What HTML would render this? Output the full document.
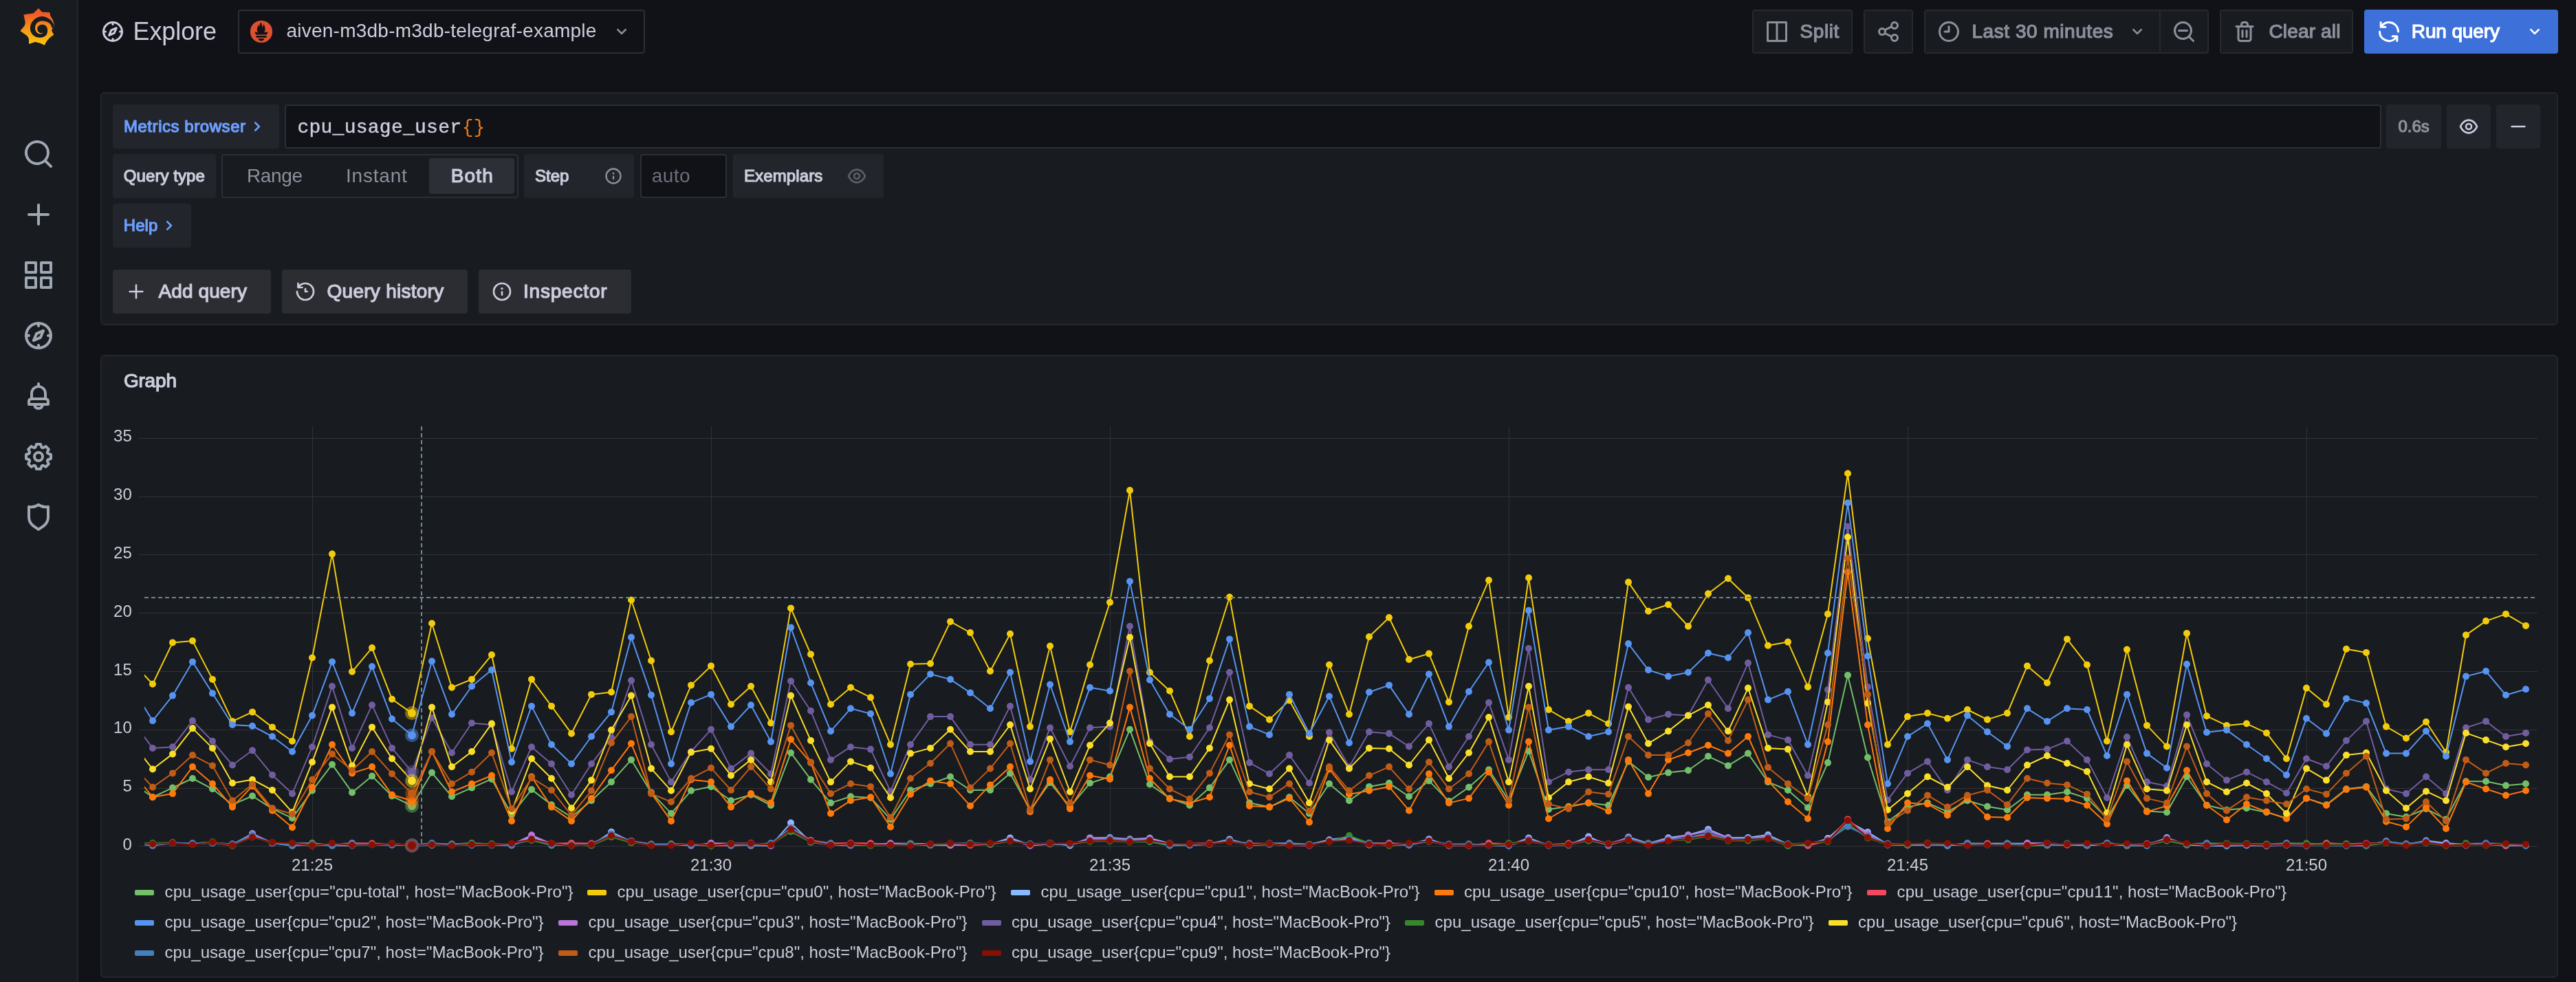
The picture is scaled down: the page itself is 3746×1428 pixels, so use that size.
<!DOCTYPE html>
<html><head><meta charset="utf-8"><title>Explore - Grafana</title><style>
html,body{margin:0;padding:0;background:#111217;}
body{width:3746px;height:1428px;position:relative;overflow:hidden;font-family:"Liberation Sans",sans-serif;}
.b{position:absolute;box-sizing:border-box;}
.ic{position:absolute;display:block;}
.t{position:absolute;white-space:pre;line-height:1;font-kerning:none;}
.m{font-family:"Liberation Mono",monospace;}
.w5{-webkit-text-stroke:1.2px currentColor;}
.w4{-webkit-text-stroke:0.45px currentColor;}

</style></head><body>
<div class="b" style="left:0;top:0;width:114px;height:1428px;background:#181b1f;border-right:2px solid #24262c"></div>
<svg class="ic" style="left:16px;top:0px" width="80" height="80" viewBox="0 0 982 982">
<defs><linearGradient id="lg" x1="0" y1="0" x2="0" y2="1"><stop offset="0.15" stop-color="#f05a28"/><stop offset="0.6" stop-color="#f59b17"/><stop offset="1" stop-color="#fcc60c"/></linearGradient></defs>
<path fill="url(#lg)" d="M492,148 L553,215 L690,222 L705,285 C745,340 768,400 772,465 L742,505 L725,545 L765,620 L700,665 L640,730 L598,808 L520,770 L430,750 L320,785 L318,690 L290,640 L165,553 L245,455 L255,400 L225,262 L400,235 Z"/>
<path fill="#181b1f" d="M772,465 C760,420 730,370 700,350 C660,315 610,292 560,290 C480,290 400,340 360,420 C335,480 340,540 360,580 C390,640 450,672 520,672 C570,670 610,650 635,620 C650,590 655,550 650,520 C645,475 610,440 560,440 C510,440 472,470 470,510 C468,550 490,580 520,588 C545,594 565,590 578,578 C565,598 545,608 525,607 C470,605 432,560 430,500 C430,430 480,378 545,375 C620,372 690,400 715,450 C722,465 725,480 725,492 L748,500 Z"/>
</svg>
<svg class="ic" style="left:32px;top:200px" width="48" height="48" viewBox="0 0 24 24"><path fill="#9fa7b3" d="M21.71,20.29,18,16.61A9,9,0,1,0,16.61,18l3.68,3.68a1,1,0,0,0,1.42,0A1,1,0,0,0,21.71,20.29ZM11,18a7,7,0,1,1,7-7A7,7,0,0,1,11,18Z"/></svg>
<svg class="ic" style="left:32px;top:288px" width="48" height="48" viewBox="0 0 24 24"><path fill="#9fa7b3" d="M19,11H13V5a1,1,0,0,0-2,0v6H5a1,1,0,0,0,0,2h6v6a1,1,0,0,0,2,0V13h6a1,1,0,0,0,0-2Z"/></svg>
<svg class="ic" style="left:32px;top:376px" width="48" height="48" viewBox="0 0 24 24"><path fill="#9fa7b3" d="M10,13H3a1,1,0,0,0-1,1v7a1,1,0,0,0,1,1h7a1,1,0,0,0,1-1V14A1,1,0,0,0,10,13ZM9,20H4V15H9ZM21,2H14a1,1,0,0,0-1,1v7a1,1,0,0,0,1,1h7a1,1,0,0,0,1-1V3A1,1,0,0,0,21,2ZM20,9H15V4h5Zm1,4H14a1,1,0,0,0-1,1v7a1,1,0,0,0,1,1h7a1,1,0,0,0,1-1V14A1,1,0,0,0,21,13Zm-1,7H15V15h5ZM10,2H3A1,1,0,0,0,2,3v7a1,1,0,0,0,1,1h7a1,1,0,0,0,1-1V3A1,1,0,0,0,10,2ZM9,9H4V4H9Z"/></svg>
<svg class="ic" style="left:32px;top:464px" width="48" height="48" viewBox="0 0 24 24"><path fill="#9fa7b3" d="M12,2A10,10,0,1,0,22,12,10,10,0,0,0,12,2Zm1,17.93V19a1,1,0,0,0-2,0v.93A8,8,0,0,1,4.07,13H5a1,1,0,0,0,0-2H4.07A8,8,0,0,1,11,4.07V5a1,1,0,0,0,2,0V4.07A8,8,0,0,1,19.93,11H19a1,1,0,0,0,0,2h.93A8,8,0,0,1,13,19.93ZM15.14,7.55l-5,2.12a1,1,0,0,0-.53.53l-2.12,5a1,1,0,0,0,.21,1.1,1,1,0,0,0,.7.29.93.93,0,0,0,.39-.08l5-2.12a1,1,0,0,0,.53-.53l2.12-5a1,1,0,0,0-1.31-1.31Zm-2.49,5.1-2.28,1,1-2.28,2.28-1Z"/></svg>
<svg class="ic" style="left:32px;top:552px" width="48" height="48" viewBox="0 0 24 24"><path fill="#9fa7b3" d="M18,13.18V10a6,6,0,0,0-5-5.91V3a1,1,0,0,0-2,0V4.09A6,6,0,0,0,6,10v3.18A3,3,0,0,0,4,16v2a1,1,0,0,0,1,1H8.14a4,4,0,0,0,7.72,0H19a1,1,0,0,0,1-1V16A3,3,0,0,0,18,13.18ZM8,10a4,4,0,0,1,8,0v3H8Zm4,10a2,2,0,0,1-1.72-1h3.44A2,2,0,0,1,12,20Zm6-3H6V16a1,1,0,0,1,1-1H17a1,1,0,0,1,1,1Z"/></svg>
<svg class="ic" style="left:32px;top:640px" width="48" height="48" viewBox="0 0 24 24"><path fill="#9fa7b3" d="M21.32,9.55l-1.89-.63.89-1.78A1,1,0,0,0,20.13,6L18,3.87a1,1,0,0,0-1.15-.19l-1.78.89-.63-1.89A1,1,0,0,0,13.5,2h-3a1,1,0,0,0-.95.68L8.92,4.57,7.14,3.68A1,1,0,0,0,6,3.87L3.87,6a1,1,0,0,0-.19,1.15l.89,1.78-1.89.63A1,1,0,0,0,2,10.5v3a1,1,0,0,0,.68.95l1.89.63-.89,1.78A1,1,0,0,0,3.87,18L6,20.13a1,1,0,0,0,1.15.19l1.78-.89.63,1.89a1,1,0,0,0,.95.68h3a1,1,0,0,0,.95-.68l.63-1.89,1.78.89A1,1,0,0,0,18,20.13L20.13,18a1,1,0,0,0,.19-1.15l-.89-1.78,1.89-.63A1,1,0,0,0,22,13.5v-3A1,1,0,0,0,21.32,9.55ZM20,12.78l-1.2.4A2,2,0,0,0,17.64,16l.57,1.14-1.1,1.1L16,17.64a2,2,0,0,0-2.79,1.16l-.4,1.2H11.22l-.4-1.2A2,2,0,0,0,8,17.64l-1.14.57-1.1-1.1L6.36,16A2,2,0,0,0,5.2,13.18L4,12.78V11.22l1.2-.4A2,2,0,0,0,6.36,8L5.79,6.89l1.1-1.1L8,6.36A2,2,0,0,0,10.82,5.2l.4-1.2h1.56l.4,1.2A2,2,0,0,0,16,6.36l1.14-.57,1.1,1.1L17.64,8a2,2,0,0,0,1.16,2.79l1.2.4ZM12,8a4,4,0,1,0,4,4A4,4,0,0,0,12,8Zm0,6a2,2,0,1,1,2-2A2,2,0,0,1,12,14Z"/></svg>
<svg class="ic" style="left:32px;top:728px" width="48" height="48" viewBox="0 0 24 24"><path fill="#9fa7b3" d="M19.63,3.65a1,1,0,0,0-.84-.2,8,8,0,0,1-6.22-1.27,1,1,0,0,0-1.14,0A8,8,0,0,1,5.21,3.45a1,1,0,0,0-.84.2A1,1,0,0,0,4,4.43v7.45a9,9,0,0,0,3.77,7.33l3.65,2.6a1,1,0,0,0,1.16,0l3.65-2.6A9,9,0,0,0,20,11.88V4.43A1,1,0,0,0,19.63,3.65ZM18,11.88a7,7,0,0,1-2.93,5.7L12,19.77,8.93,17.58A7,7,0,0,1,6,11.88V5.58a10,10,0,0,0,6-1.39,10,10,0,0,0,6,1.39Z"/></svg>
<svg class="ic" style="left:146px;top:28px" width="36" height="36" viewBox="0 0 24 24"><path fill="#ccccdc" d="M12,2A10,10,0,1,0,22,12,10,10,0,0,0,12,2Zm1,17.93V19a1,1,0,0,0-2,0v.93A8,8,0,0,1,4.07,13H5a1,1,0,0,0,0-2H4.07A8,8,0,0,1,11,4.07V5a1,1,0,0,0,2,0V4.07A8,8,0,0,1,19.93,11H19a1,1,0,0,0,0,2h.93A8,8,0,0,1,13,19.93ZM15.14,7.55l-5,2.12a1,1,0,0,0-.53.53l-2.12,5a1,1,0,0,0,.21,1.1,1,1,0,0,0,.7.29.93.93,0,0,0,.39-.08l5-2.12a1,1,0,0,0,.53-.53l2.12-5a1,1,0,0,0-1.31-1.31Zm-2.49,5.1-2.28,1,1-2.28,2.28-1Z"/></svg>
<div class="b" style="left:346px;top:14px;width:592px;height:64px;background:#111217;border-radius:4px;border:2px solid #2c2e36;"></div>
<svg class="ic" style="left:364px;top:30px" width="32" height="32" viewBox="0 0 32 32"><circle cx="16" cy="16" r="16.1" fill="#de502f"/>
<path fill="#141217" d="M15.4,2 C16.5,4.5 17.3,6.8 17.7,10 C18.5,8.4 19.2,6.6 19.5,4.8 C20.5,7.5 21.8,10 21.6,13.3 C21.5,15 20.9,16 20.3,16.9 L25.6,16.5 L23.9,20.4 L8.2,20.4 L6.3,16.5 L11.3,16.9 C10.2,15.6 9.6,14.6 9.8,13.3 C9.9,10.5 11,8 11.4,5.6 C11.9,7 12.3,8 12.4,9.3 C13.2,7 14.2,4.5 15.4,2 Z"/>
<rect x="8.500" y="22" width="15.200" height="2.600" fill="#141217"/>
<path fill="#141217" d="M11.300,26 H20.500 C19.900,28.200 18.100,29.500 15.900,29.500 C13.700,29.500 11.900,28.200 11.300,26 Z"/></svg>
<svg class="ic" style="left:888px;top:30px" width="32" height="32" viewBox="0 0 24 24"><path fill="#8e8f9c" d="M17,9.17a1,1,0,0,0-1.41,0L12,12.71,8.46,9.17a1,1,0,0,0-1.41,0,1,1,0,0,0,0,1.42l4.24,4.24a1,1,0,0,0,1.42,0L17,10.59A1,1,0,0,0,17,9.17Z"/></svg>
<div class="b" style="left:2548px;top:14px;width:146px;height:64px;background:#181b1f;border-radius:4px;border:2px solid #27292f;"></div>
<svg class="ic" style="left:2566px;top:28px" width="36" height="36" viewBox="0 0 24 24"><path fill="#8e8f9c" d="M21,2H3A1,1,0,0,0,2,3V21a1,1,0,0,0,1,1H21a1,1,0,0,0,1-1V3A1,1,0,0,0,21,2ZM11,20H4V4h7Zm9,0H13V4h7Z"/></svg>
<div class="b" style="left:2710px;top:14px;width:72px;height:64px;background:#181b1f;border-radius:4px;border:2px solid #27292f;"></div>
<svg class="ic" style="left:2728px;top:28px" width="36" height="36" viewBox="0 0 24 24"><path fill="#8e8f9c" d="M18,14a4,4,0,0,0-3.08,1.48l-5.1-2.35a3.64,3.64,0,0,0,0-2.26l5.1-2.35A4,4,0,1,0,14,6a4.17,4.17,0,0,0,.07.71L8.79,9.14a4,4,0,1,0,0,5.72l5.28,2.43A4.17,4.17,0,0,0,14,18a4,4,0,1,0,4-4ZM18,4a2,2,0,1,1-2,2A2,2,0,0,1,18,4ZM6,14a2,2,0,1,1,2-2A2,2,0,0,1,6,14Zm12,6a2,2,0,1,1,2-2A2,2,0,0,1,18,20Z"/></svg>
<div class="b" style="left:2798px;top:14px;width:414px;height:64px;background:#181b1f;border-radius:4px;border:2px solid #27292f;"></div>
<div class="b" style="left:3140px;top:16px;width:2px;height:60px;background:#27292f"></div>
<svg class="ic" style="left:2816px;top:28px" width="36" height="36" viewBox="0 0 24 24"><path fill="#8e8f9c" d="M12,2A10,10,0,1,0,22,12,10.01,10.01,0,0,0,12,2Zm0,18a8,8,0,1,1,8-8A8.01,8.01,0,0,1,12,20ZM12,6a1,1,0,0,0-1,1v4H8a1,1,0,0,0,0,2h4a1,1,0,0,0,1-1V7A1,1,0,0,0,12,6Z"/></svg>
<svg class="ic" style="left:3092px;top:30px" width="32" height="32" viewBox="0 0 24 24"><path fill="#8e8f9c" d="M17,9.17a1,1,0,0,0-1.41,0L12,12.71,8.46,9.17a1,1,0,0,0-1.41,0,1,1,0,0,0,0,1.42l4.24,4.24a1,1,0,0,0,1.42,0L17,10.59A1,1,0,0,0,17,9.17Z"/></svg>
<svg class="ic" style="left:3158px;top:28px" width="36" height="36" viewBox="0 0 24 24"><path fill="#8e8f9c" d="M21.71,20.29,18,16.61A9,9,0,1,0,16.61,18l3.68,3.68a1,1,0,0,0,1.42,0A1,1,0,0,0,21.71,20.29ZM11,18a7,7,0,1,1,7-7A7,7,0,0,1,11,18Zm4-8H7a1,1,0,0,0,0,2h8a1,1,0,0,0,0-2Z"/></svg>
<div class="b" style="left:3228px;top:14px;width:194px;height:64px;background:#181b1f;border-radius:4px;border:2px solid #27292f;"></div>
<svg class="ic" style="left:3246px;top:28px" width="36" height="36" viewBox="0 0 24 24"><path fill="#8e8f9c" d="M10,18a1,1,0,0,0,1-1V11a1,1,0,0,0-2,0v6A1,1,0,0,0,10,18ZM20,6H16V5a3,3,0,0,0-3-3H11A3,3,0,0,0,8,5V6H4A1,1,0,0,0,4,8H5V19a3,3,0,0,0,3,3h8a3,3,0,0,0,3-3V8h1a1,1,0,0,0,0-2ZM10,5a1,1,0,0,1,1-1h2a1,1,0,0,1,1,1V6H10Zm7,14a1,1,0,0,1-1,1H8a1,1,0,0,1-1-1V8H17Zm-3-1a1,1,0,0,0,1-1V11a1,1,0,0,0-2,0v6A1,1,0,0,0,14,18Z"/></svg>
<div class="b" style="left:3438px;top:14px;width:282px;height:64px;background:#3d71d9;border-radius:4px;"></div>
<svg class="ic" style="left:3456px;top:28px" width="36" height="36" viewBox="0 0 24 24"><path fill="#ffffff" d="M19.91,15.51H15.38a1,1,0,0,0,0,2h2.4A8,8,0,0,1,4,12a1,1,0,0,0-2,0,10,10,0,0,0,16.88,7.23V21a1,1,0,0,0,2,0V16.5A1,1,0,0,0,19.91,15.51ZM12,2A10,10,0,0,0,5.12,4.77V3a1,1,0,0,0-2,0V7.5a1,1,0,0,0,1,1h4.5a1,1,0,0,0,0-2H6.22A8,8,0,0,1,20,12a1,1,0,0,0,2,0A10,10,0,0,0,12,2Z"/></svg>
<svg class="ic" style="left:3670px;top:30px" width="32" height="32" viewBox="0 0 24 24"><path fill="#ffffff" d="M17,9.17a1,1,0,0,0-1.41,0L12,12.71,8.46,9.17a1,1,0,0,0-1.41,0,1,1,0,0,0,0,1.42l4.24,4.24a1,1,0,0,0,1.42,0L17,10.59A1,1,0,0,0,17,9.17Z"/></svg>
<div class="b" style="left:146px;top:134px;width:3574px;height:339px;background:#181b1f;border-radius:6px;border:2px solid #24262c;"></div>
<div class="b" style="left:164px;top:152px;width:242px;height:64px;background:#22252b;border-radius:4px;"></div>
<svg class="ic" style="left:358px;top:168px" width="32" height="32" viewBox="0 0 24 24"><path fill="#6e9fff" d="M14.83,11.29,10.59,7.05a1,1,0,0,0-1.42,0,1,1,0,0,0,0,1.41L12.71,12,9.17,15.54a1,1,0,0,0,0,1.41,1,1,0,0,0,.71.29,1,1,0,0,0,.71-.29l4.24-4.24A1,1,0,0,0,14.83,11.29Z"/></svg>
<div class="b" style="left:414px;top:152px;width:3049px;height:64px;background:#111217;border-radius:4px;border:2px solid #2c2e36;"></div>
<div class="b" style="left:3470px;top:152px;width:80px;height:64px;background:#22252b;border-radius:4px;"></div>
<div class="b" style="left:3558px;top:152px;width:64px;height:64px;background:#22252b;border-radius:4px;"></div>
<svg class="ic" style="left:3574px;top:168px" width="32" height="32" viewBox="0 0 24 24"><path fill="#ccccdc" d="M21.92,11.6C19.9,6.91,16.1,4,12,4S4.1,6.91,2.08,11.6a1,1,0,0,0,0,.8C4.1,17.09,7.9,20,12,20s7.9-2.91,9.92-7.6A1,1,0,0,0,21.92,11.6ZM12,18c-3.17,0-6.17-2.29-7.9-6C5.83,8.29,8.83,6,12,6s6.17,2.29,7.9,6C18.17,15.71,15.17,18,12,18ZM12,8a4,4,0,1,0,4,4A4,4,0,0,0,12,8Zm0,6a2,2,0,1,1,2-2A2,2,0,0,1,12,14Z"/></svg>
<div class="b" style="left:3630px;top:152px;width:64px;height:64px;background:#22252b;border-radius:4px;"></div>
<svg class="ic" style="left:3646px;top:168px" width="32" height="32" viewBox="0 0 24 24"><path fill="#ccccdc" d="M19,11H5a1,1,0,0,0,0,2H19a1,1,0,0,0,0-2Z"/></svg>
<div class="b" style="left:164px;top:224px;width:150px;height:64px;background:#22252b;border-radius:4px;"></div>
<div class="b" style="left:322px;top:224px;width:432px;height:64px;background:#181b1f;border-radius:4px;border:2px solid #2c2e36;"></div>
<div class="b" style="left:624px;top:230px;width:124px;height:52px;background:#2d2f36;border-radius:4px;"></div>
<div class="b" style="left:762px;top:224px;width:160px;height:64px;background:#22252b;border-radius:4px;"></div>
<svg class="ic" style="left:878px;top:242px" width="28" height="28" viewBox="0 0 24 24"><path fill="#8e8f9c" d="M12,2A10,10,0,1,0,22,12,10.01,10.01,0,0,0,12,2Zm0,18a8,8,0,1,1,8-8A8.01,8.01,0,0,1,12,20Zm0-8.5a1,1,0,0,0-1,1v3a1,1,0,0,0,2,0v-3A1,1,0,0,0,12,11.5Zm0-4a1.25,1.25,0,1,0,1.25,1.25A1.25,1.25,0,0,0,12,7.5Z"/></svg>
<div class="b" style="left:931px;top:224px;width:126px;height:64px;background:#111217;border-radius:4px;border:2px solid #2c2e36;"></div>
<div class="b" style="left:1066px;top:224px;width:219px;height:64px;background:#22252b;border-radius:4px;"></div>
<svg class="ic" style="left:1230px;top:240px" width="32" height="32" viewBox="0 0 24 24"><path fill="#5c5e6a" d="M21.92,11.6C19.9,6.91,16.1,4,12,4S4.1,6.91,2.08,11.6a1,1,0,0,0,0,.8C4.1,17.09,7.9,20,12,20s7.9-2.91,9.92-7.6A1,1,0,0,0,21.92,11.6ZM12,18c-3.17,0-6.17-2.29-7.9-6C5.83,8.29,8.83,6,12,6s6.17,2.29,7.9,6C18.17,15.71,15.17,18,12,18ZM12,8a4,4,0,1,0,4,4A4,4,0,0,0,12,8Zm0,6a2,2,0,1,1,2-2A2,2,0,0,1,12,14Z"/></svg>
<div class="b" style="left:164px;top:296px;width:114px;height:64px;background:#22252b;border-radius:4px;"></div>
<svg class="ic" style="left:230px;top:312px" width="32" height="32" viewBox="0 0 24 24"><path fill="#6e9fff" d="M14.83,11.29,10.59,7.05a1,1,0,0,0-1.42,0,1,1,0,0,0,0,1.41L12.71,12,9.17,15.54a1,1,0,0,0,0,1.41,1,1,0,0,0,.71.29,1,1,0,0,0,.71-.29l4.24-4.24A1,1,0,0,0,14.83,11.29Z"/></svg>
<div class="b" style="left:164px;top:392px;width:230px;height:64px;background:#2b2d33;border-radius:4px;"></div>
<svg class="ic" style="left:182px;top:408px" width="32" height="32" viewBox="0 0 24 24"><path fill="#ccccdc" d="M19,11H13V5a1,1,0,0,0-2,0v6H5a1,1,0,0,0,0,2h6v6a1,1,0,0,0,2,0V13h6a1,1,0,0,0,0-2Z"/></svg>
<div class="b" style="left:410px;top:392px;width:270px;height:64px;background:#2b2d33;border-radius:4px;"></div>
<svg class="ic" style="left:428px;top:408px" width="32" height="32" viewBox="0 0 24 24"><path fill="#ccccdc" d="M12,2A10,10,0,0,0,5.12,4.77V3a1,1,0,0,0-2,0V7.5a1,1,0,0,0,1,1H8.62a1,1,0,0,0,0-2H6.22A8,8,0,1,1,4,12a1,1,0,0,0-2,0A10,10,0,1,0,12,2Zm0,6a1,1,0,0,0-1,1v3a1,1,0,0,0,1,1h2a1,1,0,0,0,0-2H13V9A1,1,0,0,0,12,8Z"/></svg>
<div class="b" style="left:696px;top:392px;width:222px;height:64px;background:#2b2d33;border-radius:4px;"></div>
<svg class="ic" style="left:714px;top:408px" width="32" height="32" viewBox="0 0 24 24"><path fill="#ccccdc" d="M12,2A10,10,0,1,0,22,12,10.01,10.01,0,0,0,12,2Zm0,18a8,8,0,1,1,8-8A8.01,8.01,0,0,1,12,20Zm0-8.5a1,1,0,0,0-1,1v3a1,1,0,0,0,2,0v-3A1,1,0,0,0,12,11.5Zm0-4a1.25,1.25,0,1,0,1.25,1.25A1.25,1.25,0,0,0,12,7.5Z"/></svg>
<div class="b" style="left:146px;top:516px;width:3574px;height:906px;background:#181b1f;border-radius:6px;border:2px solid #24262c;"></div>
<svg class="chart" width="3746" height="1428" viewBox="0 0 3746 1428" style="position:absolute;left:0;top:0">
<defs><clipPath id="cp"><rect x="210" y="612" width="3480" height="634"/></clipPath></defs>
<path d="M202 1230.5H3690 M202 1146.5H3690 M202 1061.5H3690 M202 976.5H3690 M202 891.5H3690 M202 806.5H3690 M202 722.5H3690 M202 637.5H3690 M454.5 620V1238 M1034.5 620V1238 M1614.5 620V1238 M2194.5 620V1238 M2774.5 620V1238 M3354.5 620V1238" stroke="#2f3338" stroke-width="1" fill="none"/>
<g clip-path="url(#cp)">
<path d="M193 1138.8 L222 1159.2 L251 1145.6 L280 1132.0 L309 1147.3 L338 1170.2 L367 1157.5 L396 1176.1 L425 1189.7 L454 1149.8 L483 1111.7 L512 1152.4 L541 1128.6 L570 1157.5 L599 1171.9 L628 1123.6 L657 1158.3 L686 1145.6 L715 1132.9 L744 1184.6 L773 1148.1 L802 1170.2 L831 1188.0 L860 1164.3 L889 1137.1 L918 1104.9 L947 1152.4 L976 1182.9 L1005 1149.8 L1034 1143.9 L1063 1164.3 L1092 1155.8 L1121 1171.0 L1150 1094.7 L1179 1133.7 L1208 1167.6 L1237 1158.3 L1266 1160.0 L1295 1191.4 L1324 1149.0 L1353 1139.7 L1382 1129.5 L1411 1149.0 L1440 1149.0 L1469 1124.4 L1498 1177.8 L1527 1138.0 L1556 1173.6 L1585 1138.8 L1614 1129.5 L1643 1060.8 L1672 1140.5 L1701 1160.9 L1730 1171.0 L1759 1145.6 L1788 1104.9 L1817 1167.6 L1846 1173.6 L1875 1159.2 L1904 1182.9 L1933 1139.7 L1962 1164.3 L1991 1143.9 L2020 1138.8 L2049 1158.3 L2078 1135.4 L2107 1165.1 L2136 1144.8 L2165 1119.3 L2194 1164.3 L2223 1092.2 L2252 1177.0 L2281 1172.7 L2310 1167.6 L2339 1171.0 L2368 1107.4 L2397 1130.3 L2426 1123.6 L2455 1120.2 L2484 1099.8 L2513 1113.4 L2542 1095.6 L2571 1137.1 L2600 1149.0 L2629 1174.4 L2658 1109.1 L2687 981.9 L2716 1101.5 L2745 1194.8 L2774 1173.6 L2803 1167.6 L2832 1180.4 L2861 1164.3 L2890 1172.7 L2919 1177.8 L2948 1155.8 L2977 1155.8 L3006 1151.5 L3035 1160.9 L3064 1189.7 L3093 1142.2 L3122 1179.5 L3151 1181.2 L3180 1129.5 L3209 1171.0 L3238 1177.8 L3267 1175.3 L3296 1181.2 L3325 1189.7 L3354 1160.9 L3383 1170.2 L3412 1147.3 L3441 1143.9 L3470 1182.9 L3499 1188.0 L3528 1176.1 L3557 1191.4 L3586 1136.3 L3615 1136.3 L3644 1142.2 L3673 1139.7" stroke="#73BF69" stroke-width="2" fill="none" stroke-linejoin="round"/>
<path d="M222 1159.2m-5 0a5 5 0 1 0 10 0a5 5 0 1 0-10 0M251 1145.6m-5 0a5 5 0 1 0 10 0a5 5 0 1 0-10 0M280 1132.0m-5 0a5 5 0 1 0 10 0a5 5 0 1 0-10 0M309 1147.3m-5 0a5 5 0 1 0 10 0a5 5 0 1 0-10 0M338 1170.2m-5 0a5 5 0 1 0 10 0a5 5 0 1 0-10 0M367 1157.5m-5 0a5 5 0 1 0 10 0a5 5 0 1 0-10 0M396 1176.1m-5 0a5 5 0 1 0 10 0a5 5 0 1 0-10 0M425 1189.7m-5 0a5 5 0 1 0 10 0a5 5 0 1 0-10 0M454 1149.8m-5 0a5 5 0 1 0 10 0a5 5 0 1 0-10 0M483 1111.7m-5 0a5 5 0 1 0 10 0a5 5 0 1 0-10 0M512 1152.4m-5 0a5 5 0 1 0 10 0a5 5 0 1 0-10 0M541 1128.6m-5 0a5 5 0 1 0 10 0a5 5 0 1 0-10 0M570 1157.5m-5 0a5 5 0 1 0 10 0a5 5 0 1 0-10 0M599 1171.9m-5 0a5 5 0 1 0 10 0a5 5 0 1 0-10 0M628 1123.6m-5 0a5 5 0 1 0 10 0a5 5 0 1 0-10 0M657 1158.3m-5 0a5 5 0 1 0 10 0a5 5 0 1 0-10 0M686 1145.6m-5 0a5 5 0 1 0 10 0a5 5 0 1 0-10 0M715 1132.9m-5 0a5 5 0 1 0 10 0a5 5 0 1 0-10 0M744 1184.6m-5 0a5 5 0 1 0 10 0a5 5 0 1 0-10 0M773 1148.1m-5 0a5 5 0 1 0 10 0a5 5 0 1 0-10 0M802 1170.2m-5 0a5 5 0 1 0 10 0a5 5 0 1 0-10 0M831 1188.0m-5 0a5 5 0 1 0 10 0a5 5 0 1 0-10 0M860 1164.3m-5 0a5 5 0 1 0 10 0a5 5 0 1 0-10 0M889 1137.1m-5 0a5 5 0 1 0 10 0a5 5 0 1 0-10 0M918 1104.9m-5 0a5 5 0 1 0 10 0a5 5 0 1 0-10 0M947 1152.4m-5 0a5 5 0 1 0 10 0a5 5 0 1 0-10 0M976 1182.9m-5 0a5 5 0 1 0 10 0a5 5 0 1 0-10 0M1005 1149.8m-5 0a5 5 0 1 0 10 0a5 5 0 1 0-10 0M1034 1143.9m-5 0a5 5 0 1 0 10 0a5 5 0 1 0-10 0M1063 1164.3m-5 0a5 5 0 1 0 10 0a5 5 0 1 0-10 0M1092 1155.8m-5 0a5 5 0 1 0 10 0a5 5 0 1 0-10 0M1121 1171.0m-5 0a5 5 0 1 0 10 0a5 5 0 1 0-10 0M1150 1094.7m-5 0a5 5 0 1 0 10 0a5 5 0 1 0-10 0M1179 1133.7m-5 0a5 5 0 1 0 10 0a5 5 0 1 0-10 0M1208 1167.6m-5 0a5 5 0 1 0 10 0a5 5 0 1 0-10 0M1237 1158.3m-5 0a5 5 0 1 0 10 0a5 5 0 1 0-10 0M1266 1160.0m-5 0a5 5 0 1 0 10 0a5 5 0 1 0-10 0M1295 1191.4m-5 0a5 5 0 1 0 10 0a5 5 0 1 0-10 0M1324 1149.0m-5 0a5 5 0 1 0 10 0a5 5 0 1 0-10 0M1353 1139.7m-5 0a5 5 0 1 0 10 0a5 5 0 1 0-10 0M1382 1129.5m-5 0a5 5 0 1 0 10 0a5 5 0 1 0-10 0M1411 1149.0m-5 0a5 5 0 1 0 10 0a5 5 0 1 0-10 0M1440 1149.0m-5 0a5 5 0 1 0 10 0a5 5 0 1 0-10 0M1469 1124.4m-5 0a5 5 0 1 0 10 0a5 5 0 1 0-10 0M1498 1177.8m-5 0a5 5 0 1 0 10 0a5 5 0 1 0-10 0M1527 1138.0m-5 0a5 5 0 1 0 10 0a5 5 0 1 0-10 0M1556 1173.6m-5 0a5 5 0 1 0 10 0a5 5 0 1 0-10 0M1585 1138.8m-5 0a5 5 0 1 0 10 0a5 5 0 1 0-10 0M1614 1129.5m-5 0a5 5 0 1 0 10 0a5 5 0 1 0-10 0M1643 1060.8m-5 0a5 5 0 1 0 10 0a5 5 0 1 0-10 0M1672 1140.5m-5 0a5 5 0 1 0 10 0a5 5 0 1 0-10 0M1701 1160.9m-5 0a5 5 0 1 0 10 0a5 5 0 1 0-10 0M1730 1171.0m-5 0a5 5 0 1 0 10 0a5 5 0 1 0-10 0M1759 1145.6m-5 0a5 5 0 1 0 10 0a5 5 0 1 0-10 0M1788 1104.9m-5 0a5 5 0 1 0 10 0a5 5 0 1 0-10 0M1817 1167.6m-5 0a5 5 0 1 0 10 0a5 5 0 1 0-10 0M1846 1173.6m-5 0a5 5 0 1 0 10 0a5 5 0 1 0-10 0M1875 1159.2m-5 0a5 5 0 1 0 10 0a5 5 0 1 0-10 0M1904 1182.9m-5 0a5 5 0 1 0 10 0a5 5 0 1 0-10 0M1933 1139.7m-5 0a5 5 0 1 0 10 0a5 5 0 1 0-10 0M1962 1164.3m-5 0a5 5 0 1 0 10 0a5 5 0 1 0-10 0M1991 1143.9m-5 0a5 5 0 1 0 10 0a5 5 0 1 0-10 0M2020 1138.8m-5 0a5 5 0 1 0 10 0a5 5 0 1 0-10 0M2049 1158.3m-5 0a5 5 0 1 0 10 0a5 5 0 1 0-10 0M2078 1135.4m-5 0a5 5 0 1 0 10 0a5 5 0 1 0-10 0M2107 1165.1m-5 0a5 5 0 1 0 10 0a5 5 0 1 0-10 0M2136 1144.8m-5 0a5 5 0 1 0 10 0a5 5 0 1 0-10 0M2165 1119.3m-5 0a5 5 0 1 0 10 0a5 5 0 1 0-10 0M2194 1164.3m-5 0a5 5 0 1 0 10 0a5 5 0 1 0-10 0M2223 1092.2m-5 0a5 5 0 1 0 10 0a5 5 0 1 0-10 0M2252 1177.0m-5 0a5 5 0 1 0 10 0a5 5 0 1 0-10 0M2281 1172.7m-5 0a5 5 0 1 0 10 0a5 5 0 1 0-10 0M2310 1167.6m-5 0a5 5 0 1 0 10 0a5 5 0 1 0-10 0M2339 1171.0m-5 0a5 5 0 1 0 10 0a5 5 0 1 0-10 0M2368 1107.4m-5 0a5 5 0 1 0 10 0a5 5 0 1 0-10 0M2397 1130.3m-5 0a5 5 0 1 0 10 0a5 5 0 1 0-10 0M2426 1123.6m-5 0a5 5 0 1 0 10 0a5 5 0 1 0-10 0M2455 1120.2m-5 0a5 5 0 1 0 10 0a5 5 0 1 0-10 0M2484 1099.8m-5 0a5 5 0 1 0 10 0a5 5 0 1 0-10 0M2513 1113.4m-5 0a5 5 0 1 0 10 0a5 5 0 1 0-10 0M2542 1095.6m-5 0a5 5 0 1 0 10 0a5 5 0 1 0-10 0M2571 1137.1m-5 0a5 5 0 1 0 10 0a5 5 0 1 0-10 0M2600 1149.0m-5 0a5 5 0 1 0 10 0a5 5 0 1 0-10 0M2629 1174.4m-5 0a5 5 0 1 0 10 0a5 5 0 1 0-10 0M2658 1109.1m-5 0a5 5 0 1 0 10 0a5 5 0 1 0-10 0M2687 981.9m-5 0a5 5 0 1 0 10 0a5 5 0 1 0-10 0M2716 1101.5m-5 0a5 5 0 1 0 10 0a5 5 0 1 0-10 0M2745 1194.8m-5 0a5 5 0 1 0 10 0a5 5 0 1 0-10 0M2774 1173.6m-5 0a5 5 0 1 0 10 0a5 5 0 1 0-10 0M2803 1167.6m-5 0a5 5 0 1 0 10 0a5 5 0 1 0-10 0M2832 1180.4m-5 0a5 5 0 1 0 10 0a5 5 0 1 0-10 0M2861 1164.3m-5 0a5 5 0 1 0 10 0a5 5 0 1 0-10 0M2890 1172.7m-5 0a5 5 0 1 0 10 0a5 5 0 1 0-10 0M2919 1177.8m-5 0a5 5 0 1 0 10 0a5 5 0 1 0-10 0M2948 1155.8m-5 0a5 5 0 1 0 10 0a5 5 0 1 0-10 0M2977 1155.8m-5 0a5 5 0 1 0 10 0a5 5 0 1 0-10 0M3006 1151.5m-5 0a5 5 0 1 0 10 0a5 5 0 1 0-10 0M3035 1160.9m-5 0a5 5 0 1 0 10 0a5 5 0 1 0-10 0M3064 1189.7m-5 0a5 5 0 1 0 10 0a5 5 0 1 0-10 0M3093 1142.2m-5 0a5 5 0 1 0 10 0a5 5 0 1 0-10 0M3122 1179.5m-5 0a5 5 0 1 0 10 0a5 5 0 1 0-10 0M3151 1181.2m-5 0a5 5 0 1 0 10 0a5 5 0 1 0-10 0M3180 1129.5m-5 0a5 5 0 1 0 10 0a5 5 0 1 0-10 0M3209 1171.0m-5 0a5 5 0 1 0 10 0a5 5 0 1 0-10 0M3238 1177.8m-5 0a5 5 0 1 0 10 0a5 5 0 1 0-10 0M3267 1175.3m-5 0a5 5 0 1 0 10 0a5 5 0 1 0-10 0M3296 1181.2m-5 0a5 5 0 1 0 10 0a5 5 0 1 0-10 0M3325 1189.7m-5 0a5 5 0 1 0 10 0a5 5 0 1 0-10 0M3354 1160.9m-5 0a5 5 0 1 0 10 0a5 5 0 1 0-10 0M3383 1170.2m-5 0a5 5 0 1 0 10 0a5 5 0 1 0-10 0M3412 1147.3m-5 0a5 5 0 1 0 10 0a5 5 0 1 0-10 0M3441 1143.9m-5 0a5 5 0 1 0 10 0a5 5 0 1 0-10 0M3470 1182.9m-5 0a5 5 0 1 0 10 0a5 5 0 1 0-10 0M3499 1188.0m-5 0a5 5 0 1 0 10 0a5 5 0 1 0-10 0M3528 1176.1m-5 0a5 5 0 1 0 10 0a5 5 0 1 0-10 0M3557 1191.4m-5 0a5 5 0 1 0 10 0a5 5 0 1 0-10 0M3586 1136.3m-5 0a5 5 0 1 0 10 0a5 5 0 1 0-10 0M3615 1136.3m-5 0a5 5 0 1 0 10 0a5 5 0 1 0-10 0M3644 1142.2m-5 0a5 5 0 1 0 10 0a5 5 0 1 0-10 0M3673 1139.7m-5 0a5 5 0 1 0 10 0a5 5 0 1 0-10 0" fill="#73BF69"/>
<path d="M193 964.1 L222 994.7 L251 934.4 L280 931.9 L309 987.9 L338 1048.9 L367 1035.4 L396 1057.4 L425 1077.8 L454 956.5 L483 805.6 L512 976.8 L541 942.1 L570 1016.7 L599 1037.1 L628 906.5 L657 999.7 L686 987.9 L715 952.3 L744 1088.8 L773 987.9 L802 1026.9 L831 1066.7 L860 1009.9 L889 1006.5 L918 872.5 L947 960.7 L976 1064.2 L1005 996.4 L1034 968.4 L1063 1024.3 L1092 998.0 L1121 1051.5 L1150 884.4 L1179 951.4 L1208 1024.3 L1237 999.7 L1266 1014.2 L1295 1082.8 L1324 965.8 L1353 965.0 L1382 903.9 L1411 920.0 L1440 976.0 L1469 921.7 L1498 1056.6 L1527 939.5 L1556 1064.2 L1585 966.7 L1614 875.9 L1643 713.1 L1672 977.7 L1701 1004.8 L1730 1071.0 L1759 960.7 L1788 868.3 L1817 1026.9 L1846 1046.4 L1875 1018.4 L1904 1071.0 L1933 966.7 L1962 1038.8 L1991 926.0 L2020 898.0 L2049 959.0 L2078 950.6 L2107 1020.9 L2136 910.7 L2165 843.7 L2194 1043.0 L2223 840.3 L2252 1032.0 L2281 1048.9 L2310 1037.1 L2339 1052.3 L2368 846.6 L2397 888.7 L2426 879.3 L2455 910.7 L2484 863.2 L2513 841.2 L2542 869.2 L2571 938.7 L2600 933.6 L2629 998.9 L2658 892.9 L2687 688.5 L2716 928.5 L2745 1082.8 L2774 1042.1 L2803 1037.1 L2832 1044.7 L2861 1032.0 L2890 1046.4 L2919 1037.1 L2948 968.4 L2977 993.0 L3006 929.4 L3035 966.7 L3064 1077.8 L3093 944.6 L3122 1054.9 L3151 1085.4 L3180 920.9 L3209 1041.3 L3238 1054.9 L3267 1052.3 L3296 1065.9 L3325 1103.2 L3354 1000.6 L3383 1024.3 L3412 943.8 L3441 948.9 L3470 1056.6 L3499 1073.5 L3528 1049.8 L3557 1093.9 L3586 923.4 L3615 903.1 L3644 892.9 L3673 909.9" stroke="#F2CC0C" stroke-width="2" fill="none" stroke-linejoin="round"/>
<path d="M222 994.7m-5 0a5 5 0 1 0 10 0a5 5 0 1 0-10 0M251 934.4m-5 0a5 5 0 1 0 10 0a5 5 0 1 0-10 0M280 931.9m-5 0a5 5 0 1 0 10 0a5 5 0 1 0-10 0M309 987.9m-5 0a5 5 0 1 0 10 0a5 5 0 1 0-10 0M338 1048.9m-5 0a5 5 0 1 0 10 0a5 5 0 1 0-10 0M367 1035.4m-5 0a5 5 0 1 0 10 0a5 5 0 1 0-10 0M396 1057.4m-5 0a5 5 0 1 0 10 0a5 5 0 1 0-10 0M425 1077.8m-5 0a5 5 0 1 0 10 0a5 5 0 1 0-10 0M454 956.5m-5 0a5 5 0 1 0 10 0a5 5 0 1 0-10 0M483 805.6m-5 0a5 5 0 1 0 10 0a5 5 0 1 0-10 0M512 976.8m-5 0a5 5 0 1 0 10 0a5 5 0 1 0-10 0M541 942.1m-5 0a5 5 0 1 0 10 0a5 5 0 1 0-10 0M570 1016.7m-5 0a5 5 0 1 0 10 0a5 5 0 1 0-10 0M599 1037.1m-5 0a5 5 0 1 0 10 0a5 5 0 1 0-10 0M628 906.5m-5 0a5 5 0 1 0 10 0a5 5 0 1 0-10 0M657 999.7m-5 0a5 5 0 1 0 10 0a5 5 0 1 0-10 0M686 987.9m-5 0a5 5 0 1 0 10 0a5 5 0 1 0-10 0M715 952.3m-5 0a5 5 0 1 0 10 0a5 5 0 1 0-10 0M744 1088.8m-5 0a5 5 0 1 0 10 0a5 5 0 1 0-10 0M773 987.9m-5 0a5 5 0 1 0 10 0a5 5 0 1 0-10 0M802 1026.9m-5 0a5 5 0 1 0 10 0a5 5 0 1 0-10 0M831 1066.7m-5 0a5 5 0 1 0 10 0a5 5 0 1 0-10 0M860 1009.9m-5 0a5 5 0 1 0 10 0a5 5 0 1 0-10 0M889 1006.5m-5 0a5 5 0 1 0 10 0a5 5 0 1 0-10 0M918 872.5m-5 0a5 5 0 1 0 10 0a5 5 0 1 0-10 0M947 960.7m-5 0a5 5 0 1 0 10 0a5 5 0 1 0-10 0M976 1064.2m-5 0a5 5 0 1 0 10 0a5 5 0 1 0-10 0M1005 996.4m-5 0a5 5 0 1 0 10 0a5 5 0 1 0-10 0M1034 968.4m-5 0a5 5 0 1 0 10 0a5 5 0 1 0-10 0M1063 1024.3m-5 0a5 5 0 1 0 10 0a5 5 0 1 0-10 0M1092 998.0m-5 0a5 5 0 1 0 10 0a5 5 0 1 0-10 0M1121 1051.5m-5 0a5 5 0 1 0 10 0a5 5 0 1 0-10 0M1150 884.4m-5 0a5 5 0 1 0 10 0a5 5 0 1 0-10 0M1179 951.4m-5 0a5 5 0 1 0 10 0a5 5 0 1 0-10 0M1208 1024.3m-5 0a5 5 0 1 0 10 0a5 5 0 1 0-10 0M1237 999.7m-5 0a5 5 0 1 0 10 0a5 5 0 1 0-10 0M1266 1014.2m-5 0a5 5 0 1 0 10 0a5 5 0 1 0-10 0M1295 1082.8m-5 0a5 5 0 1 0 10 0a5 5 0 1 0-10 0M1324 965.8m-5 0a5 5 0 1 0 10 0a5 5 0 1 0-10 0M1353 965.0m-5 0a5 5 0 1 0 10 0a5 5 0 1 0-10 0M1382 903.9m-5 0a5 5 0 1 0 10 0a5 5 0 1 0-10 0M1411 920.0m-5 0a5 5 0 1 0 10 0a5 5 0 1 0-10 0M1440 976.0m-5 0a5 5 0 1 0 10 0a5 5 0 1 0-10 0M1469 921.7m-5 0a5 5 0 1 0 10 0a5 5 0 1 0-10 0M1498 1056.6m-5 0a5 5 0 1 0 10 0a5 5 0 1 0-10 0M1527 939.5m-5 0a5 5 0 1 0 10 0a5 5 0 1 0-10 0M1556 1064.2m-5 0a5 5 0 1 0 10 0a5 5 0 1 0-10 0M1585 966.7m-5 0a5 5 0 1 0 10 0a5 5 0 1 0-10 0M1614 875.9m-5 0a5 5 0 1 0 10 0a5 5 0 1 0-10 0M1643 713.1m-5 0a5 5 0 1 0 10 0a5 5 0 1 0-10 0M1672 977.7m-5 0a5 5 0 1 0 10 0a5 5 0 1 0-10 0M1701 1004.8m-5 0a5 5 0 1 0 10 0a5 5 0 1 0-10 0M1730 1071.0m-5 0a5 5 0 1 0 10 0a5 5 0 1 0-10 0M1759 960.7m-5 0a5 5 0 1 0 10 0a5 5 0 1 0-10 0M1788 868.3m-5 0a5 5 0 1 0 10 0a5 5 0 1 0-10 0M1817 1026.9m-5 0a5 5 0 1 0 10 0a5 5 0 1 0-10 0M1846 1046.4m-5 0a5 5 0 1 0 10 0a5 5 0 1 0-10 0M1875 1018.4m-5 0a5 5 0 1 0 10 0a5 5 0 1 0-10 0M1904 1071.0m-5 0a5 5 0 1 0 10 0a5 5 0 1 0-10 0M1933 966.7m-5 0a5 5 0 1 0 10 0a5 5 0 1 0-10 0M1962 1038.8m-5 0a5 5 0 1 0 10 0a5 5 0 1 0-10 0M1991 926.0m-5 0a5 5 0 1 0 10 0a5 5 0 1 0-10 0M2020 898.0m-5 0a5 5 0 1 0 10 0a5 5 0 1 0-10 0M2049 959.0m-5 0a5 5 0 1 0 10 0a5 5 0 1 0-10 0M2078 950.6m-5 0a5 5 0 1 0 10 0a5 5 0 1 0-10 0M2107 1020.9m-5 0a5 5 0 1 0 10 0a5 5 0 1 0-10 0M2136 910.7m-5 0a5 5 0 1 0 10 0a5 5 0 1 0-10 0M2165 843.7m-5 0a5 5 0 1 0 10 0a5 5 0 1 0-10 0M2194 1043.0m-5 0a5 5 0 1 0 10 0a5 5 0 1 0-10 0M2223 840.3m-5 0a5 5 0 1 0 10 0a5 5 0 1 0-10 0M2252 1032.0m-5 0a5 5 0 1 0 10 0a5 5 0 1 0-10 0M2281 1048.9m-5 0a5 5 0 1 0 10 0a5 5 0 1 0-10 0M2310 1037.1m-5 0a5 5 0 1 0 10 0a5 5 0 1 0-10 0M2339 1052.3m-5 0a5 5 0 1 0 10 0a5 5 0 1 0-10 0M2368 846.6m-5 0a5 5 0 1 0 10 0a5 5 0 1 0-10 0M2397 888.7m-5 0a5 5 0 1 0 10 0a5 5 0 1 0-10 0M2426 879.3m-5 0a5 5 0 1 0 10 0a5 5 0 1 0-10 0M2455 910.7m-5 0a5 5 0 1 0 10 0a5 5 0 1 0-10 0M2484 863.2m-5 0a5 5 0 1 0 10 0a5 5 0 1 0-10 0M2513 841.2m-5 0a5 5 0 1 0 10 0a5 5 0 1 0-10 0M2542 869.2m-5 0a5 5 0 1 0 10 0a5 5 0 1 0-10 0M2571 938.7m-5 0a5 5 0 1 0 10 0a5 5 0 1 0-10 0M2600 933.6m-5 0a5 5 0 1 0 10 0a5 5 0 1 0-10 0M2629 998.9m-5 0a5 5 0 1 0 10 0a5 5 0 1 0-10 0M2658 892.9m-5 0a5 5 0 1 0 10 0a5 5 0 1 0-10 0M2687 688.5m-5 0a5 5 0 1 0 10 0a5 5 0 1 0-10 0M2716 928.5m-5 0a5 5 0 1 0 10 0a5 5 0 1 0-10 0M2745 1082.8m-5 0a5 5 0 1 0 10 0a5 5 0 1 0-10 0M2774 1042.1m-5 0a5 5 0 1 0 10 0a5 5 0 1 0-10 0M2803 1037.1m-5 0a5 5 0 1 0 10 0a5 5 0 1 0-10 0M2832 1044.7m-5 0a5 5 0 1 0 10 0a5 5 0 1 0-10 0M2861 1032.0m-5 0a5 5 0 1 0 10 0a5 5 0 1 0-10 0M2890 1046.4m-5 0a5 5 0 1 0 10 0a5 5 0 1 0-10 0M2919 1037.1m-5 0a5 5 0 1 0 10 0a5 5 0 1 0-10 0M2948 968.4m-5 0a5 5 0 1 0 10 0a5 5 0 1 0-10 0M2977 993.0m-5 0a5 5 0 1 0 10 0a5 5 0 1 0-10 0M3006 929.4m-5 0a5 5 0 1 0 10 0a5 5 0 1 0-10 0M3035 966.7m-5 0a5 5 0 1 0 10 0a5 5 0 1 0-10 0M3064 1077.8m-5 0a5 5 0 1 0 10 0a5 5 0 1 0-10 0M3093 944.6m-5 0a5 5 0 1 0 10 0a5 5 0 1 0-10 0M3122 1054.9m-5 0a5 5 0 1 0 10 0a5 5 0 1 0-10 0M3151 1085.4m-5 0a5 5 0 1 0 10 0a5 5 0 1 0-10 0M3180 920.9m-5 0a5 5 0 1 0 10 0a5 5 0 1 0-10 0M3209 1041.3m-5 0a5 5 0 1 0 10 0a5 5 0 1 0-10 0M3238 1054.9m-5 0a5 5 0 1 0 10 0a5 5 0 1 0-10 0M3267 1052.3m-5 0a5 5 0 1 0 10 0a5 5 0 1 0-10 0M3296 1065.9m-5 0a5 5 0 1 0 10 0a5 5 0 1 0-10 0M3325 1103.2m-5 0a5 5 0 1 0 10 0a5 5 0 1 0-10 0M3354 1000.6m-5 0a5 5 0 1 0 10 0a5 5 0 1 0-10 0M3383 1024.3m-5 0a5 5 0 1 0 10 0a5 5 0 1 0-10 0M3412 943.8m-5 0a5 5 0 1 0 10 0a5 5 0 1 0-10 0M3441 948.9m-5 0a5 5 0 1 0 10 0a5 5 0 1 0-10 0M3470 1056.6m-5 0a5 5 0 1 0 10 0a5 5 0 1 0-10 0M3499 1073.5m-5 0a5 5 0 1 0 10 0a5 5 0 1 0-10 0M3528 1049.8m-5 0a5 5 0 1 0 10 0a5 5 0 1 0-10 0M3557 1093.9m-5 0a5 5 0 1 0 10 0a5 5 0 1 0-10 0M3586 923.4m-5 0a5 5 0 1 0 10 0a5 5 0 1 0-10 0M3615 903.1m-5 0a5 5 0 1 0 10 0a5 5 0 1 0-10 0M3644 892.9m-5 0a5 5 0 1 0 10 0a5 5 0 1 0-10 0M3673 909.9m-5 0a5 5 0 1 0 10 0a5 5 0 1 0-10 0" fill="#F2CC0C"/>
<path d="M193 1226.2 L222 1228.6 L251 1225.6 L280 1227.4 L309 1225.5 L338 1227.8 L367 1212.3 L396 1226.0 L425 1229.7 L454 1228.2 L483 1229.6 L512 1229.5 L541 1228.2 L570 1226.7 L599 1229.7 L628 1229.0 L657 1227.4 L686 1226.2 L715 1227.6 L744 1228.3 L773 1216.8 L802 1226.5 L831 1228.8 L860 1229.3 L889 1209.8 L918 1223.8 L947 1229.2 L976 1227.6 L1005 1227.4 L1034 1228.4 L1063 1227.8 L1092 1229.6 L1121 1229.7 L1150 1196.6 L1179 1224.6 L1208 1228.7 L1237 1227.6 L1266 1228.1 L1295 1228.7 L1324 1226.8 L1353 1227.2 L1382 1228.9 L1411 1227.7 L1440 1227.8 L1469 1218.5 L1498 1228.8 L1527 1226.1 L1556 1229.4 L1585 1218.4 L1614 1218.1 L1643 1220.3 L1672 1218.8 L1701 1226.5 L1730 1228.7 L1759 1227.2 L1788 1220.4 L1817 1228.1 L1846 1226.6 L1875 1226.2 L1904 1228.0 L1933 1221.3 L1962 1217.0 L1991 1226.0 L2020 1226.7 L2049 1228.8 L2078 1220.3 L2107 1229.8 L2136 1228.1 L2165 1229.2 L2194 1229.4 L2223 1218.4 L2252 1229.4 L2281 1228.9 L2310 1216.5 L2339 1229.6 L2368 1217.2 L2397 1226.4 L2426 1218.2 L2455 1214.3 L2484 1205.9 L2513 1218.1 L2542 1217.9 L2571 1214.1 L2600 1227.6 L2629 1228.9 L2658 1219.1 L2687 1194.0 L2716 1210.1 L2745 1227.9 L2774 1227.5 L2803 1227.3 L2832 1229.7 L2861 1226.4 L2890 1226.8 L2919 1226.5 L2948 1226.8 L2977 1228.4 L3006 1228.3 L3035 1229.5 L3064 1227.4 L3093 1229.6 L3122 1229.6 L3151 1218.1 L3180 1228.6 L3209 1229.7 L3238 1229.9 L3267 1229.3 L3296 1229.5 L3325 1228.5 L3354 1229.8 L3383 1226.5 L3412 1227.5 L3441 1229.3 L3470 1223.2 L3499 1228.5 L3528 1222.6 L3557 1226.0 L3586 1228.1 L3615 1228.0 L3644 1229.6 L3673 1229.5" stroke="#8AB8FF" stroke-width="2" fill="none" stroke-linejoin="round"/>
<path d="M222 1228.6m-5 0a5 5 0 1 0 10 0a5 5 0 1 0-10 0M251 1225.6m-5 0a5 5 0 1 0 10 0a5 5 0 1 0-10 0M280 1227.4m-5 0a5 5 0 1 0 10 0a5 5 0 1 0-10 0M309 1225.5m-5 0a5 5 0 1 0 10 0a5 5 0 1 0-10 0M338 1227.8m-5 0a5 5 0 1 0 10 0a5 5 0 1 0-10 0M367 1212.3m-5 0a5 5 0 1 0 10 0a5 5 0 1 0-10 0M396 1226.0m-5 0a5 5 0 1 0 10 0a5 5 0 1 0-10 0M425 1229.7m-5 0a5 5 0 1 0 10 0a5 5 0 1 0-10 0M454 1228.2m-5 0a5 5 0 1 0 10 0a5 5 0 1 0-10 0M483 1229.6m-5 0a5 5 0 1 0 10 0a5 5 0 1 0-10 0M512 1229.5m-5 0a5 5 0 1 0 10 0a5 5 0 1 0-10 0M541 1228.2m-5 0a5 5 0 1 0 10 0a5 5 0 1 0-10 0M570 1226.7m-5 0a5 5 0 1 0 10 0a5 5 0 1 0-10 0M599 1229.7m-5 0a5 5 0 1 0 10 0a5 5 0 1 0-10 0M628 1229.0m-5 0a5 5 0 1 0 10 0a5 5 0 1 0-10 0M657 1227.4m-5 0a5 5 0 1 0 10 0a5 5 0 1 0-10 0M686 1226.2m-5 0a5 5 0 1 0 10 0a5 5 0 1 0-10 0M715 1227.6m-5 0a5 5 0 1 0 10 0a5 5 0 1 0-10 0M744 1228.3m-5 0a5 5 0 1 0 10 0a5 5 0 1 0-10 0M773 1216.8m-5 0a5 5 0 1 0 10 0a5 5 0 1 0-10 0M802 1226.5m-5 0a5 5 0 1 0 10 0a5 5 0 1 0-10 0M831 1228.8m-5 0a5 5 0 1 0 10 0a5 5 0 1 0-10 0M860 1229.3m-5 0a5 5 0 1 0 10 0a5 5 0 1 0-10 0M889 1209.8m-5 0a5 5 0 1 0 10 0a5 5 0 1 0-10 0M918 1223.8m-5 0a5 5 0 1 0 10 0a5 5 0 1 0-10 0M947 1229.2m-5 0a5 5 0 1 0 10 0a5 5 0 1 0-10 0M976 1227.6m-5 0a5 5 0 1 0 10 0a5 5 0 1 0-10 0M1005 1227.4m-5 0a5 5 0 1 0 10 0a5 5 0 1 0-10 0M1034 1228.4m-5 0a5 5 0 1 0 10 0a5 5 0 1 0-10 0M1063 1227.8m-5 0a5 5 0 1 0 10 0a5 5 0 1 0-10 0M1092 1229.6m-5 0a5 5 0 1 0 10 0a5 5 0 1 0-10 0M1121 1229.7m-5 0a5 5 0 1 0 10 0a5 5 0 1 0-10 0M1150 1196.6m-5 0a5 5 0 1 0 10 0a5 5 0 1 0-10 0M1179 1224.6m-5 0a5 5 0 1 0 10 0a5 5 0 1 0-10 0M1208 1228.7m-5 0a5 5 0 1 0 10 0a5 5 0 1 0-10 0M1237 1227.6m-5 0a5 5 0 1 0 10 0a5 5 0 1 0-10 0M1266 1228.1m-5 0a5 5 0 1 0 10 0a5 5 0 1 0-10 0M1295 1228.7m-5 0a5 5 0 1 0 10 0a5 5 0 1 0-10 0M1324 1226.8m-5 0a5 5 0 1 0 10 0a5 5 0 1 0-10 0M1353 1227.2m-5 0a5 5 0 1 0 10 0a5 5 0 1 0-10 0M1382 1228.9m-5 0a5 5 0 1 0 10 0a5 5 0 1 0-10 0M1411 1227.7m-5 0a5 5 0 1 0 10 0a5 5 0 1 0-10 0M1440 1227.8m-5 0a5 5 0 1 0 10 0a5 5 0 1 0-10 0M1469 1218.5m-5 0a5 5 0 1 0 10 0a5 5 0 1 0-10 0M1498 1228.8m-5 0a5 5 0 1 0 10 0a5 5 0 1 0-10 0M1527 1226.1m-5 0a5 5 0 1 0 10 0a5 5 0 1 0-10 0M1556 1229.4m-5 0a5 5 0 1 0 10 0a5 5 0 1 0-10 0M1585 1218.4m-5 0a5 5 0 1 0 10 0a5 5 0 1 0-10 0M1614 1218.1m-5 0a5 5 0 1 0 10 0a5 5 0 1 0-10 0M1643 1220.3m-5 0a5 5 0 1 0 10 0a5 5 0 1 0-10 0M1672 1218.8m-5 0a5 5 0 1 0 10 0a5 5 0 1 0-10 0M1701 1226.5m-5 0a5 5 0 1 0 10 0a5 5 0 1 0-10 0M1730 1228.7m-5 0a5 5 0 1 0 10 0a5 5 0 1 0-10 0M1759 1227.2m-5 0a5 5 0 1 0 10 0a5 5 0 1 0-10 0M1788 1220.4m-5 0a5 5 0 1 0 10 0a5 5 0 1 0-10 0M1817 1228.1m-5 0a5 5 0 1 0 10 0a5 5 0 1 0-10 0M1846 1226.6m-5 0a5 5 0 1 0 10 0a5 5 0 1 0-10 0M1875 1226.2m-5 0a5 5 0 1 0 10 0a5 5 0 1 0-10 0M1904 1228.0m-5 0a5 5 0 1 0 10 0a5 5 0 1 0-10 0M1933 1221.3m-5 0a5 5 0 1 0 10 0a5 5 0 1 0-10 0M1962 1217.0m-5 0a5 5 0 1 0 10 0a5 5 0 1 0-10 0M1991 1226.0m-5 0a5 5 0 1 0 10 0a5 5 0 1 0-10 0M2020 1226.7m-5 0a5 5 0 1 0 10 0a5 5 0 1 0-10 0M2049 1228.8m-5 0a5 5 0 1 0 10 0a5 5 0 1 0-10 0M2078 1220.3m-5 0a5 5 0 1 0 10 0a5 5 0 1 0-10 0M2107 1229.8m-5 0a5 5 0 1 0 10 0a5 5 0 1 0-10 0M2136 1228.1m-5 0a5 5 0 1 0 10 0a5 5 0 1 0-10 0M2165 1229.2m-5 0a5 5 0 1 0 10 0a5 5 0 1 0-10 0M2194 1229.4m-5 0a5 5 0 1 0 10 0a5 5 0 1 0-10 0M2223 1218.4m-5 0a5 5 0 1 0 10 0a5 5 0 1 0-10 0M2252 1229.4m-5 0a5 5 0 1 0 10 0a5 5 0 1 0-10 0M2281 1228.9m-5 0a5 5 0 1 0 10 0a5 5 0 1 0-10 0M2310 1216.5m-5 0a5 5 0 1 0 10 0a5 5 0 1 0-10 0M2339 1229.6m-5 0a5 5 0 1 0 10 0a5 5 0 1 0-10 0M2368 1217.2m-5 0a5 5 0 1 0 10 0a5 5 0 1 0-10 0M2397 1226.4m-5 0a5 5 0 1 0 10 0a5 5 0 1 0-10 0M2426 1218.2m-5 0a5 5 0 1 0 10 0a5 5 0 1 0-10 0M2455 1214.3m-5 0a5 5 0 1 0 10 0a5 5 0 1 0-10 0M2484 1205.9m-5 0a5 5 0 1 0 10 0a5 5 0 1 0-10 0M2513 1218.1m-5 0a5 5 0 1 0 10 0a5 5 0 1 0-10 0M2542 1217.9m-5 0a5 5 0 1 0 10 0a5 5 0 1 0-10 0M2571 1214.1m-5 0a5 5 0 1 0 10 0a5 5 0 1 0-10 0M2600 1227.6m-5 0a5 5 0 1 0 10 0a5 5 0 1 0-10 0M2629 1228.9m-5 0a5 5 0 1 0 10 0a5 5 0 1 0-10 0M2658 1219.1m-5 0a5 5 0 1 0 10 0a5 5 0 1 0-10 0M2687 1194.0m-5 0a5 5 0 1 0 10 0a5 5 0 1 0-10 0M2716 1210.1m-5 0a5 5 0 1 0 10 0a5 5 0 1 0-10 0M2745 1227.9m-5 0a5 5 0 1 0 10 0a5 5 0 1 0-10 0M2774 1227.5m-5 0a5 5 0 1 0 10 0a5 5 0 1 0-10 0M2803 1227.3m-5 0a5 5 0 1 0 10 0a5 5 0 1 0-10 0M2832 1229.7m-5 0a5 5 0 1 0 10 0a5 5 0 1 0-10 0M2861 1226.4m-5 0a5 5 0 1 0 10 0a5 5 0 1 0-10 0M2890 1226.8m-5 0a5 5 0 1 0 10 0a5 5 0 1 0-10 0M2919 1226.5m-5 0a5 5 0 1 0 10 0a5 5 0 1 0-10 0M2948 1226.8m-5 0a5 5 0 1 0 10 0a5 5 0 1 0-10 0M2977 1228.4m-5 0a5 5 0 1 0 10 0a5 5 0 1 0-10 0M3006 1228.3m-5 0a5 5 0 1 0 10 0a5 5 0 1 0-10 0M3035 1229.5m-5 0a5 5 0 1 0 10 0a5 5 0 1 0-10 0M3064 1227.4m-5 0a5 5 0 1 0 10 0a5 5 0 1 0-10 0M3093 1229.6m-5 0a5 5 0 1 0 10 0a5 5 0 1 0-10 0M3122 1229.6m-5 0a5 5 0 1 0 10 0a5 5 0 1 0-10 0M3151 1218.1m-5 0a5 5 0 1 0 10 0a5 5 0 1 0-10 0M3180 1228.6m-5 0a5 5 0 1 0 10 0a5 5 0 1 0-10 0M3209 1229.7m-5 0a5 5 0 1 0 10 0a5 5 0 1 0-10 0M3238 1229.9m-5 0a5 5 0 1 0 10 0a5 5 0 1 0-10 0M3267 1229.3m-5 0a5 5 0 1 0 10 0a5 5 0 1 0-10 0M3296 1229.5m-5 0a5 5 0 1 0 10 0a5 5 0 1 0-10 0M3325 1228.5m-5 0a5 5 0 1 0 10 0a5 5 0 1 0-10 0M3354 1229.8m-5 0a5 5 0 1 0 10 0a5 5 0 1 0-10 0M3383 1226.5m-5 0a5 5 0 1 0 10 0a5 5 0 1 0-10 0M3412 1227.5m-5 0a5 5 0 1 0 10 0a5 5 0 1 0-10 0M3441 1229.3m-5 0a5 5 0 1 0 10 0a5 5 0 1 0-10 0M3470 1223.2m-5 0a5 5 0 1 0 10 0a5 5 0 1 0-10 0M3499 1228.5m-5 0a5 5 0 1 0 10 0a5 5 0 1 0-10 0M3528 1222.6m-5 0a5 5 0 1 0 10 0a5 5 0 1 0-10 0M3557 1226.0m-5 0a5 5 0 1 0 10 0a5 5 0 1 0-10 0M3586 1228.1m-5 0a5 5 0 1 0 10 0a5 5 0 1 0-10 0M3615 1228.0m-5 0a5 5 0 1 0 10 0a5 5 0 1 0-10 0M3644 1229.6m-5 0a5 5 0 1 0 10 0a5 5 0 1 0-10 0M3673 1229.5m-5 0a5 5 0 1 0 10 0a5 5 0 1 0-10 0" fill="#8AB8FF"/>
<path d="M193 1123.6 L222 1159.2 L251 1154.1 L280 1115.1 L309 1139.7 L338 1173.6 L367 1143.1 L396 1178.7 L425 1203.3 L454 1144.8 L483 1082.8 L512 1124.4 L541 1115.1 L570 1155.8 L599 1164.3 L628 1093.0 L657 1151.5 L686 1139.7 L715 1127.8 L744 1193.9 L773 1129.5 L802 1173.6 L831 1193.9 L860 1160.9 L889 1120.2 L918 1081.2 L947 1153.2 L976 1193.9 L1005 1133.7 L1034 1137.1 L1063 1173.6 L1092 1154.1 L1121 1167.6 L1150 1075.2 L1179 1109.1 L1208 1182.9 L1237 1164.3 L1266 1159.2 L1295 1202.4 L1324 1154.9 L1353 1135.4 L1382 1139.7 L1411 1171.9 L1440 1141.4 L1469 1115.1 L1498 1180.4 L1527 1133.7 L1556 1176.1 L1585 1127.8 L1614 1132.9 L1643 1028.6 L1672 1132.0 L1701 1161.7 L1730 1167.6 L1759 1159.2 L1788 1083.7 L1817 1171.9 L1846 1173.6 L1875 1160.9 L1904 1195.6 L1933 1118.5 L1962 1154.9 L1991 1149.8 L2020 1143.9 L2049 1178.7 L2078 1125.2 L2107 1167.6 L2136 1160.9 L2165 1122.7 L2194 1171.0 L2223 1078.6 L2252 1190.5 L2281 1173.6 L2310 1167.6 L2339 1179.5 L2368 1104.9 L2397 1154.1 L2426 1104.9 L2455 1094.7 L2484 1083.7 L2513 1095.6 L2542 1071.0 L2571 1135.4 L2600 1166.0 L2629 1190.5 L2658 1078.6 L2687 831.8 L2716 1054.0 L2745 1205.0 L2774 1167.6 L2803 1169.3 L2832 1185.5 L2861 1160.0 L2890 1188.0 L2919 1188.8 L2948 1160.0 L2977 1160.9 L3006 1161.7 L3035 1171.0 L3064 1198.2 L3093 1135.4 L3122 1180.4 L3151 1171.9 L3180 1120.2 L3209 1171.0 L3238 1192.2 L3267 1169.3 L3296 1180.4 L3325 1190.5 L3354 1160.9 L3383 1171.0 L3412 1148.1 L3441 1144.8 L3470 1194.8 L3499 1202.4 L3528 1174.4 L3557 1205.0 L3586 1137.1 L3615 1147.3 L3644 1156.6 L3673 1149.8" stroke="#FF780A" stroke-width="2" fill="none" stroke-linejoin="round"/>
<path d="M222 1159.2m-5 0a5 5 0 1 0 10 0a5 5 0 1 0-10 0M251 1154.1m-5 0a5 5 0 1 0 10 0a5 5 0 1 0-10 0M280 1115.1m-5 0a5 5 0 1 0 10 0a5 5 0 1 0-10 0M309 1139.7m-5 0a5 5 0 1 0 10 0a5 5 0 1 0-10 0M338 1173.6m-5 0a5 5 0 1 0 10 0a5 5 0 1 0-10 0M367 1143.1m-5 0a5 5 0 1 0 10 0a5 5 0 1 0-10 0M396 1178.7m-5 0a5 5 0 1 0 10 0a5 5 0 1 0-10 0M425 1203.3m-5 0a5 5 0 1 0 10 0a5 5 0 1 0-10 0M454 1144.8m-5 0a5 5 0 1 0 10 0a5 5 0 1 0-10 0M483 1082.8m-5 0a5 5 0 1 0 10 0a5 5 0 1 0-10 0M512 1124.4m-5 0a5 5 0 1 0 10 0a5 5 0 1 0-10 0M541 1115.1m-5 0a5 5 0 1 0 10 0a5 5 0 1 0-10 0M570 1155.8m-5 0a5 5 0 1 0 10 0a5 5 0 1 0-10 0M599 1164.3m-5 0a5 5 0 1 0 10 0a5 5 0 1 0-10 0M628 1093.0m-5 0a5 5 0 1 0 10 0a5 5 0 1 0-10 0M657 1151.5m-5 0a5 5 0 1 0 10 0a5 5 0 1 0-10 0M686 1139.7m-5 0a5 5 0 1 0 10 0a5 5 0 1 0-10 0M715 1127.8m-5 0a5 5 0 1 0 10 0a5 5 0 1 0-10 0M744 1193.9m-5 0a5 5 0 1 0 10 0a5 5 0 1 0-10 0M773 1129.5m-5 0a5 5 0 1 0 10 0a5 5 0 1 0-10 0M802 1173.6m-5 0a5 5 0 1 0 10 0a5 5 0 1 0-10 0M831 1193.9m-5 0a5 5 0 1 0 10 0a5 5 0 1 0-10 0M860 1160.9m-5 0a5 5 0 1 0 10 0a5 5 0 1 0-10 0M889 1120.2m-5 0a5 5 0 1 0 10 0a5 5 0 1 0-10 0M918 1081.2m-5 0a5 5 0 1 0 10 0a5 5 0 1 0-10 0M947 1153.2m-5 0a5 5 0 1 0 10 0a5 5 0 1 0-10 0M976 1193.9m-5 0a5 5 0 1 0 10 0a5 5 0 1 0-10 0M1005 1133.7m-5 0a5 5 0 1 0 10 0a5 5 0 1 0-10 0M1034 1137.1m-5 0a5 5 0 1 0 10 0a5 5 0 1 0-10 0M1063 1173.6m-5 0a5 5 0 1 0 10 0a5 5 0 1 0-10 0M1092 1154.1m-5 0a5 5 0 1 0 10 0a5 5 0 1 0-10 0M1121 1167.6m-5 0a5 5 0 1 0 10 0a5 5 0 1 0-10 0M1150 1075.2m-5 0a5 5 0 1 0 10 0a5 5 0 1 0-10 0M1179 1109.1m-5 0a5 5 0 1 0 10 0a5 5 0 1 0-10 0M1208 1182.9m-5 0a5 5 0 1 0 10 0a5 5 0 1 0-10 0M1237 1164.3m-5 0a5 5 0 1 0 10 0a5 5 0 1 0-10 0M1266 1159.2m-5 0a5 5 0 1 0 10 0a5 5 0 1 0-10 0M1295 1202.4m-5 0a5 5 0 1 0 10 0a5 5 0 1 0-10 0M1324 1154.9m-5 0a5 5 0 1 0 10 0a5 5 0 1 0-10 0M1353 1135.4m-5 0a5 5 0 1 0 10 0a5 5 0 1 0-10 0M1382 1139.7m-5 0a5 5 0 1 0 10 0a5 5 0 1 0-10 0M1411 1171.9m-5 0a5 5 0 1 0 10 0a5 5 0 1 0-10 0M1440 1141.4m-5 0a5 5 0 1 0 10 0a5 5 0 1 0-10 0M1469 1115.1m-5 0a5 5 0 1 0 10 0a5 5 0 1 0-10 0M1498 1180.4m-5 0a5 5 0 1 0 10 0a5 5 0 1 0-10 0M1527 1133.7m-5 0a5 5 0 1 0 10 0a5 5 0 1 0-10 0M1556 1176.1m-5 0a5 5 0 1 0 10 0a5 5 0 1 0-10 0M1585 1127.8m-5 0a5 5 0 1 0 10 0a5 5 0 1 0-10 0M1614 1132.9m-5 0a5 5 0 1 0 10 0a5 5 0 1 0-10 0M1643 1028.6m-5 0a5 5 0 1 0 10 0a5 5 0 1 0-10 0M1672 1132.0m-5 0a5 5 0 1 0 10 0a5 5 0 1 0-10 0M1701 1161.7m-5 0a5 5 0 1 0 10 0a5 5 0 1 0-10 0M1730 1167.6m-5 0a5 5 0 1 0 10 0a5 5 0 1 0-10 0M1759 1159.2m-5 0a5 5 0 1 0 10 0a5 5 0 1 0-10 0M1788 1083.7m-5 0a5 5 0 1 0 10 0a5 5 0 1 0-10 0M1817 1171.9m-5 0a5 5 0 1 0 10 0a5 5 0 1 0-10 0M1846 1173.6m-5 0a5 5 0 1 0 10 0a5 5 0 1 0-10 0M1875 1160.9m-5 0a5 5 0 1 0 10 0a5 5 0 1 0-10 0M1904 1195.6m-5 0a5 5 0 1 0 10 0a5 5 0 1 0-10 0M1933 1118.5m-5 0a5 5 0 1 0 10 0a5 5 0 1 0-10 0M1962 1154.9m-5 0a5 5 0 1 0 10 0a5 5 0 1 0-10 0M1991 1149.8m-5 0a5 5 0 1 0 10 0a5 5 0 1 0-10 0M2020 1143.9m-5 0a5 5 0 1 0 10 0a5 5 0 1 0-10 0M2049 1178.7m-5 0a5 5 0 1 0 10 0a5 5 0 1 0-10 0M2078 1125.2m-5 0a5 5 0 1 0 10 0a5 5 0 1 0-10 0M2107 1167.6m-5 0a5 5 0 1 0 10 0a5 5 0 1 0-10 0M2136 1160.9m-5 0a5 5 0 1 0 10 0a5 5 0 1 0-10 0M2165 1122.7m-5 0a5 5 0 1 0 10 0a5 5 0 1 0-10 0M2194 1171.0m-5 0a5 5 0 1 0 10 0a5 5 0 1 0-10 0M2223 1078.6m-5 0a5 5 0 1 0 10 0a5 5 0 1 0-10 0M2252 1190.5m-5 0a5 5 0 1 0 10 0a5 5 0 1 0-10 0M2281 1173.6m-5 0a5 5 0 1 0 10 0a5 5 0 1 0-10 0M2310 1167.6m-5 0a5 5 0 1 0 10 0a5 5 0 1 0-10 0M2339 1179.5m-5 0a5 5 0 1 0 10 0a5 5 0 1 0-10 0M2368 1104.9m-5 0a5 5 0 1 0 10 0a5 5 0 1 0-10 0M2397 1154.1m-5 0a5 5 0 1 0 10 0a5 5 0 1 0-10 0M2426 1104.9m-5 0a5 5 0 1 0 10 0a5 5 0 1 0-10 0M2455 1094.7m-5 0a5 5 0 1 0 10 0a5 5 0 1 0-10 0M2484 1083.7m-5 0a5 5 0 1 0 10 0a5 5 0 1 0-10 0M2513 1095.6m-5 0a5 5 0 1 0 10 0a5 5 0 1 0-10 0M2542 1071.0m-5 0a5 5 0 1 0 10 0a5 5 0 1 0-10 0M2571 1135.4m-5 0a5 5 0 1 0 10 0a5 5 0 1 0-10 0M2600 1166.0m-5 0a5 5 0 1 0 10 0a5 5 0 1 0-10 0M2629 1190.5m-5 0a5 5 0 1 0 10 0a5 5 0 1 0-10 0M2658 1078.6m-5 0a5 5 0 1 0 10 0a5 5 0 1 0-10 0M2687 831.8m-5 0a5 5 0 1 0 10 0a5 5 0 1 0-10 0M2716 1054.0m-5 0a5 5 0 1 0 10 0a5 5 0 1 0-10 0M2745 1205.0m-5 0a5 5 0 1 0 10 0a5 5 0 1 0-10 0M2774 1167.6m-5 0a5 5 0 1 0 10 0a5 5 0 1 0-10 0M2803 1169.3m-5 0a5 5 0 1 0 10 0a5 5 0 1 0-10 0M2832 1185.5m-5 0a5 5 0 1 0 10 0a5 5 0 1 0-10 0M2861 1160.0m-5 0a5 5 0 1 0 10 0a5 5 0 1 0-10 0M2890 1188.0m-5 0a5 5 0 1 0 10 0a5 5 0 1 0-10 0M2919 1188.8m-5 0a5 5 0 1 0 10 0a5 5 0 1 0-10 0M2948 1160.0m-5 0a5 5 0 1 0 10 0a5 5 0 1 0-10 0M2977 1160.9m-5 0a5 5 0 1 0 10 0a5 5 0 1 0-10 0M3006 1161.7m-5 0a5 5 0 1 0 10 0a5 5 0 1 0-10 0M3035 1171.0m-5 0a5 5 0 1 0 10 0a5 5 0 1 0-10 0M3064 1198.2m-5 0a5 5 0 1 0 10 0a5 5 0 1 0-10 0M3093 1135.4m-5 0a5 5 0 1 0 10 0a5 5 0 1 0-10 0M3122 1180.4m-5 0a5 5 0 1 0 10 0a5 5 0 1 0-10 0M3151 1171.9m-5 0a5 5 0 1 0 10 0a5 5 0 1 0-10 0M3180 1120.2m-5 0a5 5 0 1 0 10 0a5 5 0 1 0-10 0M3209 1171.0m-5 0a5 5 0 1 0 10 0a5 5 0 1 0-10 0M3238 1192.2m-5 0a5 5 0 1 0 10 0a5 5 0 1 0-10 0M3267 1169.3m-5 0a5 5 0 1 0 10 0a5 5 0 1 0-10 0M3296 1180.4m-5 0a5 5 0 1 0 10 0a5 5 0 1 0-10 0M3325 1190.5m-5 0a5 5 0 1 0 10 0a5 5 0 1 0-10 0M3354 1160.9m-5 0a5 5 0 1 0 10 0a5 5 0 1 0-10 0M3383 1171.0m-5 0a5 5 0 1 0 10 0a5 5 0 1 0-10 0M3412 1148.1m-5 0a5 5 0 1 0 10 0a5 5 0 1 0-10 0M3441 1144.8m-5 0a5 5 0 1 0 10 0a5 5 0 1 0-10 0M3470 1194.8m-5 0a5 5 0 1 0 10 0a5 5 0 1 0-10 0M3499 1202.4m-5 0a5 5 0 1 0 10 0a5 5 0 1 0-10 0M3528 1174.4m-5 0a5 5 0 1 0 10 0a5 5 0 1 0-10 0M3557 1205.0m-5 0a5 5 0 1 0 10 0a5 5 0 1 0-10 0M3586 1137.1m-5 0a5 5 0 1 0 10 0a5 5 0 1 0-10 0M3615 1147.3m-5 0a5 5 0 1 0 10 0a5 5 0 1 0-10 0M3644 1156.6m-5 0a5 5 0 1 0 10 0a5 5 0 1 0-10 0M3673 1149.8m-5 0a5 5 0 1 0 10 0a5 5 0 1 0-10 0" fill="#FF780A"/>
<path d="M193 1226.2 L222 1228.6 L251 1225.4 L280 1226.7 L309 1225.3 L338 1229.8 L367 1216.2 L396 1225.7 L425 1227.8 L454 1229.8 L483 1227.8 L512 1226.1 L541 1226.5 L570 1227.2 L599 1229.6 L628 1228.5 L657 1229.2 L686 1226.9 L715 1227.8 L744 1226.9 L773 1220.3 L802 1226.7 L831 1226.0 L860 1226.6 L889 1214.2 L918 1224.8 L947 1229.0 L976 1227.9 L1005 1228.5 L1034 1229.8 L1063 1229.8 L1092 1228.8 L1121 1228.9 L1150 1204.9 L1179 1222.1 L1208 1226.2 L1237 1226.0 L1266 1226.2 L1295 1228.5 L1324 1229.0 L1353 1229.0 L1382 1229.1 L1411 1229.1 L1440 1227.5 L1469 1221.7 L1498 1228.0 L1527 1227.3 L1556 1226.8 L1585 1221.9 L1614 1221.1 L1643 1223.4 L1672 1221.7 L1701 1228.6 L1730 1226.8 L1759 1226.1 L1788 1223.5 L1817 1226.2 L1846 1227.1 L1875 1229.2 L1904 1229.4 L1933 1222.8 L1962 1221.6 L1991 1226.7 L2020 1226.1 L2049 1227.3 L2078 1223.3 L2107 1229.4 L2136 1229.8 L2165 1226.1 L2194 1227.4 L2223 1221.5 L2252 1228.2 L2281 1226.5 L2310 1221.5 L2339 1228.9 L2368 1221.4 L2397 1227.6 L2426 1222.3 L2455 1217.8 L2484 1214.0 L2513 1220.3 L2542 1220.3 L2571 1218.6 L2600 1227.8 L2629 1229.8 L2658 1222.6 L2687 1191.4 L2716 1216.3 L2745 1227.1 L2774 1227.7 L2803 1228.6 L2832 1227.9 L2861 1227.7 L2890 1226.8 L2919 1229.5 L2948 1227.7 L2977 1228.9 L3006 1228.8 L3035 1226.9 L3064 1227.9 L3093 1227.7 L3122 1226.9 L3151 1221.1 L3180 1227.5 L3209 1227.9 L3238 1227.9 L3267 1227.2 L3296 1228.1 L3325 1227.8 L3354 1228.0 L3383 1226.2 L3412 1227.2 L3441 1226.5 L3470 1225.3 L3499 1227.7 L3528 1224.8 L3557 1229.4 L3586 1229.4 L3615 1228.2 L3644 1229.6 L3673 1229.0" stroke="#F2495C" stroke-width="2" fill="none" stroke-linejoin="round"/>
<path d="M222 1228.6m-5 0a5 5 0 1 0 10 0a5 5 0 1 0-10 0M251 1225.4m-5 0a5 5 0 1 0 10 0a5 5 0 1 0-10 0M280 1226.7m-5 0a5 5 0 1 0 10 0a5 5 0 1 0-10 0M309 1225.3m-5 0a5 5 0 1 0 10 0a5 5 0 1 0-10 0M338 1229.8m-5 0a5 5 0 1 0 10 0a5 5 0 1 0-10 0M367 1216.2m-5 0a5 5 0 1 0 10 0a5 5 0 1 0-10 0M396 1225.7m-5 0a5 5 0 1 0 10 0a5 5 0 1 0-10 0M425 1227.8m-5 0a5 5 0 1 0 10 0a5 5 0 1 0-10 0M454 1229.8m-5 0a5 5 0 1 0 10 0a5 5 0 1 0-10 0M483 1227.8m-5 0a5 5 0 1 0 10 0a5 5 0 1 0-10 0M512 1226.1m-5 0a5 5 0 1 0 10 0a5 5 0 1 0-10 0M541 1226.5m-5 0a5 5 0 1 0 10 0a5 5 0 1 0-10 0M570 1227.2m-5 0a5 5 0 1 0 10 0a5 5 0 1 0-10 0M599 1229.6m-5 0a5 5 0 1 0 10 0a5 5 0 1 0-10 0M628 1228.5m-5 0a5 5 0 1 0 10 0a5 5 0 1 0-10 0M657 1229.2m-5 0a5 5 0 1 0 10 0a5 5 0 1 0-10 0M686 1226.9m-5 0a5 5 0 1 0 10 0a5 5 0 1 0-10 0M715 1227.8m-5 0a5 5 0 1 0 10 0a5 5 0 1 0-10 0M744 1226.9m-5 0a5 5 0 1 0 10 0a5 5 0 1 0-10 0M773 1220.3m-5 0a5 5 0 1 0 10 0a5 5 0 1 0-10 0M802 1226.7m-5 0a5 5 0 1 0 10 0a5 5 0 1 0-10 0M831 1226.0m-5 0a5 5 0 1 0 10 0a5 5 0 1 0-10 0M860 1226.6m-5 0a5 5 0 1 0 10 0a5 5 0 1 0-10 0M889 1214.2m-5 0a5 5 0 1 0 10 0a5 5 0 1 0-10 0M918 1224.8m-5 0a5 5 0 1 0 10 0a5 5 0 1 0-10 0M947 1229.0m-5 0a5 5 0 1 0 10 0a5 5 0 1 0-10 0M976 1227.9m-5 0a5 5 0 1 0 10 0a5 5 0 1 0-10 0M1005 1228.5m-5 0a5 5 0 1 0 10 0a5 5 0 1 0-10 0M1034 1229.8m-5 0a5 5 0 1 0 10 0a5 5 0 1 0-10 0M1063 1229.8m-5 0a5 5 0 1 0 10 0a5 5 0 1 0-10 0M1092 1228.8m-5 0a5 5 0 1 0 10 0a5 5 0 1 0-10 0M1121 1228.9m-5 0a5 5 0 1 0 10 0a5 5 0 1 0-10 0M1150 1204.9m-5 0a5 5 0 1 0 10 0a5 5 0 1 0-10 0M1179 1222.1m-5 0a5 5 0 1 0 10 0a5 5 0 1 0-10 0M1208 1226.2m-5 0a5 5 0 1 0 10 0a5 5 0 1 0-10 0M1237 1226.0m-5 0a5 5 0 1 0 10 0a5 5 0 1 0-10 0M1266 1226.2m-5 0a5 5 0 1 0 10 0a5 5 0 1 0-10 0M1295 1228.5m-5 0a5 5 0 1 0 10 0a5 5 0 1 0-10 0M1324 1229.0m-5 0a5 5 0 1 0 10 0a5 5 0 1 0-10 0M1353 1229.0m-5 0a5 5 0 1 0 10 0a5 5 0 1 0-10 0M1382 1229.1m-5 0a5 5 0 1 0 10 0a5 5 0 1 0-10 0M1411 1229.1m-5 0a5 5 0 1 0 10 0a5 5 0 1 0-10 0M1440 1227.5m-5 0a5 5 0 1 0 10 0a5 5 0 1 0-10 0M1469 1221.7m-5 0a5 5 0 1 0 10 0a5 5 0 1 0-10 0M1498 1228.0m-5 0a5 5 0 1 0 10 0a5 5 0 1 0-10 0M1527 1227.3m-5 0a5 5 0 1 0 10 0a5 5 0 1 0-10 0M1556 1226.8m-5 0a5 5 0 1 0 10 0a5 5 0 1 0-10 0M1585 1221.9m-5 0a5 5 0 1 0 10 0a5 5 0 1 0-10 0M1614 1221.1m-5 0a5 5 0 1 0 10 0a5 5 0 1 0-10 0M1643 1223.4m-5 0a5 5 0 1 0 10 0a5 5 0 1 0-10 0M1672 1221.7m-5 0a5 5 0 1 0 10 0a5 5 0 1 0-10 0M1701 1228.6m-5 0a5 5 0 1 0 10 0a5 5 0 1 0-10 0M1730 1226.8m-5 0a5 5 0 1 0 10 0a5 5 0 1 0-10 0M1759 1226.1m-5 0a5 5 0 1 0 10 0a5 5 0 1 0-10 0M1788 1223.5m-5 0a5 5 0 1 0 10 0a5 5 0 1 0-10 0M1817 1226.2m-5 0a5 5 0 1 0 10 0a5 5 0 1 0-10 0M1846 1227.1m-5 0a5 5 0 1 0 10 0a5 5 0 1 0-10 0M1875 1229.2m-5 0a5 5 0 1 0 10 0a5 5 0 1 0-10 0M1904 1229.4m-5 0a5 5 0 1 0 10 0a5 5 0 1 0-10 0M1933 1222.8m-5 0a5 5 0 1 0 10 0a5 5 0 1 0-10 0M1962 1221.6m-5 0a5 5 0 1 0 10 0a5 5 0 1 0-10 0M1991 1226.7m-5 0a5 5 0 1 0 10 0a5 5 0 1 0-10 0M2020 1226.1m-5 0a5 5 0 1 0 10 0a5 5 0 1 0-10 0M2049 1227.3m-5 0a5 5 0 1 0 10 0a5 5 0 1 0-10 0M2078 1223.3m-5 0a5 5 0 1 0 10 0a5 5 0 1 0-10 0M2107 1229.4m-5 0a5 5 0 1 0 10 0a5 5 0 1 0-10 0M2136 1229.8m-5 0a5 5 0 1 0 10 0a5 5 0 1 0-10 0M2165 1226.1m-5 0a5 5 0 1 0 10 0a5 5 0 1 0-10 0M2194 1227.4m-5 0a5 5 0 1 0 10 0a5 5 0 1 0-10 0M2223 1221.5m-5 0a5 5 0 1 0 10 0a5 5 0 1 0-10 0M2252 1228.2m-5 0a5 5 0 1 0 10 0a5 5 0 1 0-10 0M2281 1226.5m-5 0a5 5 0 1 0 10 0a5 5 0 1 0-10 0M2310 1221.5m-5 0a5 5 0 1 0 10 0a5 5 0 1 0-10 0M2339 1228.9m-5 0a5 5 0 1 0 10 0a5 5 0 1 0-10 0M2368 1221.4m-5 0a5 5 0 1 0 10 0a5 5 0 1 0-10 0M2397 1227.6m-5 0a5 5 0 1 0 10 0a5 5 0 1 0-10 0M2426 1222.3m-5 0a5 5 0 1 0 10 0a5 5 0 1 0-10 0M2455 1217.8m-5 0a5 5 0 1 0 10 0a5 5 0 1 0-10 0M2484 1214.0m-5 0a5 5 0 1 0 10 0a5 5 0 1 0-10 0M2513 1220.3m-5 0a5 5 0 1 0 10 0a5 5 0 1 0-10 0M2542 1220.3m-5 0a5 5 0 1 0 10 0a5 5 0 1 0-10 0M2571 1218.6m-5 0a5 5 0 1 0 10 0a5 5 0 1 0-10 0M2600 1227.8m-5 0a5 5 0 1 0 10 0a5 5 0 1 0-10 0M2629 1229.8m-5 0a5 5 0 1 0 10 0a5 5 0 1 0-10 0M2658 1222.6m-5 0a5 5 0 1 0 10 0a5 5 0 1 0-10 0M2687 1191.4m-5 0a5 5 0 1 0 10 0a5 5 0 1 0-10 0M2716 1216.3m-5 0a5 5 0 1 0 10 0a5 5 0 1 0-10 0M2745 1227.1m-5 0a5 5 0 1 0 10 0a5 5 0 1 0-10 0M2774 1227.7m-5 0a5 5 0 1 0 10 0a5 5 0 1 0-10 0M2803 1228.6m-5 0a5 5 0 1 0 10 0a5 5 0 1 0-10 0M2832 1227.9m-5 0a5 5 0 1 0 10 0a5 5 0 1 0-10 0M2861 1227.7m-5 0a5 5 0 1 0 10 0a5 5 0 1 0-10 0M2890 1226.8m-5 0a5 5 0 1 0 10 0a5 5 0 1 0-10 0M2919 1229.5m-5 0a5 5 0 1 0 10 0a5 5 0 1 0-10 0M2948 1227.7m-5 0a5 5 0 1 0 10 0a5 5 0 1 0-10 0M2977 1228.9m-5 0a5 5 0 1 0 10 0a5 5 0 1 0-10 0M3006 1228.8m-5 0a5 5 0 1 0 10 0a5 5 0 1 0-10 0M3035 1226.9m-5 0a5 5 0 1 0 10 0a5 5 0 1 0-10 0M3064 1227.9m-5 0a5 5 0 1 0 10 0a5 5 0 1 0-10 0M3093 1227.7m-5 0a5 5 0 1 0 10 0a5 5 0 1 0-10 0M3122 1226.9m-5 0a5 5 0 1 0 10 0a5 5 0 1 0-10 0M3151 1221.1m-5 0a5 5 0 1 0 10 0a5 5 0 1 0-10 0M3180 1227.5m-5 0a5 5 0 1 0 10 0a5 5 0 1 0-10 0M3209 1227.9m-5 0a5 5 0 1 0 10 0a5 5 0 1 0-10 0M3238 1227.9m-5 0a5 5 0 1 0 10 0a5 5 0 1 0-10 0M3267 1227.2m-5 0a5 5 0 1 0 10 0a5 5 0 1 0-10 0M3296 1228.1m-5 0a5 5 0 1 0 10 0a5 5 0 1 0-10 0M3325 1227.8m-5 0a5 5 0 1 0 10 0a5 5 0 1 0-10 0M3354 1228.0m-5 0a5 5 0 1 0 10 0a5 5 0 1 0-10 0M3383 1226.2m-5 0a5 5 0 1 0 10 0a5 5 0 1 0-10 0M3412 1227.2m-5 0a5 5 0 1 0 10 0a5 5 0 1 0-10 0M3441 1226.5m-5 0a5 5 0 1 0 10 0a5 5 0 1 0-10 0M3470 1225.3m-5 0a5 5 0 1 0 10 0a5 5 0 1 0-10 0M3499 1227.7m-5 0a5 5 0 1 0 10 0a5 5 0 1 0-10 0M3528 1224.8m-5 0a5 5 0 1 0 10 0a5 5 0 1 0-10 0M3557 1229.4m-5 0a5 5 0 1 0 10 0a5 5 0 1 0-10 0M3586 1229.4m-5 0a5 5 0 1 0 10 0a5 5 0 1 0-10 0M3615 1228.2m-5 0a5 5 0 1 0 10 0a5 5 0 1 0-10 0M3644 1229.6m-5 0a5 5 0 1 0 10 0a5 5 0 1 0-10 0M3673 1229.0m-5 0a5 5 0 1 0 10 0a5 5 0 1 0-10 0" fill="#F2495C"/>
<path d="M193 1001.4 L222 1048.1 L251 1011.6 L280 962.4 L309 1008.2 L338 1054.0 L367 1055.7 L396 1071.0 L425 1093.0 L454 1040.4 L483 962.4 L512 1037.1 L541 969.2 L570 1045.5 L599 1069.3 L628 961.6 L657 1038.8 L686 998.0 L715 974.3 L744 1108.3 L773 1026.9 L802 1082.8 L831 1110.8 L860 1071.0 L889 1035.4 L918 926.8 L947 1010.8 L976 1110.8 L1005 1021.8 L1034 1009.9 L1063 1056.6 L1092 1025.2 L1121 1078.6 L1150 912.4 L1179 993.0 L1208 1063.3 L1237 1030.3 L1266 1037.9 L1295 1125.2 L1324 1009.9 L1353 980.2 L1382 987.9 L1411 1007.4 L1440 1030.3 L1469 977.7 L1498 1107.4 L1527 995.5 L1556 1078.6 L1585 999.7 L1614 1004.8 L1643 845.4 L1672 988.7 L1701 1038.8 L1730 1060.8 L1759 1015.9 L1788 929.4 L1817 1056.6 L1846 1068.4 L1875 1009.9 L1904 1066.7 L1933 1012.5 L1962 1080.3 L1991 1006.5 L2020 996.4 L2049 1038.8 L2078 980.2 L2107 1056.6 L2136 1005.7 L2165 963.3 L2194 1061.6 L2223 887.8 L2252 1061.6 L2281 1056.6 L2310 1071.0 L2339 1064.2 L2368 936.1 L2397 974.3 L2426 983.6 L2455 977.7 L2484 949.7 L2513 956.5 L2542 920.0 L2571 1017.6 L2600 1005.7 L2629 1082.8 L2658 949.7 L2687 731.3 L2716 954.0 L2745 1139.7 L2774 1071.0 L2803 1052.3 L2832 1104.9 L2861 1040.4 L2890 1064.2 L2919 1085.4 L2948 1030.3 L2977 1048.9 L3006 1030.3 L3035 1032.0 L3064 1099.0 L3093 1009.9 L3122 1095.6 L3151 1116.8 L3180 965.8 L3209 1065.0 L3238 1061.6 L3267 1082.8 L3296 1103.2 L3325 1126.9 L3354 1044.7 L3383 1066.7 L3412 1015.9 L3441 1022.6 L3470 1095.6 L3499 1095.6 L3528 1063.3 L3557 1099.8 L3586 983.6 L3615 976.0 L3644 1010.8 L3673 1002.3" stroke="#5794F2" stroke-width="2" fill="none" stroke-linejoin="round"/>
<path d="M222 1048.1m-5 0a5 5 0 1 0 10 0a5 5 0 1 0-10 0M251 1011.6m-5 0a5 5 0 1 0 10 0a5 5 0 1 0-10 0M280 962.4m-5 0a5 5 0 1 0 10 0a5 5 0 1 0-10 0M309 1008.2m-5 0a5 5 0 1 0 10 0a5 5 0 1 0-10 0M338 1054.0m-5 0a5 5 0 1 0 10 0a5 5 0 1 0-10 0M367 1055.7m-5 0a5 5 0 1 0 10 0a5 5 0 1 0-10 0M396 1071.0m-5 0a5 5 0 1 0 10 0a5 5 0 1 0-10 0M425 1093.0m-5 0a5 5 0 1 0 10 0a5 5 0 1 0-10 0M454 1040.4m-5 0a5 5 0 1 0 10 0a5 5 0 1 0-10 0M483 962.4m-5 0a5 5 0 1 0 10 0a5 5 0 1 0-10 0M512 1037.1m-5 0a5 5 0 1 0 10 0a5 5 0 1 0-10 0M541 969.2m-5 0a5 5 0 1 0 10 0a5 5 0 1 0-10 0M570 1045.5m-5 0a5 5 0 1 0 10 0a5 5 0 1 0-10 0M599 1069.3m-5 0a5 5 0 1 0 10 0a5 5 0 1 0-10 0M628 961.6m-5 0a5 5 0 1 0 10 0a5 5 0 1 0-10 0M657 1038.8m-5 0a5 5 0 1 0 10 0a5 5 0 1 0-10 0M686 998.0m-5 0a5 5 0 1 0 10 0a5 5 0 1 0-10 0M715 974.3m-5 0a5 5 0 1 0 10 0a5 5 0 1 0-10 0M744 1108.3m-5 0a5 5 0 1 0 10 0a5 5 0 1 0-10 0M773 1026.9m-5 0a5 5 0 1 0 10 0a5 5 0 1 0-10 0M802 1082.8m-5 0a5 5 0 1 0 10 0a5 5 0 1 0-10 0M831 1110.8m-5 0a5 5 0 1 0 10 0a5 5 0 1 0-10 0M860 1071.0m-5 0a5 5 0 1 0 10 0a5 5 0 1 0-10 0M889 1035.4m-5 0a5 5 0 1 0 10 0a5 5 0 1 0-10 0M918 926.8m-5 0a5 5 0 1 0 10 0a5 5 0 1 0-10 0M947 1010.8m-5 0a5 5 0 1 0 10 0a5 5 0 1 0-10 0M976 1110.8m-5 0a5 5 0 1 0 10 0a5 5 0 1 0-10 0M1005 1021.8m-5 0a5 5 0 1 0 10 0a5 5 0 1 0-10 0M1034 1009.9m-5 0a5 5 0 1 0 10 0a5 5 0 1 0-10 0M1063 1056.6m-5 0a5 5 0 1 0 10 0a5 5 0 1 0-10 0M1092 1025.2m-5 0a5 5 0 1 0 10 0a5 5 0 1 0-10 0M1121 1078.6m-5 0a5 5 0 1 0 10 0a5 5 0 1 0-10 0M1150 912.4m-5 0a5 5 0 1 0 10 0a5 5 0 1 0-10 0M1179 993.0m-5 0a5 5 0 1 0 10 0a5 5 0 1 0-10 0M1208 1063.3m-5 0a5 5 0 1 0 10 0a5 5 0 1 0-10 0M1237 1030.3m-5 0a5 5 0 1 0 10 0a5 5 0 1 0-10 0M1266 1037.9m-5 0a5 5 0 1 0 10 0a5 5 0 1 0-10 0M1295 1125.2m-5 0a5 5 0 1 0 10 0a5 5 0 1 0-10 0M1324 1009.9m-5 0a5 5 0 1 0 10 0a5 5 0 1 0-10 0M1353 980.2m-5 0a5 5 0 1 0 10 0a5 5 0 1 0-10 0M1382 987.9m-5 0a5 5 0 1 0 10 0a5 5 0 1 0-10 0M1411 1007.4m-5 0a5 5 0 1 0 10 0a5 5 0 1 0-10 0M1440 1030.3m-5 0a5 5 0 1 0 10 0a5 5 0 1 0-10 0M1469 977.7m-5 0a5 5 0 1 0 10 0a5 5 0 1 0-10 0M1498 1107.4m-5 0a5 5 0 1 0 10 0a5 5 0 1 0-10 0M1527 995.5m-5 0a5 5 0 1 0 10 0a5 5 0 1 0-10 0M1556 1078.6m-5 0a5 5 0 1 0 10 0a5 5 0 1 0-10 0M1585 999.7m-5 0a5 5 0 1 0 10 0a5 5 0 1 0-10 0M1614 1004.8m-5 0a5 5 0 1 0 10 0a5 5 0 1 0-10 0M1643 845.4m-5 0a5 5 0 1 0 10 0a5 5 0 1 0-10 0M1672 988.7m-5 0a5 5 0 1 0 10 0a5 5 0 1 0-10 0M1701 1038.8m-5 0a5 5 0 1 0 10 0a5 5 0 1 0-10 0M1730 1060.8m-5 0a5 5 0 1 0 10 0a5 5 0 1 0-10 0M1759 1015.9m-5 0a5 5 0 1 0 10 0a5 5 0 1 0-10 0M1788 929.4m-5 0a5 5 0 1 0 10 0a5 5 0 1 0-10 0M1817 1056.6m-5 0a5 5 0 1 0 10 0a5 5 0 1 0-10 0M1846 1068.4m-5 0a5 5 0 1 0 10 0a5 5 0 1 0-10 0M1875 1009.9m-5 0a5 5 0 1 0 10 0a5 5 0 1 0-10 0M1904 1066.7m-5 0a5 5 0 1 0 10 0a5 5 0 1 0-10 0M1933 1012.5m-5 0a5 5 0 1 0 10 0a5 5 0 1 0-10 0M1962 1080.3m-5 0a5 5 0 1 0 10 0a5 5 0 1 0-10 0M1991 1006.5m-5 0a5 5 0 1 0 10 0a5 5 0 1 0-10 0M2020 996.4m-5 0a5 5 0 1 0 10 0a5 5 0 1 0-10 0M2049 1038.8m-5 0a5 5 0 1 0 10 0a5 5 0 1 0-10 0M2078 980.2m-5 0a5 5 0 1 0 10 0a5 5 0 1 0-10 0M2107 1056.6m-5 0a5 5 0 1 0 10 0a5 5 0 1 0-10 0M2136 1005.7m-5 0a5 5 0 1 0 10 0a5 5 0 1 0-10 0M2165 963.3m-5 0a5 5 0 1 0 10 0a5 5 0 1 0-10 0M2194 1061.6m-5 0a5 5 0 1 0 10 0a5 5 0 1 0-10 0M2223 887.8m-5 0a5 5 0 1 0 10 0a5 5 0 1 0-10 0M2252 1061.6m-5 0a5 5 0 1 0 10 0a5 5 0 1 0-10 0M2281 1056.6m-5 0a5 5 0 1 0 10 0a5 5 0 1 0-10 0M2310 1071.0m-5 0a5 5 0 1 0 10 0a5 5 0 1 0-10 0M2339 1064.2m-5 0a5 5 0 1 0 10 0a5 5 0 1 0-10 0M2368 936.1m-5 0a5 5 0 1 0 10 0a5 5 0 1 0-10 0M2397 974.3m-5 0a5 5 0 1 0 10 0a5 5 0 1 0-10 0M2426 983.6m-5 0a5 5 0 1 0 10 0a5 5 0 1 0-10 0M2455 977.7m-5 0a5 5 0 1 0 10 0a5 5 0 1 0-10 0M2484 949.7m-5 0a5 5 0 1 0 10 0a5 5 0 1 0-10 0M2513 956.5m-5 0a5 5 0 1 0 10 0a5 5 0 1 0-10 0M2542 920.0m-5 0a5 5 0 1 0 10 0a5 5 0 1 0-10 0M2571 1017.6m-5 0a5 5 0 1 0 10 0a5 5 0 1 0-10 0M2600 1005.7m-5 0a5 5 0 1 0 10 0a5 5 0 1 0-10 0M2629 1082.8m-5 0a5 5 0 1 0 10 0a5 5 0 1 0-10 0M2658 949.7m-5 0a5 5 0 1 0 10 0a5 5 0 1 0-10 0M2687 731.3m-5 0a5 5 0 1 0 10 0a5 5 0 1 0-10 0M2716 954.0m-5 0a5 5 0 1 0 10 0a5 5 0 1 0-10 0M2745 1139.7m-5 0a5 5 0 1 0 10 0a5 5 0 1 0-10 0M2774 1071.0m-5 0a5 5 0 1 0 10 0a5 5 0 1 0-10 0M2803 1052.3m-5 0a5 5 0 1 0 10 0a5 5 0 1 0-10 0M2832 1104.9m-5 0a5 5 0 1 0 10 0a5 5 0 1 0-10 0M2861 1040.4m-5 0a5 5 0 1 0 10 0a5 5 0 1 0-10 0M2890 1064.2m-5 0a5 5 0 1 0 10 0a5 5 0 1 0-10 0M2919 1085.4m-5 0a5 5 0 1 0 10 0a5 5 0 1 0-10 0M2948 1030.3m-5 0a5 5 0 1 0 10 0a5 5 0 1 0-10 0M2977 1048.9m-5 0a5 5 0 1 0 10 0a5 5 0 1 0-10 0M3006 1030.3m-5 0a5 5 0 1 0 10 0a5 5 0 1 0-10 0M3035 1032.0m-5 0a5 5 0 1 0 10 0a5 5 0 1 0-10 0M3064 1099.0m-5 0a5 5 0 1 0 10 0a5 5 0 1 0-10 0M3093 1009.9m-5 0a5 5 0 1 0 10 0a5 5 0 1 0-10 0M3122 1095.6m-5 0a5 5 0 1 0 10 0a5 5 0 1 0-10 0M3151 1116.8m-5 0a5 5 0 1 0 10 0a5 5 0 1 0-10 0M3180 965.8m-5 0a5 5 0 1 0 10 0a5 5 0 1 0-10 0M3209 1065.0m-5 0a5 5 0 1 0 10 0a5 5 0 1 0-10 0M3238 1061.6m-5 0a5 5 0 1 0 10 0a5 5 0 1 0-10 0M3267 1082.8m-5 0a5 5 0 1 0 10 0a5 5 0 1 0-10 0M3296 1103.2m-5 0a5 5 0 1 0 10 0a5 5 0 1 0-10 0M3325 1126.9m-5 0a5 5 0 1 0 10 0a5 5 0 1 0-10 0M3354 1044.7m-5 0a5 5 0 1 0 10 0a5 5 0 1 0-10 0M3383 1066.7m-5 0a5 5 0 1 0 10 0a5 5 0 1 0-10 0M3412 1015.9m-5 0a5 5 0 1 0 10 0a5 5 0 1 0-10 0M3441 1022.6m-5 0a5 5 0 1 0 10 0a5 5 0 1 0-10 0M3470 1095.6m-5 0a5 5 0 1 0 10 0a5 5 0 1 0-10 0M3499 1095.6m-5 0a5 5 0 1 0 10 0a5 5 0 1 0-10 0M3528 1063.3m-5 0a5 5 0 1 0 10 0a5 5 0 1 0-10 0M3557 1099.8m-5 0a5 5 0 1 0 10 0a5 5 0 1 0-10 0M3586 983.6m-5 0a5 5 0 1 0 10 0a5 5 0 1 0-10 0M3615 976.0m-5 0a5 5 0 1 0 10 0a5 5 0 1 0-10 0M3644 1010.8m-5 0a5 5 0 1 0 10 0a5 5 0 1 0-10 0M3673 1002.3m-5 0a5 5 0 1 0 10 0a5 5 0 1 0-10 0" fill="#5794F2"/>
<path d="M193 1226.2 L222 1229.6 L251 1225.8 L280 1226.8 L309 1224.5 L338 1229.3 L367 1212.2 L396 1226.1 L425 1226.4 L454 1226.1 L483 1229.0 L512 1226.2 L541 1228.3 L570 1228.0 L599 1229.3 L628 1226.6 L657 1229.3 L686 1228.2 L715 1227.9 L744 1228.6 L773 1214.3 L802 1227.1 L831 1229.8 L860 1227.7 L889 1212.9 L918 1222.9 L947 1227.5 L976 1227.9 L1005 1229.6 L1034 1226.0 L1063 1226.8 L1092 1226.1 L1121 1229.5 L1150 1203.3 L1179 1222.4 L1208 1228.8 L1237 1229.4 L1266 1228.2 L1295 1226.3 L1324 1226.7 L1353 1228.9 L1382 1229.3 L1411 1226.3 L1440 1227.7 L1469 1220.8 L1498 1229.7 L1527 1227.2 L1556 1228.2 L1585 1219.3 L1614 1218.8 L1643 1221.0 L1672 1219.4 L1701 1228.1 L1730 1228.6 L1759 1227.7 L1788 1221.9 L1817 1229.4 L1846 1227.8 L1875 1229.0 L1904 1229.5 L1933 1222.3 L1962 1219.0 L1991 1228.7 L2020 1226.9 L2049 1228.8 L2078 1222.1 L2107 1228.5 L2136 1229.8 L2165 1228.9 L2194 1229.8 L2223 1220.0 L2252 1229.2 L2281 1228.0 L2310 1219.4 L2339 1226.7 L2368 1218.6 L2397 1226.6 L2426 1220.1 L2455 1214.4 L2484 1208.6 L2513 1218.3 L2542 1218.9 L2571 1216.6 L2600 1229.6 L2629 1227.0 L2658 1220.7 L2687 1196.0 L2716 1212.2 L2745 1228.8 L2774 1228.9 L2803 1228.7 L2832 1228.1 L2861 1229.3 L2890 1228.2 L2919 1228.9 L2948 1226.1 L2977 1226.1 L3006 1227.8 L3035 1228.9 L3064 1226.1 L3093 1228.7 L3122 1228.5 L3151 1218.9 L3180 1228.0 L3209 1227.9 L3238 1229.1 L3267 1227.9 L3296 1229.9 L3325 1228.9 L3354 1229.5 L3383 1228.3 L3412 1229.7 L3441 1229.8 L3470 1224.1 L3499 1227.6 L3528 1223.5 L3557 1227.3 L3586 1227.1 L3615 1226.5 L3644 1228.4 L3673 1228.6" stroke="#B877D9" stroke-width="2" fill="none" stroke-linejoin="round"/>
<path d="M222 1229.6m-5 0a5 5 0 1 0 10 0a5 5 0 1 0-10 0M251 1225.8m-5 0a5 5 0 1 0 10 0a5 5 0 1 0-10 0M280 1226.8m-5 0a5 5 0 1 0 10 0a5 5 0 1 0-10 0M309 1224.5m-5 0a5 5 0 1 0 10 0a5 5 0 1 0-10 0M338 1229.3m-5 0a5 5 0 1 0 10 0a5 5 0 1 0-10 0M367 1212.2m-5 0a5 5 0 1 0 10 0a5 5 0 1 0-10 0M396 1226.1m-5 0a5 5 0 1 0 10 0a5 5 0 1 0-10 0M425 1226.4m-5 0a5 5 0 1 0 10 0a5 5 0 1 0-10 0M454 1226.1m-5 0a5 5 0 1 0 10 0a5 5 0 1 0-10 0M483 1229.0m-5 0a5 5 0 1 0 10 0a5 5 0 1 0-10 0M512 1226.2m-5 0a5 5 0 1 0 10 0a5 5 0 1 0-10 0M541 1228.3m-5 0a5 5 0 1 0 10 0a5 5 0 1 0-10 0M570 1228.0m-5 0a5 5 0 1 0 10 0a5 5 0 1 0-10 0M599 1229.3m-5 0a5 5 0 1 0 10 0a5 5 0 1 0-10 0M628 1226.6m-5 0a5 5 0 1 0 10 0a5 5 0 1 0-10 0M657 1229.3m-5 0a5 5 0 1 0 10 0a5 5 0 1 0-10 0M686 1228.2m-5 0a5 5 0 1 0 10 0a5 5 0 1 0-10 0M715 1227.9m-5 0a5 5 0 1 0 10 0a5 5 0 1 0-10 0M744 1228.6m-5 0a5 5 0 1 0 10 0a5 5 0 1 0-10 0M773 1214.3m-5 0a5 5 0 1 0 10 0a5 5 0 1 0-10 0M802 1227.1m-5 0a5 5 0 1 0 10 0a5 5 0 1 0-10 0M831 1229.8m-5 0a5 5 0 1 0 10 0a5 5 0 1 0-10 0M860 1227.7m-5 0a5 5 0 1 0 10 0a5 5 0 1 0-10 0M889 1212.9m-5 0a5 5 0 1 0 10 0a5 5 0 1 0-10 0M918 1222.9m-5 0a5 5 0 1 0 10 0a5 5 0 1 0-10 0M947 1227.5m-5 0a5 5 0 1 0 10 0a5 5 0 1 0-10 0M976 1227.9m-5 0a5 5 0 1 0 10 0a5 5 0 1 0-10 0M1005 1229.6m-5 0a5 5 0 1 0 10 0a5 5 0 1 0-10 0M1034 1226.0m-5 0a5 5 0 1 0 10 0a5 5 0 1 0-10 0M1063 1226.8m-5 0a5 5 0 1 0 10 0a5 5 0 1 0-10 0M1092 1226.1m-5 0a5 5 0 1 0 10 0a5 5 0 1 0-10 0M1121 1229.5m-5 0a5 5 0 1 0 10 0a5 5 0 1 0-10 0M1150 1203.3m-5 0a5 5 0 1 0 10 0a5 5 0 1 0-10 0M1179 1222.4m-5 0a5 5 0 1 0 10 0a5 5 0 1 0-10 0M1208 1228.8m-5 0a5 5 0 1 0 10 0a5 5 0 1 0-10 0M1237 1229.4m-5 0a5 5 0 1 0 10 0a5 5 0 1 0-10 0M1266 1228.2m-5 0a5 5 0 1 0 10 0a5 5 0 1 0-10 0M1295 1226.3m-5 0a5 5 0 1 0 10 0a5 5 0 1 0-10 0M1324 1226.7m-5 0a5 5 0 1 0 10 0a5 5 0 1 0-10 0M1353 1228.9m-5 0a5 5 0 1 0 10 0a5 5 0 1 0-10 0M1382 1229.3m-5 0a5 5 0 1 0 10 0a5 5 0 1 0-10 0M1411 1226.3m-5 0a5 5 0 1 0 10 0a5 5 0 1 0-10 0M1440 1227.7m-5 0a5 5 0 1 0 10 0a5 5 0 1 0-10 0M1469 1220.8m-5 0a5 5 0 1 0 10 0a5 5 0 1 0-10 0M1498 1229.7m-5 0a5 5 0 1 0 10 0a5 5 0 1 0-10 0M1527 1227.2m-5 0a5 5 0 1 0 10 0a5 5 0 1 0-10 0M1556 1228.2m-5 0a5 5 0 1 0 10 0a5 5 0 1 0-10 0M1585 1219.3m-5 0a5 5 0 1 0 10 0a5 5 0 1 0-10 0M1614 1218.8m-5 0a5 5 0 1 0 10 0a5 5 0 1 0-10 0M1643 1221.0m-5 0a5 5 0 1 0 10 0a5 5 0 1 0-10 0M1672 1219.4m-5 0a5 5 0 1 0 10 0a5 5 0 1 0-10 0M1701 1228.1m-5 0a5 5 0 1 0 10 0a5 5 0 1 0-10 0M1730 1228.6m-5 0a5 5 0 1 0 10 0a5 5 0 1 0-10 0M1759 1227.7m-5 0a5 5 0 1 0 10 0a5 5 0 1 0-10 0M1788 1221.9m-5 0a5 5 0 1 0 10 0a5 5 0 1 0-10 0M1817 1229.4m-5 0a5 5 0 1 0 10 0a5 5 0 1 0-10 0M1846 1227.8m-5 0a5 5 0 1 0 10 0a5 5 0 1 0-10 0M1875 1229.0m-5 0a5 5 0 1 0 10 0a5 5 0 1 0-10 0M1904 1229.5m-5 0a5 5 0 1 0 10 0a5 5 0 1 0-10 0M1933 1222.3m-5 0a5 5 0 1 0 10 0a5 5 0 1 0-10 0M1962 1219.0m-5 0a5 5 0 1 0 10 0a5 5 0 1 0-10 0M1991 1228.7m-5 0a5 5 0 1 0 10 0a5 5 0 1 0-10 0M2020 1226.9m-5 0a5 5 0 1 0 10 0a5 5 0 1 0-10 0M2049 1228.8m-5 0a5 5 0 1 0 10 0a5 5 0 1 0-10 0M2078 1222.1m-5 0a5 5 0 1 0 10 0a5 5 0 1 0-10 0M2107 1228.5m-5 0a5 5 0 1 0 10 0a5 5 0 1 0-10 0M2136 1229.8m-5 0a5 5 0 1 0 10 0a5 5 0 1 0-10 0M2165 1228.9m-5 0a5 5 0 1 0 10 0a5 5 0 1 0-10 0M2194 1229.8m-5 0a5 5 0 1 0 10 0a5 5 0 1 0-10 0M2223 1220.0m-5 0a5 5 0 1 0 10 0a5 5 0 1 0-10 0M2252 1229.2m-5 0a5 5 0 1 0 10 0a5 5 0 1 0-10 0M2281 1228.0m-5 0a5 5 0 1 0 10 0a5 5 0 1 0-10 0M2310 1219.4m-5 0a5 5 0 1 0 10 0a5 5 0 1 0-10 0M2339 1226.7m-5 0a5 5 0 1 0 10 0a5 5 0 1 0-10 0M2368 1218.6m-5 0a5 5 0 1 0 10 0a5 5 0 1 0-10 0M2397 1226.6m-5 0a5 5 0 1 0 10 0a5 5 0 1 0-10 0M2426 1220.1m-5 0a5 5 0 1 0 10 0a5 5 0 1 0-10 0M2455 1214.4m-5 0a5 5 0 1 0 10 0a5 5 0 1 0-10 0M2484 1208.6m-5 0a5 5 0 1 0 10 0a5 5 0 1 0-10 0M2513 1218.3m-5 0a5 5 0 1 0 10 0a5 5 0 1 0-10 0M2542 1218.9m-5 0a5 5 0 1 0 10 0a5 5 0 1 0-10 0M2571 1216.6m-5 0a5 5 0 1 0 10 0a5 5 0 1 0-10 0M2600 1229.6m-5 0a5 5 0 1 0 10 0a5 5 0 1 0-10 0M2629 1227.0m-5 0a5 5 0 1 0 10 0a5 5 0 1 0-10 0M2658 1220.7m-5 0a5 5 0 1 0 10 0a5 5 0 1 0-10 0M2687 1196.0m-5 0a5 5 0 1 0 10 0a5 5 0 1 0-10 0M2716 1212.2m-5 0a5 5 0 1 0 10 0a5 5 0 1 0-10 0M2745 1228.8m-5 0a5 5 0 1 0 10 0a5 5 0 1 0-10 0M2774 1228.9m-5 0a5 5 0 1 0 10 0a5 5 0 1 0-10 0M2803 1228.7m-5 0a5 5 0 1 0 10 0a5 5 0 1 0-10 0M2832 1228.1m-5 0a5 5 0 1 0 10 0a5 5 0 1 0-10 0M2861 1229.3m-5 0a5 5 0 1 0 10 0a5 5 0 1 0-10 0M2890 1228.2m-5 0a5 5 0 1 0 10 0a5 5 0 1 0-10 0M2919 1228.9m-5 0a5 5 0 1 0 10 0a5 5 0 1 0-10 0M2948 1226.1m-5 0a5 5 0 1 0 10 0a5 5 0 1 0-10 0M2977 1226.1m-5 0a5 5 0 1 0 10 0a5 5 0 1 0-10 0M3006 1227.8m-5 0a5 5 0 1 0 10 0a5 5 0 1 0-10 0M3035 1228.9m-5 0a5 5 0 1 0 10 0a5 5 0 1 0-10 0M3064 1226.1m-5 0a5 5 0 1 0 10 0a5 5 0 1 0-10 0M3093 1228.7m-5 0a5 5 0 1 0 10 0a5 5 0 1 0-10 0M3122 1228.5m-5 0a5 5 0 1 0 10 0a5 5 0 1 0-10 0M3151 1218.9m-5 0a5 5 0 1 0 10 0a5 5 0 1 0-10 0M3180 1228.0m-5 0a5 5 0 1 0 10 0a5 5 0 1 0-10 0M3209 1227.9m-5 0a5 5 0 1 0 10 0a5 5 0 1 0-10 0M3238 1229.1m-5 0a5 5 0 1 0 10 0a5 5 0 1 0-10 0M3267 1227.9m-5 0a5 5 0 1 0 10 0a5 5 0 1 0-10 0M3296 1229.9m-5 0a5 5 0 1 0 10 0a5 5 0 1 0-10 0M3325 1228.9m-5 0a5 5 0 1 0 10 0a5 5 0 1 0-10 0M3354 1229.5m-5 0a5 5 0 1 0 10 0a5 5 0 1 0-10 0M3383 1228.3m-5 0a5 5 0 1 0 10 0a5 5 0 1 0-10 0M3412 1229.7m-5 0a5 5 0 1 0 10 0a5 5 0 1 0-10 0M3441 1229.8m-5 0a5 5 0 1 0 10 0a5 5 0 1 0-10 0M3470 1224.1m-5 0a5 5 0 1 0 10 0a5 5 0 1 0-10 0M3499 1227.6m-5 0a5 5 0 1 0 10 0a5 5 0 1 0-10 0M3528 1223.5m-5 0a5 5 0 1 0 10 0a5 5 0 1 0-10 0M3557 1227.3m-5 0a5 5 0 1 0 10 0a5 5 0 1 0-10 0M3586 1227.1m-5 0a5 5 0 1 0 10 0a5 5 0 1 0-10 0M3615 1226.5m-5 0a5 5 0 1 0 10 0a5 5 0 1 0-10 0M3644 1228.4m-5 0a5 5 0 1 0 10 0a5 5 0 1 0-10 0M3673 1228.6m-5 0a5 5 0 1 0 10 0a5 5 0 1 0-10 0" fill="#B877D9"/>
<path d="M193 1048.9 L222 1087.9 L251 1086.2 L280 1048.1 L309 1077.8 L338 1112.5 L367 1091.3 L396 1126.9 L425 1154.1 L454 1086.2 L483 998.0 L512 1087.9 L541 1025.2 L570 1087.9 L599 1122.7 L628 1043.8 L657 1094.7 L686 1051.5 L715 1054.0 L744 1151.5 L773 1086.2 L802 1110.8 L831 1155.8 L860 1110.8 L889 1072.7 L918 989.6 L947 1082.8 L976 1137.1 L1005 1093.0 L1034 1060.8 L1063 1117.6 L1092 1095.6 L1121 1125.2 L1150 990.4 L1179 1033.7 L1208 1104.9 L1237 1086.2 L1266 1089.6 L1295 1150.7 L1324 1082.8 L1353 1042.1 L1382 1042.1 L1411 1082.8 L1440 1082.8 L1469 1026.9 L1498 1133.7 L1527 1058.3 L1556 1114.2 L1585 1058.3 L1614 1056.6 L1643 910.7 L1672 1078.6 L1701 1104.0 L1730 1100.7 L1759 1058.3 L1788 977.7 L1817 1109.1 L1846 1125.2 L1875 1098.1 L1904 1138.8 L1933 1065.0 L1962 1115.1 L1991 1064.2 L2020 1066.7 L2049 1085.4 L2078 1052.3 L2107 1115.1 L2136 1071.0 L2165 1021.8 L2194 1104.9 L2223 942.9 L2252 1137.1 L2281 1122.7 L2310 1119.3 L2339 1119.3 L2368 999.7 L2397 1046.4 L2426 1038.8 L2455 1040.4 L2484 988.7 L2513 1030.3 L2542 964.1 L2571 1068.4 L2600 1076.1 L2629 1127.8 L2658 1003.1 L2687 765.7 L2716 998.9 L2745 1163.4 L2774 1124.4 L2803 1107.4 L2832 1149.0 L2861 1104.9 L2890 1115.1 L2919 1119.3 L2948 1090.5 L2977 1089.6 L3006 1077.8 L3035 1104.9 L3064 1160.0 L3093 1071.8 L3122 1137.1 L3151 1143.1 L3180 1039.6 L3209 1110.8 L3238 1134.6 L3267 1122.7 L3296 1137.1 L3325 1153.2 L3354 1103.2 L3383 1114.2 L3412 1076.9 L3441 1048.9 L3470 1147.3 L3499 1154.1 L3528 1129.5 L3557 1154.1 L3586 1058.3 L3615 1048.9 L3644 1071.0 L3673 1065.9" stroke="#705DA0" stroke-width="2" fill="none" stroke-linejoin="round"/>
<path d="M222 1087.9m-5 0a5 5 0 1 0 10 0a5 5 0 1 0-10 0M251 1086.2m-5 0a5 5 0 1 0 10 0a5 5 0 1 0-10 0M280 1048.1m-5 0a5 5 0 1 0 10 0a5 5 0 1 0-10 0M309 1077.8m-5 0a5 5 0 1 0 10 0a5 5 0 1 0-10 0M338 1112.5m-5 0a5 5 0 1 0 10 0a5 5 0 1 0-10 0M367 1091.3m-5 0a5 5 0 1 0 10 0a5 5 0 1 0-10 0M396 1126.9m-5 0a5 5 0 1 0 10 0a5 5 0 1 0-10 0M425 1154.1m-5 0a5 5 0 1 0 10 0a5 5 0 1 0-10 0M454 1086.2m-5 0a5 5 0 1 0 10 0a5 5 0 1 0-10 0M483 998.0m-5 0a5 5 0 1 0 10 0a5 5 0 1 0-10 0M512 1087.9m-5 0a5 5 0 1 0 10 0a5 5 0 1 0-10 0M541 1025.2m-5 0a5 5 0 1 0 10 0a5 5 0 1 0-10 0M570 1087.9m-5 0a5 5 0 1 0 10 0a5 5 0 1 0-10 0M599 1122.7m-5 0a5 5 0 1 0 10 0a5 5 0 1 0-10 0M628 1043.8m-5 0a5 5 0 1 0 10 0a5 5 0 1 0-10 0M657 1094.7m-5 0a5 5 0 1 0 10 0a5 5 0 1 0-10 0M686 1051.5m-5 0a5 5 0 1 0 10 0a5 5 0 1 0-10 0M715 1054.0m-5 0a5 5 0 1 0 10 0a5 5 0 1 0-10 0M744 1151.5m-5 0a5 5 0 1 0 10 0a5 5 0 1 0-10 0M773 1086.2m-5 0a5 5 0 1 0 10 0a5 5 0 1 0-10 0M802 1110.8m-5 0a5 5 0 1 0 10 0a5 5 0 1 0-10 0M831 1155.8m-5 0a5 5 0 1 0 10 0a5 5 0 1 0-10 0M860 1110.8m-5 0a5 5 0 1 0 10 0a5 5 0 1 0-10 0M889 1072.7m-5 0a5 5 0 1 0 10 0a5 5 0 1 0-10 0M918 989.6m-5 0a5 5 0 1 0 10 0a5 5 0 1 0-10 0M947 1082.8m-5 0a5 5 0 1 0 10 0a5 5 0 1 0-10 0M976 1137.1m-5 0a5 5 0 1 0 10 0a5 5 0 1 0-10 0M1005 1093.0m-5 0a5 5 0 1 0 10 0a5 5 0 1 0-10 0M1034 1060.8m-5 0a5 5 0 1 0 10 0a5 5 0 1 0-10 0M1063 1117.6m-5 0a5 5 0 1 0 10 0a5 5 0 1 0-10 0M1092 1095.6m-5 0a5 5 0 1 0 10 0a5 5 0 1 0-10 0M1121 1125.2m-5 0a5 5 0 1 0 10 0a5 5 0 1 0-10 0M1150 990.4m-5 0a5 5 0 1 0 10 0a5 5 0 1 0-10 0M1179 1033.7m-5 0a5 5 0 1 0 10 0a5 5 0 1 0-10 0M1208 1104.9m-5 0a5 5 0 1 0 10 0a5 5 0 1 0-10 0M1237 1086.2m-5 0a5 5 0 1 0 10 0a5 5 0 1 0-10 0M1266 1089.6m-5 0a5 5 0 1 0 10 0a5 5 0 1 0-10 0M1295 1150.7m-5 0a5 5 0 1 0 10 0a5 5 0 1 0-10 0M1324 1082.8m-5 0a5 5 0 1 0 10 0a5 5 0 1 0-10 0M1353 1042.1m-5 0a5 5 0 1 0 10 0a5 5 0 1 0-10 0M1382 1042.1m-5 0a5 5 0 1 0 10 0a5 5 0 1 0-10 0M1411 1082.8m-5 0a5 5 0 1 0 10 0a5 5 0 1 0-10 0M1440 1082.8m-5 0a5 5 0 1 0 10 0a5 5 0 1 0-10 0M1469 1026.9m-5 0a5 5 0 1 0 10 0a5 5 0 1 0-10 0M1498 1133.7m-5 0a5 5 0 1 0 10 0a5 5 0 1 0-10 0M1527 1058.3m-5 0a5 5 0 1 0 10 0a5 5 0 1 0-10 0M1556 1114.2m-5 0a5 5 0 1 0 10 0a5 5 0 1 0-10 0M1585 1058.3m-5 0a5 5 0 1 0 10 0a5 5 0 1 0-10 0M1614 1056.6m-5 0a5 5 0 1 0 10 0a5 5 0 1 0-10 0M1643 910.7m-5 0a5 5 0 1 0 10 0a5 5 0 1 0-10 0M1672 1078.6m-5 0a5 5 0 1 0 10 0a5 5 0 1 0-10 0M1701 1104.0m-5 0a5 5 0 1 0 10 0a5 5 0 1 0-10 0M1730 1100.7m-5 0a5 5 0 1 0 10 0a5 5 0 1 0-10 0M1759 1058.3m-5 0a5 5 0 1 0 10 0a5 5 0 1 0-10 0M1788 977.7m-5 0a5 5 0 1 0 10 0a5 5 0 1 0-10 0M1817 1109.1m-5 0a5 5 0 1 0 10 0a5 5 0 1 0-10 0M1846 1125.2m-5 0a5 5 0 1 0 10 0a5 5 0 1 0-10 0M1875 1098.1m-5 0a5 5 0 1 0 10 0a5 5 0 1 0-10 0M1904 1138.8m-5 0a5 5 0 1 0 10 0a5 5 0 1 0-10 0M1933 1065.0m-5 0a5 5 0 1 0 10 0a5 5 0 1 0-10 0M1962 1115.1m-5 0a5 5 0 1 0 10 0a5 5 0 1 0-10 0M1991 1064.2m-5 0a5 5 0 1 0 10 0a5 5 0 1 0-10 0M2020 1066.7m-5 0a5 5 0 1 0 10 0a5 5 0 1 0-10 0M2049 1085.4m-5 0a5 5 0 1 0 10 0a5 5 0 1 0-10 0M2078 1052.3m-5 0a5 5 0 1 0 10 0a5 5 0 1 0-10 0M2107 1115.1m-5 0a5 5 0 1 0 10 0a5 5 0 1 0-10 0M2136 1071.0m-5 0a5 5 0 1 0 10 0a5 5 0 1 0-10 0M2165 1021.8m-5 0a5 5 0 1 0 10 0a5 5 0 1 0-10 0M2194 1104.9m-5 0a5 5 0 1 0 10 0a5 5 0 1 0-10 0M2223 942.9m-5 0a5 5 0 1 0 10 0a5 5 0 1 0-10 0M2252 1137.1m-5 0a5 5 0 1 0 10 0a5 5 0 1 0-10 0M2281 1122.7m-5 0a5 5 0 1 0 10 0a5 5 0 1 0-10 0M2310 1119.3m-5 0a5 5 0 1 0 10 0a5 5 0 1 0-10 0M2339 1119.3m-5 0a5 5 0 1 0 10 0a5 5 0 1 0-10 0M2368 999.7m-5 0a5 5 0 1 0 10 0a5 5 0 1 0-10 0M2397 1046.4m-5 0a5 5 0 1 0 10 0a5 5 0 1 0-10 0M2426 1038.8m-5 0a5 5 0 1 0 10 0a5 5 0 1 0-10 0M2455 1040.4m-5 0a5 5 0 1 0 10 0a5 5 0 1 0-10 0M2484 988.7m-5 0a5 5 0 1 0 10 0a5 5 0 1 0-10 0M2513 1030.3m-5 0a5 5 0 1 0 10 0a5 5 0 1 0-10 0M2542 964.1m-5 0a5 5 0 1 0 10 0a5 5 0 1 0-10 0M2571 1068.4m-5 0a5 5 0 1 0 10 0a5 5 0 1 0-10 0M2600 1076.1m-5 0a5 5 0 1 0 10 0a5 5 0 1 0-10 0M2629 1127.8m-5 0a5 5 0 1 0 10 0a5 5 0 1 0-10 0M2658 1003.1m-5 0a5 5 0 1 0 10 0a5 5 0 1 0-10 0M2687 765.7m-5 0a5 5 0 1 0 10 0a5 5 0 1 0-10 0M2716 998.9m-5 0a5 5 0 1 0 10 0a5 5 0 1 0-10 0M2745 1163.4m-5 0a5 5 0 1 0 10 0a5 5 0 1 0-10 0M2774 1124.4m-5 0a5 5 0 1 0 10 0a5 5 0 1 0-10 0M2803 1107.4m-5 0a5 5 0 1 0 10 0a5 5 0 1 0-10 0M2832 1149.0m-5 0a5 5 0 1 0 10 0a5 5 0 1 0-10 0M2861 1104.9m-5 0a5 5 0 1 0 10 0a5 5 0 1 0-10 0M2890 1115.1m-5 0a5 5 0 1 0 10 0a5 5 0 1 0-10 0M2919 1119.3m-5 0a5 5 0 1 0 10 0a5 5 0 1 0-10 0M2948 1090.5m-5 0a5 5 0 1 0 10 0a5 5 0 1 0-10 0M2977 1089.6m-5 0a5 5 0 1 0 10 0a5 5 0 1 0-10 0M3006 1077.8m-5 0a5 5 0 1 0 10 0a5 5 0 1 0-10 0M3035 1104.9m-5 0a5 5 0 1 0 10 0a5 5 0 1 0-10 0M3064 1160.0m-5 0a5 5 0 1 0 10 0a5 5 0 1 0-10 0M3093 1071.8m-5 0a5 5 0 1 0 10 0a5 5 0 1 0-10 0M3122 1137.1m-5 0a5 5 0 1 0 10 0a5 5 0 1 0-10 0M3151 1143.1m-5 0a5 5 0 1 0 10 0a5 5 0 1 0-10 0M3180 1039.6m-5 0a5 5 0 1 0 10 0a5 5 0 1 0-10 0M3209 1110.8m-5 0a5 5 0 1 0 10 0a5 5 0 1 0-10 0M3238 1134.6m-5 0a5 5 0 1 0 10 0a5 5 0 1 0-10 0M3267 1122.7m-5 0a5 5 0 1 0 10 0a5 5 0 1 0-10 0M3296 1137.1m-5 0a5 5 0 1 0 10 0a5 5 0 1 0-10 0M3325 1153.2m-5 0a5 5 0 1 0 10 0a5 5 0 1 0-10 0M3354 1103.2m-5 0a5 5 0 1 0 10 0a5 5 0 1 0-10 0M3383 1114.2m-5 0a5 5 0 1 0 10 0a5 5 0 1 0-10 0M3412 1076.9m-5 0a5 5 0 1 0 10 0a5 5 0 1 0-10 0M3441 1048.9m-5 0a5 5 0 1 0 10 0a5 5 0 1 0-10 0M3470 1147.3m-5 0a5 5 0 1 0 10 0a5 5 0 1 0-10 0M3499 1154.1m-5 0a5 5 0 1 0 10 0a5 5 0 1 0-10 0M3528 1129.5m-5 0a5 5 0 1 0 10 0a5 5 0 1 0-10 0M3557 1154.1m-5 0a5 5 0 1 0 10 0a5 5 0 1 0-10 0M3586 1058.3m-5 0a5 5 0 1 0 10 0a5 5 0 1 0-10 0M3615 1048.9m-5 0a5 5 0 1 0 10 0a5 5 0 1 0-10 0M3644 1071.0m-5 0a5 5 0 1 0 10 0a5 5 0 1 0-10 0M3673 1065.9m-5 0a5 5 0 1 0 10 0a5 5 0 1 0-10 0" fill="#705DA0"/>
<path d="M193 1226.2 L222 1226.0 L251 1225.2 L280 1227.1 L309 1224.3 L338 1229.7 L367 1217.4 L396 1225.0 L425 1227.0 L454 1226.7 L483 1229.3 L512 1227.8 L541 1227.9 L570 1226.6 L599 1229.2 L628 1226.7 L657 1227.6 L686 1226.4 L715 1227.2 L744 1227.2 L773 1222.0 L802 1229.4 L831 1228.5 L860 1229.5 L889 1217.1 L918 1225.6 L947 1227.4 L976 1227.2 L1005 1228.0 L1034 1229.9 L1063 1226.8 L1092 1227.0 L1121 1227.9 L1150 1209.5 L1179 1224.4 L1208 1227.0 L1237 1228.9 L1266 1229.6 L1295 1228.9 L1324 1227.0 L1353 1229.1 L1382 1227.0 L1411 1226.1 L1440 1228.0 L1469 1223.3 L1498 1227.2 L1527 1226.9 L1556 1227.5 L1585 1223.8 L1614 1223.1 L1643 1224.5 L1672 1223.9 L1701 1229.7 L1730 1228.8 L1759 1227.3 L1788 1224.1 L1817 1228.8 L1846 1227.9 L1875 1228.1 L1904 1228.1 L1933 1223.9 L1962 1215.1 L1991 1226.2 L2020 1229.8 L2049 1228.1 L2078 1223.8 L2107 1228.1 L2136 1228.8 L2165 1229.1 L2194 1226.2 L2223 1223.2 L2252 1229.3 L2281 1227.8 L2310 1222.8 L2339 1226.7 L2368 1221.7 L2397 1227.1 L2426 1222.8 L2455 1221.1 L2484 1216.2 L2513 1222.6 L2542 1222.5 L2571 1219.6 L2600 1229.9 L2629 1227.0 L2658 1223.8 L2687 1198.2 L2716 1218.7 L2745 1228.4 L2774 1228.4 L2803 1226.0 L2832 1227.6 L2861 1228.5 L2890 1228.2 L2919 1228.8 L2948 1229.7 L2977 1229.5 L3006 1226.6 L3035 1228.8 L3064 1226.2 L3093 1228.9 L3122 1228.9 L3151 1222.7 L3180 1228.4 L3209 1226.2 L3238 1226.4 L3267 1226.7 L3296 1227.4 L3325 1226.3 L3354 1226.2 L3383 1227.7 L3412 1227.1 L3441 1229.7 L3470 1225.9 L3499 1227.0 L3528 1226.0 L3557 1229.7 L3586 1226.3 L3615 1229.4 L3644 1228.0 L3673 1228.6" stroke="#37872D" stroke-width="2" fill="none" stroke-linejoin="round"/>
<path d="M222 1226.0m-5 0a5 5 0 1 0 10 0a5 5 0 1 0-10 0M251 1225.2m-5 0a5 5 0 1 0 10 0a5 5 0 1 0-10 0M280 1227.1m-5 0a5 5 0 1 0 10 0a5 5 0 1 0-10 0M309 1224.3m-5 0a5 5 0 1 0 10 0a5 5 0 1 0-10 0M338 1229.7m-5 0a5 5 0 1 0 10 0a5 5 0 1 0-10 0M367 1217.4m-5 0a5 5 0 1 0 10 0a5 5 0 1 0-10 0M396 1225.0m-5 0a5 5 0 1 0 10 0a5 5 0 1 0-10 0M425 1227.0m-5 0a5 5 0 1 0 10 0a5 5 0 1 0-10 0M454 1226.7m-5 0a5 5 0 1 0 10 0a5 5 0 1 0-10 0M483 1229.3m-5 0a5 5 0 1 0 10 0a5 5 0 1 0-10 0M512 1227.8m-5 0a5 5 0 1 0 10 0a5 5 0 1 0-10 0M541 1227.9m-5 0a5 5 0 1 0 10 0a5 5 0 1 0-10 0M570 1226.6m-5 0a5 5 0 1 0 10 0a5 5 0 1 0-10 0M599 1229.2m-5 0a5 5 0 1 0 10 0a5 5 0 1 0-10 0M628 1226.7m-5 0a5 5 0 1 0 10 0a5 5 0 1 0-10 0M657 1227.6m-5 0a5 5 0 1 0 10 0a5 5 0 1 0-10 0M686 1226.4m-5 0a5 5 0 1 0 10 0a5 5 0 1 0-10 0M715 1227.2m-5 0a5 5 0 1 0 10 0a5 5 0 1 0-10 0M744 1227.2m-5 0a5 5 0 1 0 10 0a5 5 0 1 0-10 0M773 1222.0m-5 0a5 5 0 1 0 10 0a5 5 0 1 0-10 0M802 1229.4m-5 0a5 5 0 1 0 10 0a5 5 0 1 0-10 0M831 1228.5m-5 0a5 5 0 1 0 10 0a5 5 0 1 0-10 0M860 1229.5m-5 0a5 5 0 1 0 10 0a5 5 0 1 0-10 0M889 1217.1m-5 0a5 5 0 1 0 10 0a5 5 0 1 0-10 0M918 1225.6m-5 0a5 5 0 1 0 10 0a5 5 0 1 0-10 0M947 1227.4m-5 0a5 5 0 1 0 10 0a5 5 0 1 0-10 0M976 1227.2m-5 0a5 5 0 1 0 10 0a5 5 0 1 0-10 0M1005 1228.0m-5 0a5 5 0 1 0 10 0a5 5 0 1 0-10 0M1034 1229.9m-5 0a5 5 0 1 0 10 0a5 5 0 1 0-10 0M1063 1226.8m-5 0a5 5 0 1 0 10 0a5 5 0 1 0-10 0M1092 1227.0m-5 0a5 5 0 1 0 10 0a5 5 0 1 0-10 0M1121 1227.9m-5 0a5 5 0 1 0 10 0a5 5 0 1 0-10 0M1150 1209.5m-5 0a5 5 0 1 0 10 0a5 5 0 1 0-10 0M1179 1224.4m-5 0a5 5 0 1 0 10 0a5 5 0 1 0-10 0M1208 1227.0m-5 0a5 5 0 1 0 10 0a5 5 0 1 0-10 0M1237 1228.9m-5 0a5 5 0 1 0 10 0a5 5 0 1 0-10 0M1266 1229.6m-5 0a5 5 0 1 0 10 0a5 5 0 1 0-10 0M1295 1228.9m-5 0a5 5 0 1 0 10 0a5 5 0 1 0-10 0M1324 1227.0m-5 0a5 5 0 1 0 10 0a5 5 0 1 0-10 0M1353 1229.1m-5 0a5 5 0 1 0 10 0a5 5 0 1 0-10 0M1382 1227.0m-5 0a5 5 0 1 0 10 0a5 5 0 1 0-10 0M1411 1226.1m-5 0a5 5 0 1 0 10 0a5 5 0 1 0-10 0M1440 1228.0m-5 0a5 5 0 1 0 10 0a5 5 0 1 0-10 0M1469 1223.3m-5 0a5 5 0 1 0 10 0a5 5 0 1 0-10 0M1498 1227.2m-5 0a5 5 0 1 0 10 0a5 5 0 1 0-10 0M1527 1226.9m-5 0a5 5 0 1 0 10 0a5 5 0 1 0-10 0M1556 1227.5m-5 0a5 5 0 1 0 10 0a5 5 0 1 0-10 0M1585 1223.8m-5 0a5 5 0 1 0 10 0a5 5 0 1 0-10 0M1614 1223.1m-5 0a5 5 0 1 0 10 0a5 5 0 1 0-10 0M1643 1224.5m-5 0a5 5 0 1 0 10 0a5 5 0 1 0-10 0M1672 1223.9m-5 0a5 5 0 1 0 10 0a5 5 0 1 0-10 0M1701 1229.7m-5 0a5 5 0 1 0 10 0a5 5 0 1 0-10 0M1730 1228.8m-5 0a5 5 0 1 0 10 0a5 5 0 1 0-10 0M1759 1227.3m-5 0a5 5 0 1 0 10 0a5 5 0 1 0-10 0M1788 1224.1m-5 0a5 5 0 1 0 10 0a5 5 0 1 0-10 0M1817 1228.8m-5 0a5 5 0 1 0 10 0a5 5 0 1 0-10 0M1846 1227.9m-5 0a5 5 0 1 0 10 0a5 5 0 1 0-10 0M1875 1228.1m-5 0a5 5 0 1 0 10 0a5 5 0 1 0-10 0M1904 1228.1m-5 0a5 5 0 1 0 10 0a5 5 0 1 0-10 0M1933 1223.9m-5 0a5 5 0 1 0 10 0a5 5 0 1 0-10 0M1962 1215.1m-5 0a5 5 0 1 0 10 0a5 5 0 1 0-10 0M1991 1226.2m-5 0a5 5 0 1 0 10 0a5 5 0 1 0-10 0M2020 1229.8m-5 0a5 5 0 1 0 10 0a5 5 0 1 0-10 0M2049 1228.1m-5 0a5 5 0 1 0 10 0a5 5 0 1 0-10 0M2078 1223.8m-5 0a5 5 0 1 0 10 0a5 5 0 1 0-10 0M2107 1228.1m-5 0a5 5 0 1 0 10 0a5 5 0 1 0-10 0M2136 1228.8m-5 0a5 5 0 1 0 10 0a5 5 0 1 0-10 0M2165 1229.1m-5 0a5 5 0 1 0 10 0a5 5 0 1 0-10 0M2194 1226.2m-5 0a5 5 0 1 0 10 0a5 5 0 1 0-10 0M2223 1223.2m-5 0a5 5 0 1 0 10 0a5 5 0 1 0-10 0M2252 1229.3m-5 0a5 5 0 1 0 10 0a5 5 0 1 0-10 0M2281 1227.8m-5 0a5 5 0 1 0 10 0a5 5 0 1 0-10 0M2310 1222.8m-5 0a5 5 0 1 0 10 0a5 5 0 1 0-10 0M2339 1226.7m-5 0a5 5 0 1 0 10 0a5 5 0 1 0-10 0M2368 1221.7m-5 0a5 5 0 1 0 10 0a5 5 0 1 0-10 0M2397 1227.1m-5 0a5 5 0 1 0 10 0a5 5 0 1 0-10 0M2426 1222.8m-5 0a5 5 0 1 0 10 0a5 5 0 1 0-10 0M2455 1221.1m-5 0a5 5 0 1 0 10 0a5 5 0 1 0-10 0M2484 1216.2m-5 0a5 5 0 1 0 10 0a5 5 0 1 0-10 0M2513 1222.6m-5 0a5 5 0 1 0 10 0a5 5 0 1 0-10 0M2542 1222.5m-5 0a5 5 0 1 0 10 0a5 5 0 1 0-10 0M2571 1219.6m-5 0a5 5 0 1 0 10 0a5 5 0 1 0-10 0M2600 1229.9m-5 0a5 5 0 1 0 10 0a5 5 0 1 0-10 0M2629 1227.0m-5 0a5 5 0 1 0 10 0a5 5 0 1 0-10 0M2658 1223.8m-5 0a5 5 0 1 0 10 0a5 5 0 1 0-10 0M2687 1198.2m-5 0a5 5 0 1 0 10 0a5 5 0 1 0-10 0M2716 1218.7m-5 0a5 5 0 1 0 10 0a5 5 0 1 0-10 0M2745 1228.4m-5 0a5 5 0 1 0 10 0a5 5 0 1 0-10 0M2774 1228.4m-5 0a5 5 0 1 0 10 0a5 5 0 1 0-10 0M2803 1226.0m-5 0a5 5 0 1 0 10 0a5 5 0 1 0-10 0M2832 1227.6m-5 0a5 5 0 1 0 10 0a5 5 0 1 0-10 0M2861 1228.5m-5 0a5 5 0 1 0 10 0a5 5 0 1 0-10 0M2890 1228.2m-5 0a5 5 0 1 0 10 0a5 5 0 1 0-10 0M2919 1228.8m-5 0a5 5 0 1 0 10 0a5 5 0 1 0-10 0M2948 1229.7m-5 0a5 5 0 1 0 10 0a5 5 0 1 0-10 0M2977 1229.5m-5 0a5 5 0 1 0 10 0a5 5 0 1 0-10 0M3006 1226.6m-5 0a5 5 0 1 0 10 0a5 5 0 1 0-10 0M3035 1228.8m-5 0a5 5 0 1 0 10 0a5 5 0 1 0-10 0M3064 1226.2m-5 0a5 5 0 1 0 10 0a5 5 0 1 0-10 0M3093 1228.9m-5 0a5 5 0 1 0 10 0a5 5 0 1 0-10 0M3122 1228.9m-5 0a5 5 0 1 0 10 0a5 5 0 1 0-10 0M3151 1222.7m-5 0a5 5 0 1 0 10 0a5 5 0 1 0-10 0M3180 1228.4m-5 0a5 5 0 1 0 10 0a5 5 0 1 0-10 0M3209 1226.2m-5 0a5 5 0 1 0 10 0a5 5 0 1 0-10 0M3238 1226.4m-5 0a5 5 0 1 0 10 0a5 5 0 1 0-10 0M3267 1226.7m-5 0a5 5 0 1 0 10 0a5 5 0 1 0-10 0M3296 1227.4m-5 0a5 5 0 1 0 10 0a5 5 0 1 0-10 0M3325 1226.3m-5 0a5 5 0 1 0 10 0a5 5 0 1 0-10 0M3354 1226.2m-5 0a5 5 0 1 0 10 0a5 5 0 1 0-10 0M3383 1227.7m-5 0a5 5 0 1 0 10 0a5 5 0 1 0-10 0M3412 1227.1m-5 0a5 5 0 1 0 10 0a5 5 0 1 0-10 0M3441 1229.7m-5 0a5 5 0 1 0 10 0a5 5 0 1 0-10 0M3470 1225.9m-5 0a5 5 0 1 0 10 0a5 5 0 1 0-10 0M3499 1227.0m-5 0a5 5 0 1 0 10 0a5 5 0 1 0-10 0M3528 1226.0m-5 0a5 5 0 1 0 10 0a5 5 0 1 0-10 0M3557 1229.7m-5 0a5 5 0 1 0 10 0a5 5 0 1 0-10 0M3586 1226.3m-5 0a5 5 0 1 0 10 0a5 5 0 1 0-10 0M3615 1229.4m-5 0a5 5 0 1 0 10 0a5 5 0 1 0-10 0M3644 1228.0m-5 0a5 5 0 1 0 10 0a5 5 0 1 0-10 0M3673 1228.6m-5 0a5 5 0 1 0 10 0a5 5 0 1 0-10 0" fill="#37872D"/>
<path d="M193 1081.2 L222 1118.5 L251 1096.4 L280 1059.1 L309 1087.9 L338 1138.8 L367 1133.7 L396 1149.0 L425 1181.2 L454 1108.3 L483 1028.6 L512 1113.4 L541 1057.4 L570 1103.2 L599 1135.4 L628 1028.6 L657 1115.1 L686 1093.0 L715 1052.3 L744 1179.5 L773 1103.2 L802 1132.0 L831 1175.3 L860 1134.6 L889 1061.6 L918 1011.6 L947 1117.6 L976 1149.8 L1005 1093.9 L1034 1088.8 L1063 1127.8 L1092 1104.9 L1121 1137.1 L1150 1011.6 L1179 1076.9 L1208 1137.1 L1237 1107.4 L1266 1116.8 L1295 1160.0 L1324 1095.6 L1353 1087.9 L1382 1060.8 L1411 1093.0 L1440 1093.0 L1469 1054.0 L1498 1147.3 L1527 1074.4 L1556 1151.5 L1585 1083.7 L1614 1051.5 L1643 926.8 L1672 1081.2 L1701 1129.5 L1730 1129.5 L1759 1087.9 L1788 1017.6 L1817 1139.7 L1846 1147.3 L1875 1117.6 L1904 1167.6 L1933 1076.1 L1962 1117.6 L1991 1087.9 L2020 1088.8 L2049 1112.5 L2078 1076.1 L2107 1132.0 L2136 1094.7 L2165 1043.0 L2194 1137.1 L2223 998.0 L2252 1160.0 L2281 1137.1 L2310 1129.5 L2339 1138.8 L2368 1027.7 L2397 1081.2 L2426 1063.3 L2455 1040.4 L2484 1025.2 L2513 1063.3 L2542 1000.6 L2571 1087.9 L2600 1089.6 L2629 1158.3 L2658 1020.9 L2687 781.0 L2716 1022.6 L2745 1177.8 L2774 1154.1 L2803 1129.5 L2832 1144.8 L2861 1115.1 L2890 1142.2 L2919 1149.0 L2948 1112.5 L2977 1099.0 L3006 1110.0 L3035 1121.9 L3064 1182.1 L3093 1082.8 L3122 1147.3 L3151 1149.8 L3180 1054.0 L3209 1137.1 L3238 1151.5 L3267 1138.8 L3296 1154.1 L3325 1182.9 L3354 1117.6 L3383 1134.6 L3412 1098.1 L3441 1094.7 L3470 1149.8 L3499 1175.3 L3528 1150.7 L3557 1164.3 L3586 1065.9 L3615 1076.1 L3644 1086.2 L3673 1081.2" stroke="#FADE2A" stroke-width="2" fill="none" stroke-linejoin="round"/>
<path d="M222 1118.5m-5 0a5 5 0 1 0 10 0a5 5 0 1 0-10 0M251 1096.4m-5 0a5 5 0 1 0 10 0a5 5 0 1 0-10 0M280 1059.1m-5 0a5 5 0 1 0 10 0a5 5 0 1 0-10 0M309 1087.9m-5 0a5 5 0 1 0 10 0a5 5 0 1 0-10 0M338 1138.8m-5 0a5 5 0 1 0 10 0a5 5 0 1 0-10 0M367 1133.7m-5 0a5 5 0 1 0 10 0a5 5 0 1 0-10 0M396 1149.0m-5 0a5 5 0 1 0 10 0a5 5 0 1 0-10 0M425 1181.2m-5 0a5 5 0 1 0 10 0a5 5 0 1 0-10 0M454 1108.3m-5 0a5 5 0 1 0 10 0a5 5 0 1 0-10 0M483 1028.6m-5 0a5 5 0 1 0 10 0a5 5 0 1 0-10 0M512 1113.4m-5 0a5 5 0 1 0 10 0a5 5 0 1 0-10 0M541 1057.4m-5 0a5 5 0 1 0 10 0a5 5 0 1 0-10 0M570 1103.2m-5 0a5 5 0 1 0 10 0a5 5 0 1 0-10 0M599 1135.4m-5 0a5 5 0 1 0 10 0a5 5 0 1 0-10 0M628 1028.6m-5 0a5 5 0 1 0 10 0a5 5 0 1 0-10 0M657 1115.1m-5 0a5 5 0 1 0 10 0a5 5 0 1 0-10 0M686 1093.0m-5 0a5 5 0 1 0 10 0a5 5 0 1 0-10 0M715 1052.3m-5 0a5 5 0 1 0 10 0a5 5 0 1 0-10 0M744 1179.5m-5 0a5 5 0 1 0 10 0a5 5 0 1 0-10 0M773 1103.2m-5 0a5 5 0 1 0 10 0a5 5 0 1 0-10 0M802 1132.0m-5 0a5 5 0 1 0 10 0a5 5 0 1 0-10 0M831 1175.3m-5 0a5 5 0 1 0 10 0a5 5 0 1 0-10 0M860 1134.6m-5 0a5 5 0 1 0 10 0a5 5 0 1 0-10 0M889 1061.6m-5 0a5 5 0 1 0 10 0a5 5 0 1 0-10 0M918 1011.6m-5 0a5 5 0 1 0 10 0a5 5 0 1 0-10 0M947 1117.6m-5 0a5 5 0 1 0 10 0a5 5 0 1 0-10 0M976 1149.8m-5 0a5 5 0 1 0 10 0a5 5 0 1 0-10 0M1005 1093.9m-5 0a5 5 0 1 0 10 0a5 5 0 1 0-10 0M1034 1088.8m-5 0a5 5 0 1 0 10 0a5 5 0 1 0-10 0M1063 1127.8m-5 0a5 5 0 1 0 10 0a5 5 0 1 0-10 0M1092 1104.9m-5 0a5 5 0 1 0 10 0a5 5 0 1 0-10 0M1121 1137.1m-5 0a5 5 0 1 0 10 0a5 5 0 1 0-10 0M1150 1011.6m-5 0a5 5 0 1 0 10 0a5 5 0 1 0-10 0M1179 1076.9m-5 0a5 5 0 1 0 10 0a5 5 0 1 0-10 0M1208 1137.1m-5 0a5 5 0 1 0 10 0a5 5 0 1 0-10 0M1237 1107.4m-5 0a5 5 0 1 0 10 0a5 5 0 1 0-10 0M1266 1116.8m-5 0a5 5 0 1 0 10 0a5 5 0 1 0-10 0M1295 1160.0m-5 0a5 5 0 1 0 10 0a5 5 0 1 0-10 0M1324 1095.6m-5 0a5 5 0 1 0 10 0a5 5 0 1 0-10 0M1353 1087.9m-5 0a5 5 0 1 0 10 0a5 5 0 1 0-10 0M1382 1060.8m-5 0a5 5 0 1 0 10 0a5 5 0 1 0-10 0M1411 1093.0m-5 0a5 5 0 1 0 10 0a5 5 0 1 0-10 0M1440 1093.0m-5 0a5 5 0 1 0 10 0a5 5 0 1 0-10 0M1469 1054.0m-5 0a5 5 0 1 0 10 0a5 5 0 1 0-10 0M1498 1147.3m-5 0a5 5 0 1 0 10 0a5 5 0 1 0-10 0M1527 1074.4m-5 0a5 5 0 1 0 10 0a5 5 0 1 0-10 0M1556 1151.5m-5 0a5 5 0 1 0 10 0a5 5 0 1 0-10 0M1585 1083.7m-5 0a5 5 0 1 0 10 0a5 5 0 1 0-10 0M1614 1051.5m-5 0a5 5 0 1 0 10 0a5 5 0 1 0-10 0M1643 926.8m-5 0a5 5 0 1 0 10 0a5 5 0 1 0-10 0M1672 1081.2m-5 0a5 5 0 1 0 10 0a5 5 0 1 0-10 0M1701 1129.5m-5 0a5 5 0 1 0 10 0a5 5 0 1 0-10 0M1730 1129.5m-5 0a5 5 0 1 0 10 0a5 5 0 1 0-10 0M1759 1087.9m-5 0a5 5 0 1 0 10 0a5 5 0 1 0-10 0M1788 1017.6m-5 0a5 5 0 1 0 10 0a5 5 0 1 0-10 0M1817 1139.7m-5 0a5 5 0 1 0 10 0a5 5 0 1 0-10 0M1846 1147.3m-5 0a5 5 0 1 0 10 0a5 5 0 1 0-10 0M1875 1117.6m-5 0a5 5 0 1 0 10 0a5 5 0 1 0-10 0M1904 1167.6m-5 0a5 5 0 1 0 10 0a5 5 0 1 0-10 0M1933 1076.1m-5 0a5 5 0 1 0 10 0a5 5 0 1 0-10 0M1962 1117.6m-5 0a5 5 0 1 0 10 0a5 5 0 1 0-10 0M1991 1087.9m-5 0a5 5 0 1 0 10 0a5 5 0 1 0-10 0M2020 1088.8m-5 0a5 5 0 1 0 10 0a5 5 0 1 0-10 0M2049 1112.5m-5 0a5 5 0 1 0 10 0a5 5 0 1 0-10 0M2078 1076.1m-5 0a5 5 0 1 0 10 0a5 5 0 1 0-10 0M2107 1132.0m-5 0a5 5 0 1 0 10 0a5 5 0 1 0-10 0M2136 1094.7m-5 0a5 5 0 1 0 10 0a5 5 0 1 0-10 0M2165 1043.0m-5 0a5 5 0 1 0 10 0a5 5 0 1 0-10 0M2194 1137.1m-5 0a5 5 0 1 0 10 0a5 5 0 1 0-10 0M2223 998.0m-5 0a5 5 0 1 0 10 0a5 5 0 1 0-10 0M2252 1160.0m-5 0a5 5 0 1 0 10 0a5 5 0 1 0-10 0M2281 1137.1m-5 0a5 5 0 1 0 10 0a5 5 0 1 0-10 0M2310 1129.5m-5 0a5 5 0 1 0 10 0a5 5 0 1 0-10 0M2339 1138.8m-5 0a5 5 0 1 0 10 0a5 5 0 1 0-10 0M2368 1027.7m-5 0a5 5 0 1 0 10 0a5 5 0 1 0-10 0M2397 1081.2m-5 0a5 5 0 1 0 10 0a5 5 0 1 0-10 0M2426 1063.3m-5 0a5 5 0 1 0 10 0a5 5 0 1 0-10 0M2455 1040.4m-5 0a5 5 0 1 0 10 0a5 5 0 1 0-10 0M2484 1025.2m-5 0a5 5 0 1 0 10 0a5 5 0 1 0-10 0M2513 1063.3m-5 0a5 5 0 1 0 10 0a5 5 0 1 0-10 0M2542 1000.6m-5 0a5 5 0 1 0 10 0a5 5 0 1 0-10 0M2571 1087.9m-5 0a5 5 0 1 0 10 0a5 5 0 1 0-10 0M2600 1089.6m-5 0a5 5 0 1 0 10 0a5 5 0 1 0-10 0M2629 1158.3m-5 0a5 5 0 1 0 10 0a5 5 0 1 0-10 0M2658 1020.9m-5 0a5 5 0 1 0 10 0a5 5 0 1 0-10 0M2687 781.0m-5 0a5 5 0 1 0 10 0a5 5 0 1 0-10 0M2716 1022.6m-5 0a5 5 0 1 0 10 0a5 5 0 1 0-10 0M2745 1177.8m-5 0a5 5 0 1 0 10 0a5 5 0 1 0-10 0M2774 1154.1m-5 0a5 5 0 1 0 10 0a5 5 0 1 0-10 0M2803 1129.5m-5 0a5 5 0 1 0 10 0a5 5 0 1 0-10 0M2832 1144.8m-5 0a5 5 0 1 0 10 0a5 5 0 1 0-10 0M2861 1115.1m-5 0a5 5 0 1 0 10 0a5 5 0 1 0-10 0M2890 1142.2m-5 0a5 5 0 1 0 10 0a5 5 0 1 0-10 0M2919 1149.0m-5 0a5 5 0 1 0 10 0a5 5 0 1 0-10 0M2948 1112.5m-5 0a5 5 0 1 0 10 0a5 5 0 1 0-10 0M2977 1099.0m-5 0a5 5 0 1 0 10 0a5 5 0 1 0-10 0M3006 1110.0m-5 0a5 5 0 1 0 10 0a5 5 0 1 0-10 0M3035 1121.9m-5 0a5 5 0 1 0 10 0a5 5 0 1 0-10 0M3064 1182.1m-5 0a5 5 0 1 0 10 0a5 5 0 1 0-10 0M3093 1082.8m-5 0a5 5 0 1 0 10 0a5 5 0 1 0-10 0M3122 1147.3m-5 0a5 5 0 1 0 10 0a5 5 0 1 0-10 0M3151 1149.8m-5 0a5 5 0 1 0 10 0a5 5 0 1 0-10 0M3180 1054.0m-5 0a5 5 0 1 0 10 0a5 5 0 1 0-10 0M3209 1137.1m-5 0a5 5 0 1 0 10 0a5 5 0 1 0-10 0M3238 1151.5m-5 0a5 5 0 1 0 10 0a5 5 0 1 0-10 0M3267 1138.8m-5 0a5 5 0 1 0 10 0a5 5 0 1 0-10 0M3296 1154.1m-5 0a5 5 0 1 0 10 0a5 5 0 1 0-10 0M3325 1182.9m-5 0a5 5 0 1 0 10 0a5 5 0 1 0-10 0M3354 1117.6m-5 0a5 5 0 1 0 10 0a5 5 0 1 0-10 0M3383 1134.6m-5 0a5 5 0 1 0 10 0a5 5 0 1 0-10 0M3412 1098.1m-5 0a5 5 0 1 0 10 0a5 5 0 1 0-10 0M3441 1094.7m-5 0a5 5 0 1 0 10 0a5 5 0 1 0-10 0M3470 1149.8m-5 0a5 5 0 1 0 10 0a5 5 0 1 0-10 0M3499 1175.3m-5 0a5 5 0 1 0 10 0a5 5 0 1 0-10 0M3528 1150.7m-5 0a5 5 0 1 0 10 0a5 5 0 1 0-10 0M3557 1164.3m-5 0a5 5 0 1 0 10 0a5 5 0 1 0-10 0M3586 1065.9m-5 0a5 5 0 1 0 10 0a5 5 0 1 0-10 0M3615 1076.1m-5 0a5 5 0 1 0 10 0a5 5 0 1 0-10 0M3644 1086.2m-5 0a5 5 0 1 0 10 0a5 5 0 1 0-10 0M3673 1081.2m-5 0a5 5 0 1 0 10 0a5 5 0 1 0-10 0" fill="#FADE2A"/>
<path d="M193 1226.2 L222 1228.7 L251 1225.9 L280 1226.1 L309 1226.2 L338 1227.3 L367 1214.5 L396 1225.9 L425 1229.2 L454 1229.3 L483 1229.1 L512 1226.4 L541 1228.0 L570 1229.0 L599 1229.1 L628 1226.0 L657 1228.1 L686 1229.3 L715 1229.1 L744 1229.5 L773 1219.5 L802 1229.0 L831 1228.9 L860 1227.7 L889 1212.6 L918 1223.3 L947 1228.3 L976 1227.8 L1005 1228.4 L1034 1228.6 L1063 1229.6 L1092 1228.8 L1121 1226.1 L1150 1204.2 L1179 1223.8 L1208 1226.5 L1237 1229.0 L1266 1228.8 L1295 1228.9 L1324 1228.3 L1353 1228.2 L1382 1226.2 L1411 1226.6 L1440 1226.5 L1469 1222.0 L1498 1227.1 L1527 1226.4 L1556 1228.0 L1585 1222.0 L1614 1219.8 L1643 1222.1 L1672 1221.6 L1701 1229.5 L1730 1229.3 L1759 1227.9 L1788 1221.9 L1817 1227.1 L1846 1227.4 L1875 1226.9 L1904 1228.1 L1933 1223.2 L1962 1220.4 L1991 1226.3 L2020 1227.4 L2049 1228.7 L2078 1222.9 L2107 1227.4 L2136 1227.2 L2165 1229.5 L2194 1229.6 L2223 1221.1 L2252 1228.4 L2281 1229.0 L2310 1220.8 L2339 1228.7 L2368 1219.1 L2397 1227.4 L2426 1221.3 L2455 1217.9 L2484 1211.4 L2513 1220.8 L2542 1219.6 L2571 1217.9 L2600 1227.3 L2629 1226.3 L2658 1222.0 L2687 1202.0 L2716 1215.5 L2745 1226.8 L2774 1227.0 L2803 1227.9 L2832 1229.1 L2861 1226.1 L2890 1228.7 L2919 1226.7 L2948 1229.0 L2977 1229.0 L3006 1226.9 L3035 1228.7 L3064 1226.2 L3093 1228.0 L3122 1229.2 L3151 1220.1 L3180 1227.3 L3209 1226.2 L3238 1229.3 L3267 1228.4 L3296 1229.1 L3325 1226.1 L3354 1229.3 L3383 1229.7 L3412 1229.7 L3441 1228.4 L3470 1224.1 L3499 1227.0 L3528 1224.1 L3557 1228.6 L3586 1229.2 L3615 1226.2 L3644 1227.0 L3673 1229.8" stroke="#447EBC" stroke-width="2" fill="none" stroke-linejoin="round"/>
<path d="M222 1228.7m-5 0a5 5 0 1 0 10 0a5 5 0 1 0-10 0M251 1225.9m-5 0a5 5 0 1 0 10 0a5 5 0 1 0-10 0M280 1226.1m-5 0a5 5 0 1 0 10 0a5 5 0 1 0-10 0M309 1226.2m-5 0a5 5 0 1 0 10 0a5 5 0 1 0-10 0M338 1227.3m-5 0a5 5 0 1 0 10 0a5 5 0 1 0-10 0M367 1214.5m-5 0a5 5 0 1 0 10 0a5 5 0 1 0-10 0M396 1225.9m-5 0a5 5 0 1 0 10 0a5 5 0 1 0-10 0M425 1229.2m-5 0a5 5 0 1 0 10 0a5 5 0 1 0-10 0M454 1229.3m-5 0a5 5 0 1 0 10 0a5 5 0 1 0-10 0M483 1229.1m-5 0a5 5 0 1 0 10 0a5 5 0 1 0-10 0M512 1226.4m-5 0a5 5 0 1 0 10 0a5 5 0 1 0-10 0M541 1228.0m-5 0a5 5 0 1 0 10 0a5 5 0 1 0-10 0M570 1229.0m-5 0a5 5 0 1 0 10 0a5 5 0 1 0-10 0M599 1229.1m-5 0a5 5 0 1 0 10 0a5 5 0 1 0-10 0M628 1226.0m-5 0a5 5 0 1 0 10 0a5 5 0 1 0-10 0M657 1228.1m-5 0a5 5 0 1 0 10 0a5 5 0 1 0-10 0M686 1229.3m-5 0a5 5 0 1 0 10 0a5 5 0 1 0-10 0M715 1229.1m-5 0a5 5 0 1 0 10 0a5 5 0 1 0-10 0M744 1229.5m-5 0a5 5 0 1 0 10 0a5 5 0 1 0-10 0M773 1219.5m-5 0a5 5 0 1 0 10 0a5 5 0 1 0-10 0M802 1229.0m-5 0a5 5 0 1 0 10 0a5 5 0 1 0-10 0M831 1228.9m-5 0a5 5 0 1 0 10 0a5 5 0 1 0-10 0M860 1227.7m-5 0a5 5 0 1 0 10 0a5 5 0 1 0-10 0M889 1212.6m-5 0a5 5 0 1 0 10 0a5 5 0 1 0-10 0M918 1223.3m-5 0a5 5 0 1 0 10 0a5 5 0 1 0-10 0M947 1228.3m-5 0a5 5 0 1 0 10 0a5 5 0 1 0-10 0M976 1227.8m-5 0a5 5 0 1 0 10 0a5 5 0 1 0-10 0M1005 1228.4m-5 0a5 5 0 1 0 10 0a5 5 0 1 0-10 0M1034 1228.6m-5 0a5 5 0 1 0 10 0a5 5 0 1 0-10 0M1063 1229.6m-5 0a5 5 0 1 0 10 0a5 5 0 1 0-10 0M1092 1228.8m-5 0a5 5 0 1 0 10 0a5 5 0 1 0-10 0M1121 1226.1m-5 0a5 5 0 1 0 10 0a5 5 0 1 0-10 0M1150 1204.2m-5 0a5 5 0 1 0 10 0a5 5 0 1 0-10 0M1179 1223.8m-5 0a5 5 0 1 0 10 0a5 5 0 1 0-10 0M1208 1226.5m-5 0a5 5 0 1 0 10 0a5 5 0 1 0-10 0M1237 1229.0m-5 0a5 5 0 1 0 10 0a5 5 0 1 0-10 0M1266 1228.8m-5 0a5 5 0 1 0 10 0a5 5 0 1 0-10 0M1295 1228.9m-5 0a5 5 0 1 0 10 0a5 5 0 1 0-10 0M1324 1228.3m-5 0a5 5 0 1 0 10 0a5 5 0 1 0-10 0M1353 1228.2m-5 0a5 5 0 1 0 10 0a5 5 0 1 0-10 0M1382 1226.2m-5 0a5 5 0 1 0 10 0a5 5 0 1 0-10 0M1411 1226.6m-5 0a5 5 0 1 0 10 0a5 5 0 1 0-10 0M1440 1226.5m-5 0a5 5 0 1 0 10 0a5 5 0 1 0-10 0M1469 1222.0m-5 0a5 5 0 1 0 10 0a5 5 0 1 0-10 0M1498 1227.1m-5 0a5 5 0 1 0 10 0a5 5 0 1 0-10 0M1527 1226.4m-5 0a5 5 0 1 0 10 0a5 5 0 1 0-10 0M1556 1228.0m-5 0a5 5 0 1 0 10 0a5 5 0 1 0-10 0M1585 1222.0m-5 0a5 5 0 1 0 10 0a5 5 0 1 0-10 0M1614 1219.8m-5 0a5 5 0 1 0 10 0a5 5 0 1 0-10 0M1643 1222.1m-5 0a5 5 0 1 0 10 0a5 5 0 1 0-10 0M1672 1221.6m-5 0a5 5 0 1 0 10 0a5 5 0 1 0-10 0M1701 1229.5m-5 0a5 5 0 1 0 10 0a5 5 0 1 0-10 0M1730 1229.3m-5 0a5 5 0 1 0 10 0a5 5 0 1 0-10 0M1759 1227.9m-5 0a5 5 0 1 0 10 0a5 5 0 1 0-10 0M1788 1221.9m-5 0a5 5 0 1 0 10 0a5 5 0 1 0-10 0M1817 1227.1m-5 0a5 5 0 1 0 10 0a5 5 0 1 0-10 0M1846 1227.4m-5 0a5 5 0 1 0 10 0a5 5 0 1 0-10 0M1875 1226.9m-5 0a5 5 0 1 0 10 0a5 5 0 1 0-10 0M1904 1228.1m-5 0a5 5 0 1 0 10 0a5 5 0 1 0-10 0M1933 1223.2m-5 0a5 5 0 1 0 10 0a5 5 0 1 0-10 0M1962 1220.4m-5 0a5 5 0 1 0 10 0a5 5 0 1 0-10 0M1991 1226.3m-5 0a5 5 0 1 0 10 0a5 5 0 1 0-10 0M2020 1227.4m-5 0a5 5 0 1 0 10 0a5 5 0 1 0-10 0M2049 1228.7m-5 0a5 5 0 1 0 10 0a5 5 0 1 0-10 0M2078 1222.9m-5 0a5 5 0 1 0 10 0a5 5 0 1 0-10 0M2107 1227.4m-5 0a5 5 0 1 0 10 0a5 5 0 1 0-10 0M2136 1227.2m-5 0a5 5 0 1 0 10 0a5 5 0 1 0-10 0M2165 1229.5m-5 0a5 5 0 1 0 10 0a5 5 0 1 0-10 0M2194 1229.6m-5 0a5 5 0 1 0 10 0a5 5 0 1 0-10 0M2223 1221.1m-5 0a5 5 0 1 0 10 0a5 5 0 1 0-10 0M2252 1228.4m-5 0a5 5 0 1 0 10 0a5 5 0 1 0-10 0M2281 1229.0m-5 0a5 5 0 1 0 10 0a5 5 0 1 0-10 0M2310 1220.8m-5 0a5 5 0 1 0 10 0a5 5 0 1 0-10 0M2339 1228.7m-5 0a5 5 0 1 0 10 0a5 5 0 1 0-10 0M2368 1219.1m-5 0a5 5 0 1 0 10 0a5 5 0 1 0-10 0M2397 1227.4m-5 0a5 5 0 1 0 10 0a5 5 0 1 0-10 0M2426 1221.3m-5 0a5 5 0 1 0 10 0a5 5 0 1 0-10 0M2455 1217.9m-5 0a5 5 0 1 0 10 0a5 5 0 1 0-10 0M2484 1211.4m-5 0a5 5 0 1 0 10 0a5 5 0 1 0-10 0M2513 1220.8m-5 0a5 5 0 1 0 10 0a5 5 0 1 0-10 0M2542 1219.6m-5 0a5 5 0 1 0 10 0a5 5 0 1 0-10 0M2571 1217.9m-5 0a5 5 0 1 0 10 0a5 5 0 1 0-10 0M2600 1227.3m-5 0a5 5 0 1 0 10 0a5 5 0 1 0-10 0M2629 1226.3m-5 0a5 5 0 1 0 10 0a5 5 0 1 0-10 0M2658 1222.0m-5 0a5 5 0 1 0 10 0a5 5 0 1 0-10 0M2687 1202.0m-5 0a5 5 0 1 0 10 0a5 5 0 1 0-10 0M2716 1215.5m-5 0a5 5 0 1 0 10 0a5 5 0 1 0-10 0M2745 1226.8m-5 0a5 5 0 1 0 10 0a5 5 0 1 0-10 0M2774 1227.0m-5 0a5 5 0 1 0 10 0a5 5 0 1 0-10 0M2803 1227.9m-5 0a5 5 0 1 0 10 0a5 5 0 1 0-10 0M2832 1229.1m-5 0a5 5 0 1 0 10 0a5 5 0 1 0-10 0M2861 1226.1m-5 0a5 5 0 1 0 10 0a5 5 0 1 0-10 0M2890 1228.7m-5 0a5 5 0 1 0 10 0a5 5 0 1 0-10 0M2919 1226.7m-5 0a5 5 0 1 0 10 0a5 5 0 1 0-10 0M2948 1229.0m-5 0a5 5 0 1 0 10 0a5 5 0 1 0-10 0M2977 1229.0m-5 0a5 5 0 1 0 10 0a5 5 0 1 0-10 0M3006 1226.9m-5 0a5 5 0 1 0 10 0a5 5 0 1 0-10 0M3035 1228.7m-5 0a5 5 0 1 0 10 0a5 5 0 1 0-10 0M3064 1226.2m-5 0a5 5 0 1 0 10 0a5 5 0 1 0-10 0M3093 1228.0m-5 0a5 5 0 1 0 10 0a5 5 0 1 0-10 0M3122 1229.2m-5 0a5 5 0 1 0 10 0a5 5 0 1 0-10 0M3151 1220.1m-5 0a5 5 0 1 0 10 0a5 5 0 1 0-10 0M3180 1227.3m-5 0a5 5 0 1 0 10 0a5 5 0 1 0-10 0M3209 1226.2m-5 0a5 5 0 1 0 10 0a5 5 0 1 0-10 0M3238 1229.3m-5 0a5 5 0 1 0 10 0a5 5 0 1 0-10 0M3267 1228.4m-5 0a5 5 0 1 0 10 0a5 5 0 1 0-10 0M3296 1229.1m-5 0a5 5 0 1 0 10 0a5 5 0 1 0-10 0M3325 1226.1m-5 0a5 5 0 1 0 10 0a5 5 0 1 0-10 0M3354 1229.3m-5 0a5 5 0 1 0 10 0a5 5 0 1 0-10 0M3383 1229.7m-5 0a5 5 0 1 0 10 0a5 5 0 1 0-10 0M3412 1229.7m-5 0a5 5 0 1 0 10 0a5 5 0 1 0-10 0M3441 1228.4m-5 0a5 5 0 1 0 10 0a5 5 0 1 0-10 0M3470 1224.1m-5 0a5 5 0 1 0 10 0a5 5 0 1 0-10 0M3499 1227.0m-5 0a5 5 0 1 0 10 0a5 5 0 1 0-10 0M3528 1224.1m-5 0a5 5 0 1 0 10 0a5 5 0 1 0-10 0M3557 1228.6m-5 0a5 5 0 1 0 10 0a5 5 0 1 0-10 0M3586 1229.2m-5 0a5 5 0 1 0 10 0a5 5 0 1 0-10 0M3615 1226.2m-5 0a5 5 0 1 0 10 0a5 5 0 1 0-10 0M3644 1227.0m-5 0a5 5 0 1 0 10 0a5 5 0 1 0-10 0M3673 1229.8m-5 0a5 5 0 1 0 10 0a5 5 0 1 0-10 0" fill="#447EBC"/>
<path d="M193 1113.4 L222 1144.8 L251 1124.4 L280 1098.1 L309 1113.4 L338 1164.3 L367 1140.5 L396 1175.3 L425 1183.8 L454 1133.7 L483 1096.4 L512 1120.2 L541 1093.0 L570 1125.2 L599 1154.1 L628 1093.0 L657 1139.7 L686 1122.7 L715 1094.7 L744 1176.1 L773 1131.2 L802 1149.0 L831 1185.5 L860 1149.8 L889 1080.3 L918 1042.1 L947 1154.1 L976 1166.0 L1005 1132.0 L1034 1116.8 L1063 1149.0 L1092 1115.1 L1121 1147.3 L1150 1054.9 L1179 1108.3 L1208 1154.1 L1237 1139.7 L1266 1143.9 L1295 1188.8 L1324 1132.0 L1353 1110.0 L1382 1081.2 L1411 1145.6 L1440 1117.6 L1469 1081.2 L1498 1177.8 L1527 1104.9 L1556 1167.6 L1585 1104.9 L1614 1112.5 L1643 976.0 L1672 1117.6 L1701 1147.3 L1730 1161.7 L1759 1124.4 L1788 1068.4 L1817 1151.5 L1846 1159.2 L1875 1139.7 L1904 1179.5 L1933 1115.1 L1962 1149.8 L1991 1127.8 L2020 1115.1 L2049 1147.3 L2078 1108.3 L2107 1147.3 L2136 1125.2 L2165 1078.6 L2194 1164.3 L2223 1028.6 L2252 1169.3 L2281 1176.1 L2310 1151.5 L2339 1154.9 L2368 1071.0 L2397 1098.1 L2426 1098.1 L2455 1080.3 L2484 1037.9 L2513 1076.9 L2542 1017.6 L2571 1115.9 L2600 1139.7 L2629 1160.9 L2658 1054.0 L2687 811.5 L2716 1009.9 L2745 1197.3 L2774 1178.7 L2803 1156.6 L2832 1173.6 L2861 1156.6 L2890 1149.0 L2919 1170.2 L2948 1132.0 L2977 1138.8 L3006 1141.4 L3035 1154.9 L3064 1190.5 L3093 1107.4 L3122 1160.9 L3151 1167.6 L3180 1085.4 L3209 1154.1 L3238 1178.7 L3267 1159.2 L3296 1164.3 L3325 1169.3 L3354 1147.3 L3383 1154.9 L3412 1124.4 L3441 1099.8 L3470 1191.4 L3499 1190.5 L3528 1166.0 L3557 1193.9 L3586 1104.9 L3615 1124.4 L3644 1110.0 L3673 1112.5" stroke="#C15C17" stroke-width="2" fill="none" stroke-linejoin="round"/>
<path d="M222 1144.8m-5 0a5 5 0 1 0 10 0a5 5 0 1 0-10 0M251 1124.4m-5 0a5 5 0 1 0 10 0a5 5 0 1 0-10 0M280 1098.1m-5 0a5 5 0 1 0 10 0a5 5 0 1 0-10 0M309 1113.4m-5 0a5 5 0 1 0 10 0a5 5 0 1 0-10 0M338 1164.3m-5 0a5 5 0 1 0 10 0a5 5 0 1 0-10 0M367 1140.5m-5 0a5 5 0 1 0 10 0a5 5 0 1 0-10 0M396 1175.3m-5 0a5 5 0 1 0 10 0a5 5 0 1 0-10 0M425 1183.8m-5 0a5 5 0 1 0 10 0a5 5 0 1 0-10 0M454 1133.7m-5 0a5 5 0 1 0 10 0a5 5 0 1 0-10 0M483 1096.4m-5 0a5 5 0 1 0 10 0a5 5 0 1 0-10 0M512 1120.2m-5 0a5 5 0 1 0 10 0a5 5 0 1 0-10 0M541 1093.0m-5 0a5 5 0 1 0 10 0a5 5 0 1 0-10 0M570 1125.2m-5 0a5 5 0 1 0 10 0a5 5 0 1 0-10 0M599 1154.1m-5 0a5 5 0 1 0 10 0a5 5 0 1 0-10 0M628 1093.0m-5 0a5 5 0 1 0 10 0a5 5 0 1 0-10 0M657 1139.7m-5 0a5 5 0 1 0 10 0a5 5 0 1 0-10 0M686 1122.7m-5 0a5 5 0 1 0 10 0a5 5 0 1 0-10 0M715 1094.7m-5 0a5 5 0 1 0 10 0a5 5 0 1 0-10 0M744 1176.1m-5 0a5 5 0 1 0 10 0a5 5 0 1 0-10 0M773 1131.2m-5 0a5 5 0 1 0 10 0a5 5 0 1 0-10 0M802 1149.0m-5 0a5 5 0 1 0 10 0a5 5 0 1 0-10 0M831 1185.5m-5 0a5 5 0 1 0 10 0a5 5 0 1 0-10 0M860 1149.8m-5 0a5 5 0 1 0 10 0a5 5 0 1 0-10 0M889 1080.3m-5 0a5 5 0 1 0 10 0a5 5 0 1 0-10 0M918 1042.1m-5 0a5 5 0 1 0 10 0a5 5 0 1 0-10 0M947 1154.1m-5 0a5 5 0 1 0 10 0a5 5 0 1 0-10 0M976 1166.0m-5 0a5 5 0 1 0 10 0a5 5 0 1 0-10 0M1005 1132.0m-5 0a5 5 0 1 0 10 0a5 5 0 1 0-10 0M1034 1116.8m-5 0a5 5 0 1 0 10 0a5 5 0 1 0-10 0M1063 1149.0m-5 0a5 5 0 1 0 10 0a5 5 0 1 0-10 0M1092 1115.1m-5 0a5 5 0 1 0 10 0a5 5 0 1 0-10 0M1121 1147.3m-5 0a5 5 0 1 0 10 0a5 5 0 1 0-10 0M1150 1054.9m-5 0a5 5 0 1 0 10 0a5 5 0 1 0-10 0M1179 1108.3m-5 0a5 5 0 1 0 10 0a5 5 0 1 0-10 0M1208 1154.1m-5 0a5 5 0 1 0 10 0a5 5 0 1 0-10 0M1237 1139.7m-5 0a5 5 0 1 0 10 0a5 5 0 1 0-10 0M1266 1143.9m-5 0a5 5 0 1 0 10 0a5 5 0 1 0-10 0M1295 1188.8m-5 0a5 5 0 1 0 10 0a5 5 0 1 0-10 0M1324 1132.0m-5 0a5 5 0 1 0 10 0a5 5 0 1 0-10 0M1353 1110.0m-5 0a5 5 0 1 0 10 0a5 5 0 1 0-10 0M1382 1081.2m-5 0a5 5 0 1 0 10 0a5 5 0 1 0-10 0M1411 1145.6m-5 0a5 5 0 1 0 10 0a5 5 0 1 0-10 0M1440 1117.6m-5 0a5 5 0 1 0 10 0a5 5 0 1 0-10 0M1469 1081.2m-5 0a5 5 0 1 0 10 0a5 5 0 1 0-10 0M1498 1177.8m-5 0a5 5 0 1 0 10 0a5 5 0 1 0-10 0M1527 1104.9m-5 0a5 5 0 1 0 10 0a5 5 0 1 0-10 0M1556 1167.6m-5 0a5 5 0 1 0 10 0a5 5 0 1 0-10 0M1585 1104.9m-5 0a5 5 0 1 0 10 0a5 5 0 1 0-10 0M1614 1112.5m-5 0a5 5 0 1 0 10 0a5 5 0 1 0-10 0M1643 976.0m-5 0a5 5 0 1 0 10 0a5 5 0 1 0-10 0M1672 1117.6m-5 0a5 5 0 1 0 10 0a5 5 0 1 0-10 0M1701 1147.3m-5 0a5 5 0 1 0 10 0a5 5 0 1 0-10 0M1730 1161.7m-5 0a5 5 0 1 0 10 0a5 5 0 1 0-10 0M1759 1124.4m-5 0a5 5 0 1 0 10 0a5 5 0 1 0-10 0M1788 1068.4m-5 0a5 5 0 1 0 10 0a5 5 0 1 0-10 0M1817 1151.5m-5 0a5 5 0 1 0 10 0a5 5 0 1 0-10 0M1846 1159.2m-5 0a5 5 0 1 0 10 0a5 5 0 1 0-10 0M1875 1139.7m-5 0a5 5 0 1 0 10 0a5 5 0 1 0-10 0M1904 1179.5m-5 0a5 5 0 1 0 10 0a5 5 0 1 0-10 0M1933 1115.1m-5 0a5 5 0 1 0 10 0a5 5 0 1 0-10 0M1962 1149.8m-5 0a5 5 0 1 0 10 0a5 5 0 1 0-10 0M1991 1127.8m-5 0a5 5 0 1 0 10 0a5 5 0 1 0-10 0M2020 1115.1m-5 0a5 5 0 1 0 10 0a5 5 0 1 0-10 0M2049 1147.3m-5 0a5 5 0 1 0 10 0a5 5 0 1 0-10 0M2078 1108.3m-5 0a5 5 0 1 0 10 0a5 5 0 1 0-10 0M2107 1147.3m-5 0a5 5 0 1 0 10 0a5 5 0 1 0-10 0M2136 1125.2m-5 0a5 5 0 1 0 10 0a5 5 0 1 0-10 0M2165 1078.6m-5 0a5 5 0 1 0 10 0a5 5 0 1 0-10 0M2194 1164.3m-5 0a5 5 0 1 0 10 0a5 5 0 1 0-10 0M2223 1028.6m-5 0a5 5 0 1 0 10 0a5 5 0 1 0-10 0M2252 1169.3m-5 0a5 5 0 1 0 10 0a5 5 0 1 0-10 0M2281 1176.1m-5 0a5 5 0 1 0 10 0a5 5 0 1 0-10 0M2310 1151.5m-5 0a5 5 0 1 0 10 0a5 5 0 1 0-10 0M2339 1154.9m-5 0a5 5 0 1 0 10 0a5 5 0 1 0-10 0M2368 1071.0m-5 0a5 5 0 1 0 10 0a5 5 0 1 0-10 0M2397 1098.1m-5 0a5 5 0 1 0 10 0a5 5 0 1 0-10 0M2426 1098.1m-5 0a5 5 0 1 0 10 0a5 5 0 1 0-10 0M2455 1080.3m-5 0a5 5 0 1 0 10 0a5 5 0 1 0-10 0M2484 1037.9m-5 0a5 5 0 1 0 10 0a5 5 0 1 0-10 0M2513 1076.9m-5 0a5 5 0 1 0 10 0a5 5 0 1 0-10 0M2542 1017.6m-5 0a5 5 0 1 0 10 0a5 5 0 1 0-10 0M2571 1115.9m-5 0a5 5 0 1 0 10 0a5 5 0 1 0-10 0M2600 1139.7m-5 0a5 5 0 1 0 10 0a5 5 0 1 0-10 0M2629 1160.9m-5 0a5 5 0 1 0 10 0a5 5 0 1 0-10 0M2658 1054.0m-5 0a5 5 0 1 0 10 0a5 5 0 1 0-10 0M2687 811.5m-5 0a5 5 0 1 0 10 0a5 5 0 1 0-10 0M2716 1009.9m-5 0a5 5 0 1 0 10 0a5 5 0 1 0-10 0M2745 1197.3m-5 0a5 5 0 1 0 10 0a5 5 0 1 0-10 0M2774 1178.7m-5 0a5 5 0 1 0 10 0a5 5 0 1 0-10 0M2803 1156.6m-5 0a5 5 0 1 0 10 0a5 5 0 1 0-10 0M2832 1173.6m-5 0a5 5 0 1 0 10 0a5 5 0 1 0-10 0M2861 1156.6m-5 0a5 5 0 1 0 10 0a5 5 0 1 0-10 0M2890 1149.0m-5 0a5 5 0 1 0 10 0a5 5 0 1 0-10 0M2919 1170.2m-5 0a5 5 0 1 0 10 0a5 5 0 1 0-10 0M2948 1132.0m-5 0a5 5 0 1 0 10 0a5 5 0 1 0-10 0M2977 1138.8m-5 0a5 5 0 1 0 10 0a5 5 0 1 0-10 0M3006 1141.4m-5 0a5 5 0 1 0 10 0a5 5 0 1 0-10 0M3035 1154.9m-5 0a5 5 0 1 0 10 0a5 5 0 1 0-10 0M3064 1190.5m-5 0a5 5 0 1 0 10 0a5 5 0 1 0-10 0M3093 1107.4m-5 0a5 5 0 1 0 10 0a5 5 0 1 0-10 0M3122 1160.9m-5 0a5 5 0 1 0 10 0a5 5 0 1 0-10 0M3151 1167.6m-5 0a5 5 0 1 0 10 0a5 5 0 1 0-10 0M3180 1085.4m-5 0a5 5 0 1 0 10 0a5 5 0 1 0-10 0M3209 1154.1m-5 0a5 5 0 1 0 10 0a5 5 0 1 0-10 0M3238 1178.7m-5 0a5 5 0 1 0 10 0a5 5 0 1 0-10 0M3267 1159.2m-5 0a5 5 0 1 0 10 0a5 5 0 1 0-10 0M3296 1164.3m-5 0a5 5 0 1 0 10 0a5 5 0 1 0-10 0M3325 1169.3m-5 0a5 5 0 1 0 10 0a5 5 0 1 0-10 0M3354 1147.3m-5 0a5 5 0 1 0 10 0a5 5 0 1 0-10 0M3383 1154.9m-5 0a5 5 0 1 0 10 0a5 5 0 1 0-10 0M3412 1124.4m-5 0a5 5 0 1 0 10 0a5 5 0 1 0-10 0M3441 1099.8m-5 0a5 5 0 1 0 10 0a5 5 0 1 0-10 0M3470 1191.4m-5 0a5 5 0 1 0 10 0a5 5 0 1 0-10 0M3499 1190.5m-5 0a5 5 0 1 0 10 0a5 5 0 1 0-10 0M3528 1166.0m-5 0a5 5 0 1 0 10 0a5 5 0 1 0-10 0M3557 1193.9m-5 0a5 5 0 1 0 10 0a5 5 0 1 0-10 0M3586 1104.9m-5 0a5 5 0 1 0 10 0a5 5 0 1 0-10 0M3615 1124.4m-5 0a5 5 0 1 0 10 0a5 5 0 1 0-10 0M3644 1110.0m-5 0a5 5 0 1 0 10 0a5 5 0 1 0-10 0M3673 1112.5m-5 0a5 5 0 1 0 10 0a5 5 0 1 0-10 0" fill="#C15C17"/>
<path d="M193 1226.2 L222 1227.3 L251 1226.0 L280 1228.4 L309 1224.8 L338 1229.2 L367 1217.6 L396 1225.0 L425 1226.2 L454 1229.4 L483 1226.1 L512 1229.1 L541 1228.5 L570 1226.7 L599 1229.6 L628 1228.2 L657 1229.7 L686 1228.0 L715 1228.4 L744 1226.3 L773 1220.6 L802 1226.4 L831 1229.8 L860 1228.3 L889 1215.3 L918 1223.9 L947 1229.8 L976 1229.6 L1005 1226.3 L1034 1228.9 L1063 1227.0 L1092 1226.4 L1121 1228.6 L1150 1206.3 L1179 1223.4 L1208 1228.9 L1237 1227.1 L1266 1228.7 L1295 1228.8 L1324 1229.9 L1353 1226.9 L1382 1226.3 L1411 1227.4 L1440 1226.2 L1469 1223.0 L1498 1228.0 L1527 1226.2 L1556 1226.2 L1585 1223.0 L1614 1222.1 L1643 1224.1 L1672 1222.3 L1701 1226.7 L1730 1226.9 L1759 1227.5 L1788 1223.9 L1817 1228.5 L1846 1226.8 L1875 1229.6 L1904 1229.1 L1933 1224.0 L1962 1222.2 L1991 1227.7 L2020 1228.6 L2049 1226.1 L2078 1223.1 L2107 1228.9 L2136 1229.6 L2165 1229.5 L2194 1227.9 L2223 1222.7 L2252 1229.0 L2281 1228.3 L2310 1221.2 L2339 1227.0 L2368 1221.2 L2397 1229.4 L2426 1222.9 L2455 1219.5 L2484 1215.6 L2513 1221.9 L2542 1220.9 L2571 1219.6 L2600 1228.3 L2629 1226.0 L2658 1223.0 L2687 1193.1 L2716 1218.0 L2745 1228.0 L2774 1226.7 L2803 1226.6 L2832 1226.3 L2861 1229.7 L2890 1228.7 L2919 1229.4 L2948 1229.2 L2977 1226.1 L3006 1227.6 L3035 1226.3 L3064 1228.4 L3093 1226.5 L3122 1228.1 L3151 1221.1 L3180 1226.2 L3209 1229.5 L3238 1227.6 L3267 1227.5 L3296 1229.0 L3325 1228.5 L3354 1229.3 L3383 1229.1 L3412 1228.9 L3441 1227.6 L3470 1225.7 L3499 1229.8 L3528 1225.2 L3557 1229.2 L3586 1228.7 L3615 1229.1 L3644 1226.8 L3673 1227.8" stroke="#890F02" stroke-width="2" fill="none" stroke-linejoin="round"/>
<path d="M222 1227.3m-5 0a5 5 0 1 0 10 0a5 5 0 1 0-10 0M251 1226.0m-5 0a5 5 0 1 0 10 0a5 5 0 1 0-10 0M280 1228.4m-5 0a5 5 0 1 0 10 0a5 5 0 1 0-10 0M309 1224.8m-5 0a5 5 0 1 0 10 0a5 5 0 1 0-10 0M338 1229.2m-5 0a5 5 0 1 0 10 0a5 5 0 1 0-10 0M367 1217.6m-5 0a5 5 0 1 0 10 0a5 5 0 1 0-10 0M396 1225.0m-5 0a5 5 0 1 0 10 0a5 5 0 1 0-10 0M425 1226.2m-5 0a5 5 0 1 0 10 0a5 5 0 1 0-10 0M454 1229.4m-5 0a5 5 0 1 0 10 0a5 5 0 1 0-10 0M483 1226.1m-5 0a5 5 0 1 0 10 0a5 5 0 1 0-10 0M512 1229.1m-5 0a5 5 0 1 0 10 0a5 5 0 1 0-10 0M541 1228.5m-5 0a5 5 0 1 0 10 0a5 5 0 1 0-10 0M570 1226.7m-5 0a5 5 0 1 0 10 0a5 5 0 1 0-10 0M599 1229.6m-5 0a5 5 0 1 0 10 0a5 5 0 1 0-10 0M628 1228.2m-5 0a5 5 0 1 0 10 0a5 5 0 1 0-10 0M657 1229.7m-5 0a5 5 0 1 0 10 0a5 5 0 1 0-10 0M686 1228.0m-5 0a5 5 0 1 0 10 0a5 5 0 1 0-10 0M715 1228.4m-5 0a5 5 0 1 0 10 0a5 5 0 1 0-10 0M744 1226.3m-5 0a5 5 0 1 0 10 0a5 5 0 1 0-10 0M773 1220.6m-5 0a5 5 0 1 0 10 0a5 5 0 1 0-10 0M802 1226.4m-5 0a5 5 0 1 0 10 0a5 5 0 1 0-10 0M831 1229.8m-5 0a5 5 0 1 0 10 0a5 5 0 1 0-10 0M860 1228.3m-5 0a5 5 0 1 0 10 0a5 5 0 1 0-10 0M889 1215.3m-5 0a5 5 0 1 0 10 0a5 5 0 1 0-10 0M918 1223.9m-5 0a5 5 0 1 0 10 0a5 5 0 1 0-10 0M947 1229.8m-5 0a5 5 0 1 0 10 0a5 5 0 1 0-10 0M976 1229.6m-5 0a5 5 0 1 0 10 0a5 5 0 1 0-10 0M1005 1226.3m-5 0a5 5 0 1 0 10 0a5 5 0 1 0-10 0M1034 1228.9m-5 0a5 5 0 1 0 10 0a5 5 0 1 0-10 0M1063 1227.0m-5 0a5 5 0 1 0 10 0a5 5 0 1 0-10 0M1092 1226.4m-5 0a5 5 0 1 0 10 0a5 5 0 1 0-10 0M1121 1228.6m-5 0a5 5 0 1 0 10 0a5 5 0 1 0-10 0M1150 1206.3m-5 0a5 5 0 1 0 10 0a5 5 0 1 0-10 0M1179 1223.4m-5 0a5 5 0 1 0 10 0a5 5 0 1 0-10 0M1208 1228.9m-5 0a5 5 0 1 0 10 0a5 5 0 1 0-10 0M1237 1227.1m-5 0a5 5 0 1 0 10 0a5 5 0 1 0-10 0M1266 1228.7m-5 0a5 5 0 1 0 10 0a5 5 0 1 0-10 0M1295 1228.8m-5 0a5 5 0 1 0 10 0a5 5 0 1 0-10 0M1324 1229.9m-5 0a5 5 0 1 0 10 0a5 5 0 1 0-10 0M1353 1226.9m-5 0a5 5 0 1 0 10 0a5 5 0 1 0-10 0M1382 1226.3m-5 0a5 5 0 1 0 10 0a5 5 0 1 0-10 0M1411 1227.4m-5 0a5 5 0 1 0 10 0a5 5 0 1 0-10 0M1440 1226.2m-5 0a5 5 0 1 0 10 0a5 5 0 1 0-10 0M1469 1223.0m-5 0a5 5 0 1 0 10 0a5 5 0 1 0-10 0M1498 1228.0m-5 0a5 5 0 1 0 10 0a5 5 0 1 0-10 0M1527 1226.2m-5 0a5 5 0 1 0 10 0a5 5 0 1 0-10 0M1556 1226.2m-5 0a5 5 0 1 0 10 0a5 5 0 1 0-10 0M1585 1223.0m-5 0a5 5 0 1 0 10 0a5 5 0 1 0-10 0M1614 1222.1m-5 0a5 5 0 1 0 10 0a5 5 0 1 0-10 0M1643 1224.1m-5 0a5 5 0 1 0 10 0a5 5 0 1 0-10 0M1672 1222.3m-5 0a5 5 0 1 0 10 0a5 5 0 1 0-10 0M1701 1226.7m-5 0a5 5 0 1 0 10 0a5 5 0 1 0-10 0M1730 1226.9m-5 0a5 5 0 1 0 10 0a5 5 0 1 0-10 0M1759 1227.5m-5 0a5 5 0 1 0 10 0a5 5 0 1 0-10 0M1788 1223.9m-5 0a5 5 0 1 0 10 0a5 5 0 1 0-10 0M1817 1228.5m-5 0a5 5 0 1 0 10 0a5 5 0 1 0-10 0M1846 1226.8m-5 0a5 5 0 1 0 10 0a5 5 0 1 0-10 0M1875 1229.6m-5 0a5 5 0 1 0 10 0a5 5 0 1 0-10 0M1904 1229.1m-5 0a5 5 0 1 0 10 0a5 5 0 1 0-10 0M1933 1224.0m-5 0a5 5 0 1 0 10 0a5 5 0 1 0-10 0M1962 1222.2m-5 0a5 5 0 1 0 10 0a5 5 0 1 0-10 0M1991 1227.7m-5 0a5 5 0 1 0 10 0a5 5 0 1 0-10 0M2020 1228.6m-5 0a5 5 0 1 0 10 0a5 5 0 1 0-10 0M2049 1226.1m-5 0a5 5 0 1 0 10 0a5 5 0 1 0-10 0M2078 1223.1m-5 0a5 5 0 1 0 10 0a5 5 0 1 0-10 0M2107 1228.9m-5 0a5 5 0 1 0 10 0a5 5 0 1 0-10 0M2136 1229.6m-5 0a5 5 0 1 0 10 0a5 5 0 1 0-10 0M2165 1229.5m-5 0a5 5 0 1 0 10 0a5 5 0 1 0-10 0M2194 1227.9m-5 0a5 5 0 1 0 10 0a5 5 0 1 0-10 0M2223 1222.7m-5 0a5 5 0 1 0 10 0a5 5 0 1 0-10 0M2252 1229.0m-5 0a5 5 0 1 0 10 0a5 5 0 1 0-10 0M2281 1228.3m-5 0a5 5 0 1 0 10 0a5 5 0 1 0-10 0M2310 1221.2m-5 0a5 5 0 1 0 10 0a5 5 0 1 0-10 0M2339 1227.0m-5 0a5 5 0 1 0 10 0a5 5 0 1 0-10 0M2368 1221.2m-5 0a5 5 0 1 0 10 0a5 5 0 1 0-10 0M2397 1229.4m-5 0a5 5 0 1 0 10 0a5 5 0 1 0-10 0M2426 1222.9m-5 0a5 5 0 1 0 10 0a5 5 0 1 0-10 0M2455 1219.5m-5 0a5 5 0 1 0 10 0a5 5 0 1 0-10 0M2484 1215.6m-5 0a5 5 0 1 0 10 0a5 5 0 1 0-10 0M2513 1221.9m-5 0a5 5 0 1 0 10 0a5 5 0 1 0-10 0M2542 1220.9m-5 0a5 5 0 1 0 10 0a5 5 0 1 0-10 0M2571 1219.6m-5 0a5 5 0 1 0 10 0a5 5 0 1 0-10 0M2600 1228.3m-5 0a5 5 0 1 0 10 0a5 5 0 1 0-10 0M2629 1226.0m-5 0a5 5 0 1 0 10 0a5 5 0 1 0-10 0M2658 1223.0m-5 0a5 5 0 1 0 10 0a5 5 0 1 0-10 0M2687 1193.1m-5 0a5 5 0 1 0 10 0a5 5 0 1 0-10 0M2716 1218.0m-5 0a5 5 0 1 0 10 0a5 5 0 1 0-10 0M2745 1228.0m-5 0a5 5 0 1 0 10 0a5 5 0 1 0-10 0M2774 1226.7m-5 0a5 5 0 1 0 10 0a5 5 0 1 0-10 0M2803 1226.6m-5 0a5 5 0 1 0 10 0a5 5 0 1 0-10 0M2832 1226.3m-5 0a5 5 0 1 0 10 0a5 5 0 1 0-10 0M2861 1229.7m-5 0a5 5 0 1 0 10 0a5 5 0 1 0-10 0M2890 1228.7m-5 0a5 5 0 1 0 10 0a5 5 0 1 0-10 0M2919 1229.4m-5 0a5 5 0 1 0 10 0a5 5 0 1 0-10 0M2948 1229.2m-5 0a5 5 0 1 0 10 0a5 5 0 1 0-10 0M2977 1226.1m-5 0a5 5 0 1 0 10 0a5 5 0 1 0-10 0M3006 1227.6m-5 0a5 5 0 1 0 10 0a5 5 0 1 0-10 0M3035 1226.3m-5 0a5 5 0 1 0 10 0a5 5 0 1 0-10 0M3064 1228.4m-5 0a5 5 0 1 0 10 0a5 5 0 1 0-10 0M3093 1226.5m-5 0a5 5 0 1 0 10 0a5 5 0 1 0-10 0M3122 1228.1m-5 0a5 5 0 1 0 10 0a5 5 0 1 0-10 0M3151 1221.1m-5 0a5 5 0 1 0 10 0a5 5 0 1 0-10 0M3180 1226.2m-5 0a5 5 0 1 0 10 0a5 5 0 1 0-10 0M3209 1229.5m-5 0a5 5 0 1 0 10 0a5 5 0 1 0-10 0M3238 1227.6m-5 0a5 5 0 1 0 10 0a5 5 0 1 0-10 0M3267 1227.5m-5 0a5 5 0 1 0 10 0a5 5 0 1 0-10 0M3296 1229.0m-5 0a5 5 0 1 0 10 0a5 5 0 1 0-10 0M3325 1228.5m-5 0a5 5 0 1 0 10 0a5 5 0 1 0-10 0M3354 1229.3m-5 0a5 5 0 1 0 10 0a5 5 0 1 0-10 0M3383 1229.1m-5 0a5 5 0 1 0 10 0a5 5 0 1 0-10 0M3412 1228.9m-5 0a5 5 0 1 0 10 0a5 5 0 1 0-10 0M3441 1227.6m-5 0a5 5 0 1 0 10 0a5 5 0 1 0-10 0M3470 1225.7m-5 0a5 5 0 1 0 10 0a5 5 0 1 0-10 0M3499 1229.8m-5 0a5 5 0 1 0 10 0a5 5 0 1 0-10 0M3528 1225.2m-5 0a5 5 0 1 0 10 0a5 5 0 1 0-10 0M3557 1229.2m-5 0a5 5 0 1 0 10 0a5 5 0 1 0-10 0M3586 1228.7m-5 0a5 5 0 1 0 10 0a5 5 0 1 0-10 0M3615 1229.1m-5 0a5 5 0 1 0 10 0a5 5 0 1 0-10 0M3644 1226.8m-5 0a5 5 0 1 0 10 0a5 5 0 1 0-10 0M3673 1227.8m-5 0a5 5 0 1 0 10 0a5 5 0 1 0-10 0" fill="#890F02"/>
</g>
<path d="M613 620V1230" stroke="#67879a" stroke-width="2" stroke-dasharray="6 4" fill="none"/>
<path d="M210 869H3690" stroke="#67879a" stroke-width="2" stroke-dasharray="6 4" fill="none"/>
<circle cx="599" cy="1171.9" r="10" fill="#73BF69" fill-opacity="0.45"/><circle cx="599" cy="1171.9" r="6" fill="#73BF69"/>
<circle cx="599" cy="1037.1" r="10" fill="#F2CC0C" fill-opacity="0.45"/><circle cx="599" cy="1037.1" r="6" fill="#F2CC0C"/>
<circle cx="599" cy="1229.7" r="10" fill="#8AB8FF" fill-opacity="0.45"/><circle cx="599" cy="1229.7" r="6" fill="#8AB8FF"/>
<circle cx="599" cy="1164.3" r="10" fill="#FF780A" fill-opacity="0.45"/><circle cx="599" cy="1164.3" r="6" fill="#FF780A"/>
<circle cx="599" cy="1229.6" r="10" fill="#F2495C" fill-opacity="0.45"/><circle cx="599" cy="1229.6" r="6" fill="#F2495C"/>
<circle cx="599" cy="1069.3" r="10" fill="#5794F2" fill-opacity="0.45"/><circle cx="599" cy="1069.3" r="6" fill="#5794F2"/>
<circle cx="599" cy="1229.3" r="10" fill="#B877D9" fill-opacity="0.45"/><circle cx="599" cy="1229.3" r="6" fill="#B877D9"/>
<circle cx="599" cy="1122.7" r="10" fill="#705DA0" fill-opacity="0.45"/><circle cx="599" cy="1122.7" r="6" fill="#705DA0"/>
<circle cx="599" cy="1229.2" r="10" fill="#37872D" fill-opacity="0.45"/><circle cx="599" cy="1229.2" r="6" fill="#37872D"/>
<circle cx="599" cy="1135.4" r="10" fill="#FADE2A" fill-opacity="0.45"/><circle cx="599" cy="1135.4" r="6" fill="#FADE2A"/>
<circle cx="599" cy="1229.1" r="10" fill="#447EBC" fill-opacity="0.45"/><circle cx="599" cy="1229.1" r="6" fill="#447EBC"/>
<circle cx="599" cy="1154.1" r="10" fill="#C15C17" fill-opacity="0.45"/><circle cx="599" cy="1154.1" r="6" fill="#C15C17"/>
<circle cx="599" cy="1229.6" r="10" fill="#890F02" fill-opacity="0.45"/><circle cx="599" cy="1229.6" r="6" fill="#890F02"/>
</svg>
<div class="b" style="left:196px;top:1294px;width:28px;height:8px;border-radius:2px;background:#73BF69"></div>
<div class="b" style="left:854px;top:1294px;width:28px;height:8px;border-radius:2px;background:#F2CC0C"></div>
<div class="b" style="left:1470px;top:1294px;width:28px;height:8px;border-radius:2px;background:#8AB8FF"></div>
<div class="b" style="left:2085.5px;top:1294px;width:28px;height:8px;border-radius:2px;background:#FF780A"></div>
<div class="b" style="left:2715px;top:1294px;width:28px;height:8px;border-radius:2px;background:#F2495C"></div>
<div class="b" style="left:196px;top:1338px;width:28px;height:8px;border-radius:2px;background:#5794F2"></div>
<div class="b" style="left:812px;top:1338px;width:28px;height:8px;border-radius:2px;background:#B877D9"></div>
<div class="b" style="left:1427.5px;top:1338px;width:28px;height:8px;border-radius:2px;background:#705DA0"></div>
<div class="b" style="left:2043px;top:1338px;width:28px;height:8px;border-radius:2px;background:#37872D"></div>
<div class="b" style="left:2658.5px;top:1338px;width:28px;height:8px;border-radius:2px;background:#FADE2A"></div>
<div class="b" style="left:196px;top:1382px;width:28px;height:8px;border-radius:2px;background:#447EBC"></div>
<div class="b" style="left:812px;top:1382px;width:28px;height:8px;border-radius:2px;background:#C15C17"></div>
<div class="b" style="left:1427.5px;top:1382px;width:28px;height:8px;border-radius:2px;background:#890F02"></div>
<div id="txt" style="position:absolute;left:0;top:0;width:3746px;height:1428px;will-change:transform">
<span class="t" id="explore" style="top:28.3px;font-size:36px;color:#ccccdc;letter-spacing:-0.090px;left:193.5px;">Explore</span>
<span class="t" id="ds" style="top:30.8px;font-size:28px;color:#ccccdc;letter-spacing:0.236px;left:416.5px;">aiven-m3db-m3db-telegraf-example</span>
<span class="t w5" id="split" style="top:32.3px;font-size:28px;color:#8e8f9c;letter-spacing:0.578px;left:2617.5px;">Split</span>
<span class="t w5" id="last" style="top:32.3px;font-size:28px;color:#8e8f9c;letter-spacing:0.545px;left:2867.5px;">Last 30 minutes</span>
<span class="t w5" id="clear" style="top:32.3px;font-size:28px;color:#8e8f9c;letter-spacing:0.152px;left:3299.5px;">Clear all</span>
<span class="t w5" id="run" style="top:32.3px;font-size:28px;color:#ffffff;letter-spacing:-0.136px;left:3506.8px;">Run query</span>
<span class="t w5" id="mb" style="top:172.2px;font-size:24px;color:#6e9fff;letter-spacing:0.559px;left:179.9px;">Metrics browser</span>
<span class="t m w4" id="q1" style="top:171.5px;font-size:28px;color:#ccccdc;letter-spacing:0.259px;left:432.4px;">cpu_usage_user</span>
<span class="t m" id="q2" style="top:171.5px;font-size:28px;color:#eb7b18;letter-spacing:0.000px;left:671.8px;">{}</span>
<span class="t w5" id="dur" style="top:172.2px;font-size:24px;color:#8e8f9c;letter-spacing:-0.054px;left:3487.5px;">0.6s</span>
<span class="t w5" id="qt" style="top:244.3px;font-size:24px;color:#ccccdc;letter-spacing:0.073px;left:179.8px;">Query type</span>
<span class="t" id="range" style="top:242.1px;font-size:28px;color:#8e8f9c;letter-spacing:-0.359px;left:359.0px;">Range</span>
<span class="t" id="instant" style="top:242.1px;font-size:28px;color:#8e8f9c;letter-spacing:0.787px;left:503.0px;">Instant</span>
<span class="t w5" id="both" style="top:242.1px;font-size:28px;color:#ccccdc;letter-spacing:1.191px;left:655.7px;">Both</span>
<span class="t w5" id="step" style="top:244.3px;font-size:24px;color:#ccccdc;letter-spacing:0.059px;left:777.9px;">Step</span>
<span class="t" id="auto" style="top:242.1px;font-size:28px;color:#6c6e7c;letter-spacing:0.425px;left:947.8px;">auto</span>
<span class="t w5" id="ex" style="top:244.3px;font-size:24px;color:#ccccdc;letter-spacing:0.129px;left:1081.9px;">Exemplars</span>
<span class="t w5" id="help" style="top:316.3px;font-size:24px;color:#6e9fff;letter-spacing:0.063px;left:179.8px;">Help</span>
<span class="t w5" id="addq" style="top:410.3px;font-size:28px;color:#ccccdc;letter-spacing:0.095px;left:230.5px;">Add query</span>
<span class="t w5" id="qh" style="top:410.3px;font-size:28px;color:#ccccdc;letter-spacing:0.267px;left:475.5px;">Query history</span>
<span class="t w5" id="insp" style="top:410.3px;font-size:28px;color:#ccccdc;letter-spacing:0.819px;left:760.9px;">Inspector</span>
<span class="t w5" id="graph" style="top:540.3px;font-size:28px;color:#ccccdc;letter-spacing:-0.187px;left:179.9px;">Graph</span>
<span class="t" id="y0" style="top:1215.9px;font-size:24px;color:#ccccdc;letter-spacing:0.000px;right:3554.2px;">0</span>
<span class="t" id="y5" style="top:1131.1px;font-size:24px;color:#ccccdc;letter-spacing:0.000px;right:3554.2px;">5</span>
<span class="t" id="y10" style="top:1046.3px;font-size:24px;color:#ccccdc;letter-spacing:0.000px;right:3554.2px;">10</span>
<span class="t" id="y15" style="top:961.5px;font-size:24px;color:#ccccdc;letter-spacing:0.000px;right:3554.2px;">15</span>
<span class="t" id="y20" style="top:876.7px;font-size:24px;color:#ccccdc;letter-spacing:0.000px;right:3554.2px;">20</span>
<span class="t" id="y25" style="top:791.9px;font-size:24px;color:#ccccdc;letter-spacing:0.000px;right:3554.2px;">25</span>
<span class="t" id="y30" style="top:707.1px;font-size:24px;color:#ccccdc;letter-spacing:0.000px;right:3554.2px;">30</span>
<span class="t" id="y35" style="top:622.3px;font-size:24px;color:#ccccdc;letter-spacing:0.000px;right:3554.2px;">35</span>
<span class="t" id="x0" style="top:1246.1px;font-size:24px;color:#ccccdc;letter-spacing:0.000px;left:254.0px;width:400px;text-align:center;">21:25</span>
<span class="t" id="x1" style="top:1246.1px;font-size:24px;color:#ccccdc;letter-spacing:0.000px;left:834.0px;width:400px;text-align:center;">21:30</span>
<span class="t" id="x2" style="top:1246.1px;font-size:24px;color:#ccccdc;letter-spacing:0.000px;left:1414.0px;width:400px;text-align:center;">21:35</span>
<span class="t" id="x3" style="top:1246.1px;font-size:24px;color:#ccccdc;letter-spacing:0.000px;left:1994.0px;width:400px;text-align:center;">21:40</span>
<span class="t" id="x4" style="top:1246.1px;font-size:24px;color:#ccccdc;letter-spacing:0.000px;left:2574.0px;width:400px;text-align:center;">21:45</span>
<span class="t" id="x5" style="top:1246.1px;font-size:24px;color:#ccccdc;letter-spacing:0.000px;left:3154.0px;width:400px;text-align:center;">21:50</span>
<span class="t" id="lg0" style="top:1285.2px;font-size:24px;color:#ccccdc;letter-spacing:0.072px;left:239.6px;">cpu_usage_user{cpu="cpu-total", host="MacBook-Pro"}</span>
<span class="t" id="lg1" style="top:1285.2px;font-size:24px;color:#ccccdc;letter-spacing:0.013px;left:897.6px;">cpu_usage_user{cpu="cpu0", host="MacBook-Pro"}</span>
<span class="t" id="lg2" style="top:1285.2px;font-size:24px;color:#ccccdc;letter-spacing:0.013px;left:1513.6px;">cpu_usage_user{cpu="cpu1", host="MacBook-Pro"}</span>
<span class="t" id="lg3" style="top:1285.2px;font-size:24px;color:#ccccdc;letter-spacing:0.016px;left:2129.1px;">cpu_usage_user{cpu="cpu10", host="MacBook-Pro"}</span>
<span class="t" id="lg4" style="top:1285.2px;font-size:24px;color:#ccccdc;letter-spacing:0.055px;left:2758.6px;">cpu_usage_user{cpu="cpu11", host="MacBook-Pro"}</span>
<span class="t" id="lg5" style="top:1329.2px;font-size:24px;color:#ccccdc;letter-spacing:0.013px;left:239.6px;">cpu_usage_user{cpu="cpu2", host="MacBook-Pro"}</span>
<span class="t" id="lg6" style="top:1329.2px;font-size:24px;color:#ccccdc;letter-spacing:0.013px;left:855.6px;">cpu_usage_user{cpu="cpu3", host="MacBook-Pro"}</span>
<span class="t" id="lg7" style="top:1329.2px;font-size:24px;color:#ccccdc;letter-spacing:0.013px;left:1471.1px;">cpu_usage_user{cpu="cpu4", host="MacBook-Pro"}</span>
<span class="t" id="lg8" style="top:1329.2px;font-size:24px;color:#ccccdc;letter-spacing:0.013px;left:2086.6px;">cpu_usage_user{cpu="cpu5", host="MacBook-Pro"}</span>
<span class="t" id="lg9" style="top:1329.2px;font-size:24px;color:#ccccdc;letter-spacing:0.013px;left:2702.1px;">cpu_usage_user{cpu="cpu6", host="MacBook-Pro"}</span>
<span class="t" id="lg10" style="top:1373.2px;font-size:24px;color:#ccccdc;letter-spacing:0.013px;left:239.6px;">cpu_usage_user{cpu="cpu7", host="MacBook-Pro"}</span>
<span class="t" id="lg11" style="top:1373.2px;font-size:24px;color:#ccccdc;letter-spacing:0.013px;left:855.6px;">cpu_usage_user{cpu="cpu8", host="MacBook-Pro"}</span>
<span class="t" id="lg12" style="top:1373.2px;font-size:24px;color:#ccccdc;letter-spacing:0.013px;left:1471.1px;">cpu_usage_user{cpu="cpu9", host="MacBook-Pro"}</span>
</div>
</body></html>
